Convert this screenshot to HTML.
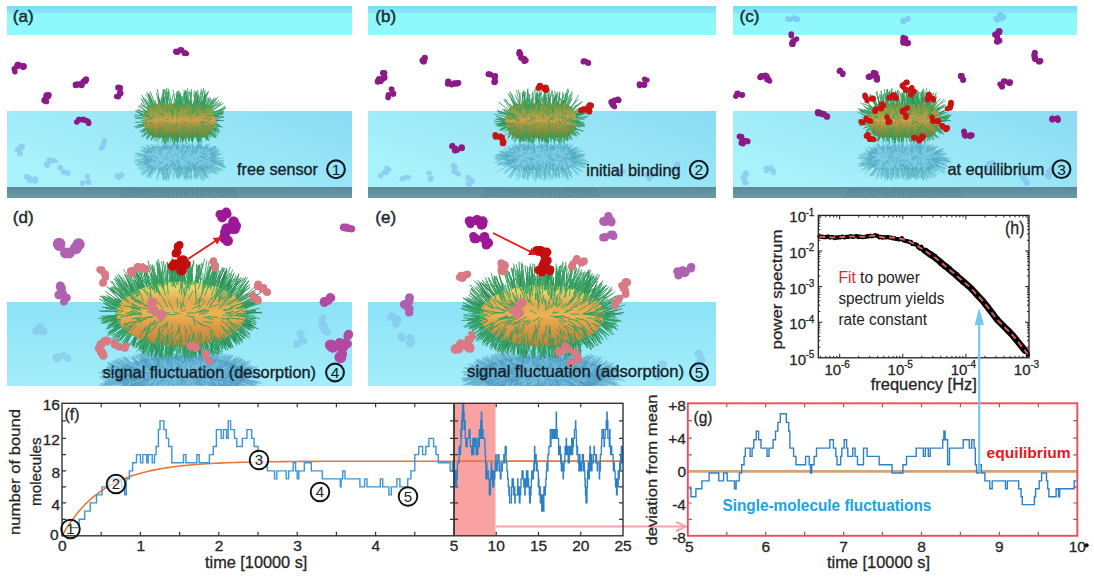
<!DOCTYPE html><html><head><meta charset="utf-8"><style>html,body{margin:0;padding:0;background:#fff;overflow:hidden}svg{display:block}text{font-family:"Liberation Sans",sans-serif}text[fill="#262626"]{stroke:#262626;stroke-width:0.3px}</style></head><body><svg width="1094" height="580" viewBox="0 0 1094 580"><defs><linearGradient id="topband" x1="0" y1="0" x2="0" y2="1"><stop offset="0" stop-color="#7cdcf5"/><stop offset="0.2" stop-color="#84e4f7"/><stop offset="0.3" stop-color="#8df9fc"/><stop offset="1" stop-color="#90f8fb"/></linearGradient><linearGradient id="low1" x1="0" y1="0.6" x2="1" y2="0"><stop offset="0" stop-color="#a8f2fb"/><stop offset="1" stop-color="#8cdbf3"/></linearGradient><linearGradient id="low2" x1="0" y1="0" x2="0" y2="1"><stop offset="0" stop-color="#8de2f7"/><stop offset="1" stop-color="#a3eefa"/></linearGradient><linearGradient id="bar" x1="0" y1="0" x2="0" y2="1"><stop offset="0" stop-color="#5a8a9a"/><stop offset="1" stop-color="#6d9aa8"/></linearGradient><clipPath id="c10"><rect x="7" y="111" width="345" height="76"/></clipPath><clipPath id="c11"><rect x="368" y="111" width="348" height="76"/></clipPath><clipPath id="c12"><rect x="733" y="111" width="344" height="76"/></clipPath><clipPath id="c20"><rect x="7" y="302" width="345" height="84"/></clipPath><clipPath id="c21"><rect x="368" y="302" width="348" height="84"/></clipPath><linearGradient id="B11" x1="0" y1="0" x2="0" y2="1"><stop offset="0" stop-color="#86983e"/><stop offset="0.3" stop-color="#a8a042"/><stop offset="0.5" stop-color="#dea04a"/><stop offset="0.6" stop-color="#b89840"/><stop offset="1" stop-color="#6c8636"/></linearGradient><linearGradient id="B12" x1="0" y1="0" x2="0" y2="1"><stop offset="0" stop-color="#86983e"/><stop offset="0.3" stop-color="#a8a042"/><stop offset="0.5" stop-color="#dea04a"/><stop offset="0.6" stop-color="#b89840"/><stop offset="1" stop-color="#6c8636"/></linearGradient><linearGradient id="B13" x1="0" y1="0" x2="0" y2="1"><stop offset="0" stop-color="#86983e"/><stop offset="0.3" stop-color="#a8a042"/><stop offset="0.5" stop-color="#dea04a"/><stop offset="0.6" stop-color="#b89840"/><stop offset="1" stop-color="#6c8636"/></linearGradient><linearGradient id="B21" x1="0" y1="0" x2="0" y2="1"><stop offset="0" stop-color="#e0c860"/><stop offset="0.1" stop-color="#ecd468"/><stop offset="0.3" stop-color="#e2a850"/><stop offset="0.5" stop-color="#eeb252"/><stop offset="0.7" stop-color="#dc9844"/><stop offset="1" stop-color="#c08038"/></linearGradient><linearGradient id="B22" x1="0" y1="0" x2="0" y2="1"><stop offset="0" stop-color="#e0c860"/><stop offset="0.1" stop-color="#ecd468"/><stop offset="0.3" stop-color="#e2a850"/><stop offset="0.5" stop-color="#eeb252"/><stop offset="0.7" stop-color="#dc9844"/><stop offset="1" stop-color="#c08038"/></linearGradient><marker id="ah" markerWidth="8" markerHeight="8" refX="6" refY="4" orient="auto" markerUnits="userSpaceOnUse"><path d="M0 0L8 4L0 8Z" fill="#e41a1a"/></marker></defs><rect width="1094" height="580" fill="#fff"/><g><rect x="7" y="6" width="345" height="29" fill="url(#topband)" />
<rect x="7" y="111" width="345" height="76" fill="url(#low1)" />
<rect x="7" y="187" width="345" height="11" fill="url(#bar)" />
<rect x="368" y="6" width="348" height="29" fill="url(#topband)" />
<rect x="368" y="111" width="348" height="76" fill="url(#low1)" />
<rect x="368" y="187" width="348" height="11" fill="url(#bar)" />
<rect x="733" y="6" width="344" height="29" fill="url(#topband)" />
<rect x="733" y="111" width="344" height="76" fill="url(#low1)" />
<rect x="733" y="187" width="344" height="11" fill="url(#bar)" />
<rect x="7" y="302" width="345" height="84" fill="url(#low2)" />
<rect x="368" y="302" width="348" height="84" fill="url(#low2)" />
<g fill="#7aaee6" opacity="0.5"><circle cx="102.6" cy="147.6" r="2.6"/><circle cx="101.9" cy="147.6" r="2.6"/><circle cx="101" cy="148.6" r="2.3"/><circle cx="103.5" cy="143.4" r="2.4"/><circle cx="103" cy="145.6" r="2.6"/><circle cx="104.4" cy="142.1" r="2.4"/><circle cx="104.6" cy="140.2" r="2.5"/></g>
<g fill="#7aaee6" opacity="0.5"><circle cx="67.9" cy="172.8" r="2.6"/><circle cx="67.8" cy="173.2" r="2.5"/><circle cx="64.2" cy="172.3" r="2.4"/><circle cx="63.6" cy="171.9" r="2.8"/><circle cx="60.2" cy="167.8" r="2.7"/><circle cx="60.3" cy="168" r="2.3"/></g>
<g fill="#7aaee6" opacity="0.5"><circle cx="35" cy="180" r="2.5"/><circle cx="35.6" cy="180.9" r="2.6"/><circle cx="35.2" cy="178.6" r="2.7"/><circle cx="31.4" cy="179.9" r="2.8"/><circle cx="30" cy="180.6" r="2.6"/><circle cx="29.7" cy="179.7" r="2.7"/><circle cx="26.5" cy="176.8" r="2.6"/><circle cx="28.6" cy="177.8" r="2.8"/><circle cx="27" cy="176.7" r="2.5"/></g>
<g fill="#7aaee6" opacity="0.5"><circle cx="87.1" cy="176.4" r="2.6"/><circle cx="88" cy="176.5" r="2.3"/><circle cx="88.6" cy="182" r="2.6"/><circle cx="87.7" cy="181.9" r="2.3"/><circle cx="88.5" cy="182.2" r="2.8"/><circle cx="82.5" cy="183.9" r="2.3"/><circle cx="82.4" cy="182.7" r="2.4"/><circle cx="83.1" cy="182.3" r="2.3"/></g>
<g fill="#7aaee6" opacity="0.5"><circle cx="55.5" cy="161.1" r="2.4"/><circle cx="53.8" cy="160.4" r="2.5"/><circle cx="51.4" cy="160.7" r="2.6"/><circle cx="49" cy="159.7" r="2.5"/><circle cx="49.5" cy="161.6" r="2.4"/><circle cx="46.1" cy="164" r="2.3"/><circle cx="47.1" cy="165.2" r="2.8"/><circle cx="47.6" cy="163.3" r="2.5"/></g>
<g fill="#7aaee6" opacity="0.5"><circle cx="20" cy="153.6" r="2.7"/><circle cx="20.3" cy="152.5" r="2.4"/><circle cx="19.3" cy="154.1" r="2.4"/><circle cx="19.2" cy="150.1" r="2.5"/><circle cx="17" cy="149.6" r="2.5"/><circle cx="20.7" cy="146.4" r="2.5"/><circle cx="21.4" cy="147.5" r="2.8"/><circle cx="22.1" cy="146.2" r="2.8"/></g>
<g fill="#7aaee6" opacity="0.5"><circle cx="118.6" cy="177.3" r="2.7"/><circle cx="117.4" cy="175.7" r="2.7"/><circle cx="121.5" cy="175.7" r="2.3"/><circle cx="120.7" cy="176.4" r="2.3"/><circle cx="121.8" cy="175" r="2.7"/></g>
<g fill="#7aaee6" opacity="0.5"><circle cx="380.5" cy="175.7" r="2.7"/><circle cx="380.7" cy="175.6" r="2.4"/><circle cx="384.4" cy="172.3" r="2.6"/><circle cx="386.4" cy="172.6" r="2.6"/><circle cx="388.7" cy="169.6" r="2.7"/><circle cx="387.7" cy="170" r="2.8"/><circle cx="386.7" cy="168.2" r="2.6"/></g>
<g fill="#7aaee6" opacity="0.5"><circle cx="402.2" cy="178.7" r="2.7"/><circle cx="403.2" cy="178.3" r="2.6"/><circle cx="408.4" cy="177.5" r="2.4"/><circle cx="406.2" cy="177.6" r="2.5"/></g>
<g fill="#7aaee6" opacity="0.5"><circle cx="431.1" cy="178.1" r="2.6"/><circle cx="430.5" cy="179.4" r="2.7"/><circle cx="429.7" cy="173.3" r="2.3"/><circle cx="428.7" cy="173.1" r="2.4"/></g>
<g fill="#7aaee6" opacity="0.5"><circle cx="458.6" cy="174.3" r="2.5"/><circle cx="456.8" cy="172.9" r="2.5"/><circle cx="453.4" cy="171.3" r="2.4"/><circle cx="454.9" cy="172.1" r="2.5"/><circle cx="454.1" cy="170.4" r="2.3"/><circle cx="453.4" cy="165.2" r="2.5"/><circle cx="453.9" cy="166.5" r="2.3"/><circle cx="454.9" cy="167.3" r="2.8"/></g>
<g fill="#7aaee6" opacity="0.5"><circle cx="467.9" cy="183.5" r="2.5"/><circle cx="469.6" cy="185.3" r="2.4"/><circle cx="471.8" cy="180" r="2.3"/><circle cx="471.8" cy="180.9" r="2.3"/><circle cx="472.4" cy="181.5" r="2.7"/><circle cx="467.9" cy="178.3" r="2.5"/><circle cx="468.6" cy="177.5" r="2.8"/></g>
<g fill="#7aaee6" opacity="0.5"><circle cx="623.2" cy="171.3" r="2.4"/><circle cx="621.2" cy="171.2" r="2.6"/><circle cx="618.1" cy="173.8" r="2.8"/><circle cx="617.5" cy="171.7" r="2.6"/></g>
<g fill="#7aaee6" opacity="0.5"><circle cx="647.6" cy="174.7" r="2.7"/><circle cx="647.3" cy="175.3" r="2.8"/><circle cx="649.5" cy="178.5" r="2.7"/><circle cx="650.3" cy="177.4" r="2.5"/><circle cx="652.5" cy="175.9" r="2.4"/><circle cx="652.8" cy="174.2" r="2.8"/></g>
<g fill="#7aaee6" opacity="0.5"><circle cx="671.1" cy="169.9" r="2.4"/><circle cx="673.2" cy="171.3" r="2.6"/><circle cx="675.4" cy="167.7" r="2.5"/><circle cx="675" cy="167.9" r="2.7"/><circle cx="675.4" cy="169.3" r="2.3"/><circle cx="677.8" cy="164.1" r="2.6"/><circle cx="677" cy="165.9" r="2.8"/></g>
<g fill="#78aef0" opacity="0.6"><circle cx="796.4" cy="19.2" r="2.6"/><circle cx="796.1" cy="19.5" r="2.8"/><circle cx="797.6" cy="19.2" r="2.7"/><circle cx="793.8" cy="18.1" r="2.8"/><circle cx="793.4" cy="18.4" r="2.4"/><circle cx="790.3" cy="19.6" r="2.5"/><circle cx="787.9" cy="18.7" r="2.6"/><circle cx="788.4" cy="19.3" r="2.5"/></g>
<g fill="#78aef0" opacity="0.6"><circle cx="907.6" cy="19.4" r="2.7"/><circle cx="907.9" cy="18.7" r="2.7"/><circle cx="902.9" cy="20.6" r="2.6"/><circle cx="903.4" cy="21.6" r="2.6"/><circle cx="903.2" cy="19.8" r="2.4"/></g>
<g fill="#78aef0" opacity="0.6"><circle cx="995.5" cy="18.3" r="2.4"/><circle cx="997.2" cy="20" r="2.7"/><circle cx="998.8" cy="15.6" r="2.3"/><circle cx="999.9" cy="14.9" r="2.8"/><circle cx="1000" cy="14.4" r="2.5"/><circle cx="1001.9" cy="19" r="2.4"/><circle cx="1002.9" cy="16.9" r="2.6"/><circle cx="1003.9" cy="16.9" r="2.7"/></g>
<g fill="#7aaee6" opacity="0.5"><circle cx="745.4" cy="173.1" r="2.8"/><circle cx="746.2" cy="173.8" r="2.7"/><circle cx="745.5" cy="173.7" r="2.3"/><circle cx="744.6" cy="176.9" r="2.8"/><circle cx="744.3" cy="179" r="2.4"/><circle cx="743.4" cy="177.6" r="2.8"/><circle cx="746.4" cy="182.7" r="2.4"/><circle cx="744.5" cy="182.2" r="2.6"/><circle cx="744.8" cy="183" r="2.5"/></g>
<g fill="#7aaee6" opacity="0.5"><circle cx="766.5" cy="170.2" r="2.6"/><circle cx="766.6" cy="170.5" r="2.6"/><circle cx="766.1" cy="168.2" r="2.7"/><circle cx="770.2" cy="168.2" r="2.3"/><circle cx="770.9" cy="167.8" r="2.5"/><circle cx="773.6" cy="173" r="2.4"/><circle cx="773.4" cy="171.2" r="2.6"/><circle cx="772.7" cy="170.9" r="2.4"/></g>
<g fill="#7aaee6" opacity="0.5"><circle cx="989.1" cy="169" r="2.5"/><circle cx="987.1" cy="166.8" r="2.3"/><circle cx="987.6" cy="166.6" r="2.4"/><circle cx="989.8" cy="164" r="2.5"/><circle cx="988.5" cy="163.4" r="2.5"/><circle cx="992.5" cy="164.3" r="2.4"/><circle cx="993.1" cy="163.4" r="2.8"/><circle cx="992.3" cy="162.5" r="2.4"/></g>
<g fill="#7aaee6" opacity="0.5"><circle cx="1047.3" cy="175.4" r="2.7"/><circle cx="1049.1" cy="176.9" r="2.6"/><circle cx="1050.8" cy="170.7" r="2.3"/><circle cx="1048.6" cy="171.5" r="2.7"/><circle cx="1050.7" cy="172" r="2.6"/><circle cx="1051.8" cy="168" r="2.6"/><circle cx="1051.9" cy="169.5" r="2.8"/></g>
<g fill="#7aaee6" opacity="0.5"><circle cx="1026.8" cy="182.9" r="2.8"/><circle cx="1027.1" cy="182.8" r="2.7"/><circle cx="1025.7" cy="180.3" r="2.5"/><circle cx="1025.3" cy="180.2" r="2.6"/><circle cx="1024.5" cy="179.6" r="2.5"/><circle cx="1023.2" cy="177.1" r="2.5"/><circle cx="1022.5" cy="177.1" r="2.8"/></g>
<g clip-path="url(#c10)"><g transform="matrix(1 0 0 -0.7 0 242.5)"><rect x="143.6" y="103.5" width="72" height="34" rx="14.4" ry="17" fill="#5aaed0" opacity="0.5"/><g opacity="0.6"><path d="M181.9 122.6L181.8 123.2M184.5 134.3L183.6 139.2M157.2 130.6L155.9 133.9M150.8 129.3L148.1 134.1M173.2 118.4L174.2 118.9M190.9 103.6L191.4 89.1M185.1 105.5L184.3 92.4M198.2 103.6L196.6 91M144.5 115L135.3 110.5M188.7 120.9L187.5 119.1M164.5 111L167.1 104.3M181.4 136.9L182.6 141.9M210 132.9L215 137.7M189.1 111.8L189.7 107.7M184 123L183 125.6M167 124.6L167.7 125.1M203 106.7L207.9 97.6M179.5 131.1L180.6 133.5M192.5 116.5L192.2 117.1M161.5 131.7L160.9 136.1M167.4 113.6L167.3 111.4M149.3 110.6L140.8 103.1M152 106.3L148.5 95.2M149.5 129.7L144 133.8M213.3 128.2L217.7 132.4M173.3 134.6L172.3 139.5M183.6 112L186.2 107M158.9 106.9L159.4 98.8M184.1 122.5L183.2 124M180.7 103.9L178.9 90.9M172.6 122.8L171.7 122M211.3 115.8L217.7 115.7M152.8 116.2L145.7 112M154.9 127.7L152.3 131.3M177.9 136.8L177.6 141.8M194.5 133.8L195.1 137.2M146.9 113.3L136.7 110M200.5 117.8L202 116.3M152.9 134.9L151.2 140.2M160 107.1L158.3 96.5M183.3 136.1L182.4 140.3M152.1 127.8L149.3 130M162.2 104L163.9 89.3M198.2 120.5L196.8 120.2M155.5 115.2L153.5 114.2M170.1 116.7L171.2 116.4M211.6 122.1L218.1 122M185.8 107.6L184.8 99.1M182 134.1L182.1 137.4M200.8 109L204.9 102.9M210.5 108.8L221.1 101.7M209.4 133.4L215.4 137.8M176.6 104.3L177.8 94.7M144.8 125.9L135.5 128.1M162.5 120.2L163.8 120M160.3 130.3L159 133.2M178.4 119.3L178.7 119M195.4 107L197.7 96.4M151 109.2L145.2 100.2M174.9 137.4L174.4 141.5M210 130.4L214.4 134.5M211.9 111.7L220.9 103.9M185.2 135.8L185.9 140.2M175.8 137.5L177.2 142.6M203.7 131.5L204.6 134.5M179.6 104.4L180.8 92.5M204 118.1L205.3 116.6M181.4 108L178.1 95.1M190.7 105.1L190.9 97.6M172.9 109L174.7 102.9M171.8 122.8L173.6 123.1M167.1 127.2L168.7 129.7M148.1 113.4L139.4 105.2M208 108.1L214.1 97.7M211.9 123.5L218.4 125.2M191.1 107.2L190.1 100.3M159.8 103.8L157.3 89M200.1 111.6L201.4 104.3M213.9 123.7L220.8 126.3M170.6 134L169.5 137.7M199.9 117.9L199.7 116.4M201.1 107.3L200.8 98.4M200.2 137.4L200 142.3M210 117.2L214.4 117.1M208.8 120.9L214.9 119M173.4 116.6L174 115.4M206.8 110.3L211.6 100.2M211.3 109.2L218.7 100.2M166.4 121.3L165.8 120.4M203.3 132.8L204.3 135.9M182.7 137.5L182.8 142.2M170.2 112.4L169.6 107.9M153.3 105.2L148.4 93.4M195.2 111L193.4 106.5M148.1 109.4L140.6 104.6M154.5 133.1L152.4 137.4M163 108.5L161.1 103.1M147.7 127.9L141.4 130.6M209.9 122L216.1 123.7M154.1 105.9L148.1 94.3M214.7 116.6L222.7 111.8M172.9 112.8L173.3 107.5M163.6 103.5L163.5 89.8M176.4 133.4L176.1 138.1M203.9 105.3L205 93.2M205.4 135.6L209.3 140.6M200.3 127.8L202 130.2M201.8 117.5L202.4 113.9M174.2 115.7L172.6 113.6M184 126.4L185.2 128.5M192.4 137.5L192.3 142.4M188.6 115.7L188.2 114.3M169.5 130.8L170 133.5M198.4 108.8L200.4 102.1M181 128.6L180.1 131.1M203.5 133.7L205.3 138.2M184.5 127.5L185.3 130.3M176.1 104.3L176.9 91.5M179.8 120.8L179.3 121.5M194.7 119.9L193 119.6M192.1 136.8L192.6 141.9M188.8 107.5L186.8 97.5M191.4 137.1L192 141.3M158.5 120.5L155.6 120.5M161 104L162.6 93M207.1 133.7L209.6 137.7M170.5 105.7L173.4 94.1M213.7 120.4L220.1 120.2M160 128.2L159.5 130.7M204.9 109.9L208.8 105.2M197.3 114L197.7 110.8M214.7 118.9L224.1 116.8M186.4 107.3L188.7 100.4M206.8 132.9L208.1 137.1M186.4 116.3L188.9 112.7M165 131.4L165.3 134.6M210.7 118.4L218.5 116.2M182.4 130.7L182 134.6M200.8 133.4L202.1 137.8M206.9 129.6L211.3 133.1M160.2 114.9L159.9 113.1M193.8 103.9L195.9 91.4M149.6 115L143 109.8M194.9 106.3L195.3 94.4M214.2 115.9L223.9 111.5M168.1 137.5L167.9 142.5M203.8 122.4L208.1 124.1M150.1 119.4L143.9 117.9M173.8 113.2L175.3 108.3M178.8 134.9L178.4 139M170.3 127.5L169.4 130.5M176.3 115.7L175.5 109.9M165.8 134.5L166.6 138.6M183.1 136.8L183.1 141.3M163.1 123.7L161.1 124.3M152.1 109.7L147.5 102.9M206.3 135.4L208 139.9M213.3 122.5L219.4 125.2M172.4 136L173.2 140.3M156.6 107.4L154.9 99.9M149.5 117.8L145.7 118.3M205.9 107.3L209.2 98.8M158.8 104.1L156.4 92.9M214.7 126.1L222.4 127.1M188.2 109.3L190.2 100.2M185.4 135.3L185.8 139.4M179.1 111.3L181.1 105.4M180.6 120L181.1 120.2M197 105.2L196.7 93.3M199 121.1L198 119.2M189.7 109.4L187.7 103.2M154.3 123.6L151.9 125.8M144.2 122L135.2 122.3M214.7 116.5L223.5 117M164.6 119.5L166 118.7M203.3 105.9L204.7 96M178.6 127.2L178.4 129.5M146.8 117.6L140 114.5M149.9 114.7L144.4 110.7M148 121.5L142.8 122.9M158.7 126.8L156.4 128.1M207.7 106.7L214.2 99.9M163.9 134.3L164.5 138.9M191.7 129.1L190.8 131.4M201.7 120.7L204.9 120.2M192.1 123.6L192.7 126M194.1 127.9L193.3 131.4M187 109L188.6 102.3M174 116.2L174.3 115.6M187.1 103.6L185.8 91.1M167.9 128.3L169.1 130.7M170 117.7L170.2 116.9M198.2 108L201.8 101M201.3 106L205.8 94.7M203.9 105.3L206.2 93.6M144 123.8L137.2 125.7M152.2 118.2L147 115.3M151.5 111.1L147 107M178.6 119L177.8 117.2M179.4 117.9L177.9 114.4M180.8 110.1L178.9 105.1M183.1 123.6L181.9 125.1M199.8 116.3L202.2 116.1M166.8 111.1L165.1 107M175.2 137.4L174.8 141.6M171.7 136.5L172.5 140.4M193 135.8L191.8 140.3M183.6 119L185.7 115.9M214.2 120.1L223.9 120.7M155.2 104.8L150.3 91.4M190.3 118.1L189.5 118.1M167.6 137.1L167.8 141M180.8 104.9L181.3 96.1M198.6 137.1L198.8 142.3M157 121.7L153.9 123M180 109.3L177.7 100M186.4 104.1L183.9 90M165.6 104.6L168.2 94.4M203.7 133.8L205.6 137M213.1 129.2L219 133.1M181.4 119.9L182.9 119.7M188.9 136.1L188.4 141.1M165.1 106.7L163.3 97.3M174.6 103.6L178.3 90.5M151.9 128.4L146.8 131.2M211.1 127.3L215.5 130.1M167.9 105.3L166 96.6M195.7 128.3L195.9 130.9M209.1 109.5L216.4 99.1M213.7 128L220.3 131.6M180.2 137.4L180.8 143M166.1 110.3L164.7 105.4M181.4 106.8L184.7 96.3M166.6 132L168.3 136.4M182.1 104.3L179.5 94.3M176.8 120.7L178.1 122.2M189.8 136.9L189.4 141.7M159.6 106.9L161.5 98.6M191.2 105.3L189.9 92.1M194.7 128.6L194.7 132M169.2 109L166.8 101.4M148.1 132L141.3 136.4M212.4 127.1L218.7 130.1M150.8 106.8L142.2 97.1M194.2 114L192.8 107.9M183.2 120.9L184.7 119.6M164 103.6L165.7 91.6M190.5 125.4L189.1 127M143.9 118.3L134.6 116.5M153.7 105.7L146.5 92.1M162.9 137.1L162.9 141.4M206.5 113.5L210.9 109.2M159.9 135.6L159.9 139M189 130.9L190.2 134.3M196.7 105L198.3 94.4M194.3 132.6L194.3 136.9M180.6 122.5L181.5 123.3M208.4 126.4L214.2 129M198.7 103.6L202.2 91M152.5 110.1L147.4 105.7M177.4 133.3L176.9 137M209.4 132.7L213.2 136.3M196.1 130.1L197.5 132.5M152.7 120.7L147.3 122.8M146.7 128.8L139.4 131.9M153 106.2L144.4 97.8M153.2 134.6L152.1 138.7M206.5 135L208.7 140.2M148.5 126.2L143.4 128.8M161.7 133.4L162.5 137.9M184 123.9L184.9 125.4M159.8 116.7L158 115.9M203.1 105L205.1 90.2M185 128.7L185.5 132.2M177 137L177.9 143M205.3 108.1L210.6 98M180.2 115L178.6 113.7M145.7 124.8L138.6 125.5M158.4 112.2L157.9 108.8" stroke="#3592aa" stroke-width="0.8" fill="none"/><path d="M213.3 112L223.6 109.6M167.8 104.3L164.1 89.7M184.9 126.3L185.8 131M197.9 115.6L195.5 110.7M209.2 110.2L215.4 100.4M164 133.5L163.1 139M152.2 132.6L148.8 137.2M208.4 129.6L211.2 134.5M167.3 112.7L167.4 108.1M212.5 130L216.5 133.9M156.1 117.7L151.7 115.8M200.7 111.2L205.9 102.1M148.1 131.7L142.4 137.4M177.7 105.6L175.9 93.7M187.5 132.6L187 137.6M184.5 137L185.4 141.7M187.1 128.3L187.7 133.3M146 129.2L141.7 133.8M156.2 135.7L153.6 140.7M200.2 136.4L201.6 141.7M204.1 107.3L209.6 96.8M146.8 123.4L137.1 125.3M186.7 108.7L185.4 99M180 104.6L177.9 92M204.7 134.3L207.1 140.6M188.2 104.9L185 90.2M175.9 137.5L174.3 143.8M181.6 127.8L181.8 131.9M160 126.8L159.9 129.5M202.1 109.8L205.9 100M199.9 127.1L201.6 130.5M179.4 135.2L177.9 140.9M149.4 108.3L141.5 94.9M153.4 135.9L150.7 140.4M186 121.7L186.6 123.5M148.9 127.9L142.1 131.6M176.8 135.8L175.9 140.6M211 127.7L215.9 131.9M201.1 106.6L204.5 94.9M191.4 112.7L192.7 104.8M182 124.8L183.2 127.2M174.2 137.2L173.8 142.5M211.2 131.8L216.1 137.5M208.6 107.5L215.8 97.9M205.6 109.5L210.8 99.1M189.7 115.3L188.5 108.4M202.7 113L206.8 105.7M176.7 106.6L179.4 99.2M164.7 103.5L162.8 89.3M167.6 106L165 93.1M153.5 105.7L148.1 93.6M198.2 137L197.6 142.5M148.3 132.1L143.8 136.2M145.8 113.3L138 108.8M192.2 107.9L191 100.5M173.4 115L173.3 111.7M196.5 132L197.3 135.9M164.2 137.4L164.8 143.6M173.2 110.3L174.1 104.7M195.9 112L195.7 106.3M154.7 129.8L151.4 133.9M149.6 113.9L143.2 108.5M153.1 109L148.3 98.6M168.2 123L165.4 124.6M170.6 132.4L170.1 138.5M197.1 134.6L196.9 140.6M198.7 109.9L201.1 102.1M159.7 128.8L159 133M209.1 133.4L211.6 137.9M179.7 115.5L177.1 111.5M175.6 104.1L173.1 89.6M152.6 118.3L144.6 115.7M204.2 104.9L207.7 91.8M167.5 104.1L168.7 89.4M152.1 132.2L147.4 136.4M202.1 103.9L208.8 90.9M195.9 126.3L194.7 129M200.5 137.1L201.8 142M212.1 110.5L223.6 103.1M173.6 137.5L174.8 142.7M192.6 113.9L194.6 110.9M167.5 105L166.9 92.5M172.8 114.3L169.3 108.3M162.7 115.2L159.2 113.4M172.5 118.3L170.7 116M152.7 119.2L148.1 119.1M171.7 110.6L169.7 106.6M152.3 122.3L148.6 124.1M175.2 109.2L175.1 102.7M166.9 137.2L166.3 142.7M163 116.3L160.4 113M200.6 133.1L201.3 138.7M199.7 109.6L202.8 100.9M214 115.8L223.4 113.3M213 125.3L219.1 129.3M153.8 105.6L145.5 94.5M187.8 104.6L189.6 90.9M161.6 130.3L161.5 136M201.9 106.4L204.7 94.3M144.6 118.9L134.9 118.4M178.9 112.5L177.3 108.6M202.1 106.1L208 92.3M161 103.6L164.5 89.3M196.7 116.1L197.6 112.6M195 108.7L192.9 100.5M208.4 128.8L211.2 133.5M161 126.6L160.4 130.4M194.1 108.6L195.3 99.9M183.4 132.8L183.5 137.7M156.3 133.8L152.4 138.9M202.5 124.9L207.5 127.2M213.6 112.8L225.4 107.6M173.5 108.2L174.4 98.4M165.5 137.5L165.4 143.7M213.6 116.4L223.4 113.1M193.8 106.3L196.7 92.3M188.8 134.7L188.7 139.8M196.9 106.7L198.4 95.3M194.6 104.6L194.1 90.1M147.6 112.3L137.8 105.7M172.6 137.3L173.1 143.5M185.5 103.7L188.7 92.4M190.6 107.2L190.6 99.2M180.1 106.7L181.6 98.5M177.8 131.6L177.6 138M197.5 128.8L197.1 132.5M172.5 124.7L170.9 127M172 135.1L172.3 140.8M206.6 108.3L216.1 100.3M203.5 113.9L206.9 110.9M196.8 131.8L198.3 137M186.8 114.6L188.1 111.1M199.4 103.5L197.7 89.7M187.1 104L185.7 91.4M191.9 113.6L193.3 108.1M210.6 131.9L216 137.3M187.1 132.4L187.3 138.9M152.6 108.2L148 101.1M204.4 129.1L208.1 132.9M212.8 115.2L222.5 111M202.8 128.2L204.7 131.8M214 115L225.4 107.2M148.2 119.8L140.8 120.8M199.4 123L203 122M186.2 121.6L185.5 123.6M198.6 137.4L198.7 142.5M201.2 132.3L202.2 137.4M188.6 103.6L185.7 90.4M150.7 107L142.2 98.5M184.3 108.3L183.3 96.9M200.1 122.2L204.5 121.8M196.6 106.1L193.5 93.8M195.7 127.7L195.2 131.2M159.4 136.2L157.6 142M209.7 125.2L217.1 127.4M192.6 126.6L191.9 131.3M145.1 115L136.5 112M149.4 115.5L138.6 113.8M149.1 111.2L141.7 100.8M211.7 131.2L216.2 136.8M185.2 137.5L186.9 143.8M196.8 135.7L198.1 140.8M168.2 133.4L167.5 138.1M176.8 132.8L177.8 138.3M194.3 104.8L196.3 92.1M177.8 108.2L178.8 98.4M185.4 103.8L186.9 90.9M198.4 103.5L201.5 88.6M152.3 129.2L146.6 133.9M191.2 117.9L190.2 115.6M159.2 132.5L158.2 137.8M154.6 130.4L152 135.5M169.1 135.7L168 141.1M171.6 131.9L171.1 136.9M161.2 107.8L162 98.9M180 107.9L182.8 96M210.4 124.7L216.7 127.3M202.7 125.9L204.9 128.5M175.7 131.2L178.3 135.9M149.3 116.4L139.6 114M167.7 104.1L166.2 87.9M204.3 135.1L206.5 140.6M156.6 135.2L156 141.4M192.8 134.7L193.8 139.9M164.9 103.5L166.1 89.6M166.3 132.4L166.3 136.9M201 103.7L203.8 87.9M199.4 137L198.8 141.9M210 109.1L217.4 101.6M187.8 104L187.7 87.9M172.7 115.6L171.3 110.9M162 122.1L162 123M164.9 136.6L163.9 141.5M150.4 109.3L140.7 98.7M175.7 124.3L174.9 128.2M171.8 112.6L174.1 109.4M177.5 134.9L176.3 139.8M148.1 122.4L143.4 123.2M209.6 131.8L216.1 135.4M212.4 129.3L218.3 132.2M189.4 103.8L191.8 92M176.7 105.8L178.3 94.4M183.4 108.5L179.6 98.5M182 105.9L183.9 93M149.4 133.1L145.8 137.7M209.3 108.1L218.2 96.6M214.2 113.8L225.4 105.7M165.4 111.2L163.6 101.8M178 123L176.3 126M165.8 134L166.7 138.9M189.7 103.9L191.3 91.8M196.4 134.3L197.4 140.4M144.2 116.7L134.4 114.6M162.6 106.9L161 99.1M194 111.9L193.6 108.2M211.9 131.1L218.1 135.7M163.7 137.4L164.4 143M178.8 110L176.7 100.6M171 137.3L170 142.8M178.1 136.6L178.4 141.9M207.5 120.8L212.1 118.1M150.3 133.8L146.4 139.5M203.9 121.6L207.3 123.6M169.9 103.9L167.9 88.3M163.3 137.2L161.6 143M204.1 118.8L208.2 118M144.5 125.2L134 126.7M207.2 115.7L214 115.4M198.3 115.3L197.9 112.8M165.3 134.5L165 141.2M180.8 103.8L178.2 91.7M180.5 105.2L180.7 95.3M155 107.5L149.7 97.9M155.2 105.7L148.9 93.5M214.8 115.9L223.4 114.1M189.9 133.2L189.7 138.4M157.1 111.2L153 107.3M214.2 115L226 108.2M169.5 103.7L167.1 91.4M196.7 108.1L199 100.6M168.3 119.3L166.7 120.1M171.3 131.3L169.9 135.6M202.2 110.7L207.5 103.5M189.6 123.6L192.5 126.3M212.1 113.1L221.2 109.4M199.4 135.2L199.8 141.5M151.2 118.2L143.9 113.1M162.4 131.7L162.1 136.8M200.3 104.9L203.5 89.3M210.9 110.1L220.6 103.4M192.8 130.7L192.9 135.9M150.4 129L142.8 132.2M182.4 128.1L182.3 130.9M171.2 103.5L169.3 91.7M150.8 134.1L146.7 138.4M199.7 133.7L200.6 138.6M198.4 135.7L198.1 141.6M151 133.9L147.2 139.4M180 111.7L177 103.8M200.6 123.4L203.7 126.2M177.2 118.1L176.7 114.9" stroke="#3592aa" stroke-width="0.8" fill="none"/></g></g></g>
<path d="M181.9 122.6L181.8 123.2M184.5 134.3L183.6 139.2M157.2 130.6L155.9 133.9M150.8 129.3L148.1 134.1M173.2 118.4L174.2 118.9M190.9 103.6L191.4 89.1M185.1 105.5L184.3 92.4M198.2 103.6L196.6 91M144.5 115L135.3 110.5M188.7 120.9L187.5 119.1M164.5 111L167.1 104.3M181.4 136.9L182.6 141.9M210 132.9L215 137.7M189.1 111.8L189.7 107.7M184 123L183 125.6M167 124.6L167.7 125.1M203 106.7L207.9 97.6M179.5 131.1L180.6 133.5M192.5 116.5L192.2 117.1M161.5 131.7L160.9 136.1M167.4 113.6L167.3 111.4M149.3 110.6L140.8 103.1M152 106.3L148.5 95.2M149.5 129.7L144 133.8M213.3 128.2L217.7 132.4M173.3 134.6L172.3 139.5M183.6 112L186.2 107M158.9 106.9L159.4 98.8M184.1 122.5L183.2 124M180.7 103.9L178.9 90.9M172.6 122.8L171.7 122M211.3 115.8L217.7 115.7M152.8 116.2L145.7 112M154.9 127.7L152.3 131.3M177.9 136.8L177.6 141.8M194.5 133.8L195.1 137.2M146.9 113.3L136.7 110M200.5 117.8L202 116.3M152.9 134.9L151.2 140.2M160 107.1L158.3 96.5M183.3 136.1L182.4 140.3M152.1 127.8L149.3 130M162.2 104L163.9 89.3M198.2 120.5L196.8 120.2M155.5 115.2L153.5 114.2M170.1 116.7L171.2 116.4M211.6 122.1L218.1 122M185.8 107.6L184.8 99.1M182 134.1L182.1 137.4M200.8 109L204.9 102.9M210.5 108.8L221.1 101.7M209.4 133.4L215.4 137.8M176.6 104.3L177.8 94.7M144.8 125.9L135.5 128.1M162.5 120.2L163.8 120M160.3 130.3L159 133.2M178.4 119.3L178.7 119M195.4 107L197.7 96.4M151 109.2L145.2 100.2M174.9 137.4L174.4 141.5M210 130.4L214.4 134.5M211.9 111.7L220.9 103.9M185.2 135.8L185.9 140.2M175.8 137.5L177.2 142.6M203.7 131.5L204.6 134.5M179.6 104.4L180.8 92.5M204 118.1L205.3 116.6M181.4 108L178.1 95.1M190.7 105.1L190.9 97.6M172.9 109L174.7 102.9M171.8 122.8L173.6 123.1M167.1 127.2L168.7 129.7M148.1 113.4L139.4 105.2M208 108.1L214.1 97.7M211.9 123.5L218.4 125.2M191.1 107.2L190.1 100.3M159.8 103.8L157.3 89M200.1 111.6L201.4 104.3M213.9 123.7L220.8 126.3M170.6 134L169.5 137.7M199.9 117.9L199.7 116.4M201.1 107.3L200.8 98.4M200.2 137.4L200 142.3M210 117.2L214.4 117.1M208.8 120.9L214.9 119M173.4 116.6L174 115.4M206.8 110.3L211.6 100.2M211.3 109.2L218.7 100.2M166.4 121.3L165.8 120.4M203.3 132.8L204.3 135.9M182.7 137.5L182.8 142.2M170.2 112.4L169.6 107.9M153.3 105.2L148.4 93.4M195.2 111L193.4 106.5M148.1 109.4L140.6 104.6M154.5 133.1L152.4 137.4M163 108.5L161.1 103.1M147.7 127.9L141.4 130.6M209.9 122L216.1 123.7M154.1 105.9L148.1 94.3M214.7 116.6L222.7 111.8M172.9 112.8L173.3 107.5M163.6 103.5L163.5 89.8M176.4 133.4L176.1 138.1M203.9 105.3L205 93.2M205.4 135.6L209.3 140.6M200.3 127.8L202 130.2M201.8 117.5L202.4 113.9M174.2 115.7L172.6 113.6M184 126.4L185.2 128.5M192.4 137.5L192.3 142.4M188.6 115.7L188.2 114.3M169.5 130.8L170 133.5M198.4 108.8L200.4 102.1M181 128.6L180.1 131.1M203.5 133.7L205.3 138.2M184.5 127.5L185.3 130.3M176.1 104.3L176.9 91.5M179.8 120.8L179.3 121.5M194.7 119.9L193 119.6M192.1 136.8L192.6 141.9M188.8 107.5L186.8 97.5M191.4 137.1L192 141.3M158.5 120.5L155.6 120.5M161 104L162.6 93M207.1 133.7L209.6 137.7M170.5 105.7L173.4 94.1M213.7 120.4L220.1 120.2M160 128.2L159.5 130.7M204.9 109.9L208.8 105.2M197.3 114L197.7 110.8M214.7 118.9L224.1 116.8M186.4 107.3L188.7 100.4M206.8 132.9L208.1 137.1M186.4 116.3L188.9 112.7M165 131.4L165.3 134.6M210.7 118.4L218.5 116.2M182.4 130.7L182 134.6M200.8 133.4L202.1 137.8M206.9 129.6L211.3 133.1M160.2 114.9L159.9 113.1M193.8 103.9L195.9 91.4M149.6 115L143 109.8M194.9 106.3L195.3 94.4M214.2 115.9L223.9 111.5M168.1 137.5L167.9 142.5M203.8 122.4L208.1 124.1M150.1 119.4L143.9 117.9M173.8 113.2L175.3 108.3M178.8 134.9L178.4 139M170.3 127.5L169.4 130.5M176.3 115.7L175.5 109.9M165.8 134.5L166.6 138.6M183.1 136.8L183.1 141.3M163.1 123.7L161.1 124.3M152.1 109.7L147.5 102.9M206.3 135.4L208 139.9M213.3 122.5L219.4 125.2M172.4 136L173.2 140.3M156.6 107.4L154.9 99.9M149.5 117.8L145.7 118.3M205.9 107.3L209.2 98.8M158.8 104.1L156.4 92.9M214.7 126.1L222.4 127.1M188.2 109.3L190.2 100.2M185.4 135.3L185.8 139.4M179.1 111.3L181.1 105.4M180.6 120L181.1 120.2M197 105.2L196.7 93.3M199 121.1L198 119.2M189.7 109.4L187.7 103.2M154.3 123.6L151.9 125.8M144.2 122L135.2 122.3M214.7 116.5L223.5 117M164.6 119.5L166 118.7M203.3 105.9L204.7 96M178.6 127.2L178.4 129.5M146.8 117.6L140 114.5M149.9 114.7L144.4 110.7M148 121.5L142.8 122.9M158.7 126.8L156.4 128.1M207.7 106.7L214.2 99.9M163.9 134.3L164.5 138.9M191.7 129.1L190.8 131.4M201.7 120.7L204.9 120.2M192.1 123.6L192.7 126M194.1 127.9L193.3 131.4M187 109L188.6 102.3M174 116.2L174.3 115.6M187.1 103.6L185.8 91.1M167.9 128.3L169.1 130.7M170 117.7L170.2 116.9M198.2 108L201.8 101M201.3 106L205.8 94.7M203.9 105.3L206.2 93.6M144 123.8L137.2 125.7M152.2 118.2L147 115.3M151.5 111.1L147 107M178.6 119L177.8 117.2M179.4 117.9L177.9 114.4M180.8 110.1L178.9 105.1M183.1 123.6L181.9 125.1M199.8 116.3L202.2 116.1M166.8 111.1L165.1 107M175.2 137.4L174.8 141.6M171.7 136.5L172.5 140.4M193 135.8L191.8 140.3M183.6 119L185.7 115.9M214.2 120.1L223.9 120.7M155.2 104.8L150.3 91.4M190.3 118.1L189.5 118.1M167.6 137.1L167.8 141M180.8 104.9L181.3 96.1M198.6 137.1L198.8 142.3M157 121.7L153.9 123M180 109.3L177.7 100M186.4 104.1L183.9 90M165.6 104.6L168.2 94.4M203.7 133.8L205.6 137M213.1 129.2L219 133.1M181.4 119.9L182.9 119.7M188.9 136.1L188.4 141.1M165.1 106.7L163.3 97.3M174.6 103.6L178.3 90.5M151.9 128.4L146.8 131.2M211.1 127.3L215.5 130.1M167.9 105.3L166 96.6M195.7 128.3L195.9 130.9M209.1 109.5L216.4 99.1M213.7 128L220.3 131.6M180.2 137.4L180.8 143M166.1 110.3L164.7 105.4M181.4 106.8L184.7 96.3M166.6 132L168.3 136.4M182.1 104.3L179.5 94.3M176.8 120.7L178.1 122.2M189.8 136.9L189.4 141.7M159.6 106.9L161.5 98.6M191.2 105.3L189.9 92.1M194.7 128.6L194.7 132M169.2 109L166.8 101.4M148.1 132L141.3 136.4M212.4 127.1L218.7 130.1M150.8 106.8L142.2 97.1M194.2 114L192.8 107.9M183.2 120.9L184.7 119.6M164 103.6L165.7 91.6M190.5 125.4L189.1 127M143.9 118.3L134.6 116.5M153.7 105.7L146.5 92.1M162.9 137.1L162.9 141.4M206.5 113.5L210.9 109.2M159.9 135.6L159.9 139M189 130.9L190.2 134.3M196.7 105L198.3 94.4M194.3 132.6L194.3 136.9M180.6 122.5L181.5 123.3M208.4 126.4L214.2 129M198.7 103.6L202.2 91M152.5 110.1L147.4 105.7M177.4 133.3L176.9 137M209.4 132.7L213.2 136.3M196.1 130.1L197.5 132.5M152.7 120.7L147.3 122.8M146.7 128.8L139.4 131.9M153 106.2L144.4 97.8M153.2 134.6L152.1 138.7M206.5 135L208.7 140.2M148.5 126.2L143.4 128.8M161.7 133.4L162.5 137.9M184 123.9L184.9 125.4M159.8 116.7L158 115.9M203.1 105L205.1 90.2M185 128.7L185.5 132.2M177 137L177.9 143M205.3 108.1L210.6 98M180.2 115L178.6 113.7M145.7 124.8L138.6 125.5M158.4 112.2L157.9 108.8" stroke="#26844d" stroke-width="0.8" fill="none"/>
<rect x="143.6" y="103.5" width="72" height="34" rx="14.4" ry="17" fill="url(#B11)"/>
<path d="M146.6 111.1V129.9M149.4 107.9V133.1M152.1 106V135M154.2 105.1V135.9M157.2 104.5V136.5M159.6 104.5V136.5M161.8 104.5V136.5M163.9 104.5V136.5M166.6 104.5V136.5M168.9 104.5V136.5M171.5 104.5V136.5M173.6 104.5V136.5M176.5 104.5V136.5M178.6 104.5V136.5M181.4 104.5V136.5M183.8 104.5V136.5M186 104.5V136.5M188.5 104.5V136.5M191 104.5V136.5M193.4 104.5V136.5M195.9 104.5V136.5M198.8 104.5V136.5M201.5 104.5V136.5M203.4 104.7V136.3M206.4 105.7V135.3M208.2 106.7V134.3M210.1 108.2V132.8" stroke="#3c9a4c" stroke-width="0.9" opacity="0.3" fill="none"/>
<path d="M213.3 112L223.6 109.6M167.8 104.3L164.1 89.7M184.9 126.3L185.8 131M197.9 115.6L195.5 110.7M209.2 110.2L215.4 100.4M164 133.5L163.1 139M152.2 132.6L148.8 137.2M208.4 129.6L211.2 134.5M167.3 112.7L167.4 108.1M212.5 130L216.5 133.9M156.1 117.7L151.7 115.8M200.7 111.2L205.9 102.1M148.1 131.7L142.4 137.4M177.7 105.6L175.9 93.7M187.5 132.6L187 137.6M184.5 137L185.4 141.7M187.1 128.3L187.7 133.3M146 129.2L141.7 133.8M156.2 135.7L153.6 140.7M200.2 136.4L201.6 141.7M204.1 107.3L209.6 96.8M146.8 123.4L137.1 125.3M186.7 108.7L185.4 99M180 104.6L177.9 92M204.7 134.3L207.1 140.6M188.2 104.9L185 90.2M175.9 137.5L174.3 143.8M181.6 127.8L181.8 131.9M160 126.8L159.9 129.5M202.1 109.8L205.9 100M199.9 127.1L201.6 130.5M179.4 135.2L177.9 140.9M149.4 108.3L141.5 94.9M153.4 135.9L150.7 140.4M186 121.7L186.6 123.5M148.9 127.9L142.1 131.6M176.8 135.8L175.9 140.6M211 127.7L215.9 131.9M201.1 106.6L204.5 94.9M191.4 112.7L192.7 104.8M182 124.8L183.2 127.2M174.2 137.2L173.8 142.5M211.2 131.8L216.1 137.5M208.6 107.5L215.8 97.9M205.6 109.5L210.8 99.1M189.7 115.3L188.5 108.4M202.7 113L206.8 105.7M176.7 106.6L179.4 99.2M164.7 103.5L162.8 89.3M167.6 106L165 93.1M153.5 105.7L148.1 93.6M198.2 137L197.6 142.5M148.3 132.1L143.8 136.2M145.8 113.3L138 108.8M192.2 107.9L191 100.5M173.4 115L173.3 111.7M196.5 132L197.3 135.9M164.2 137.4L164.8 143.6M173.2 110.3L174.1 104.7M195.9 112L195.7 106.3M154.7 129.8L151.4 133.9M149.6 113.9L143.2 108.5M153.1 109L148.3 98.6M168.2 123L165.4 124.6M170.6 132.4L170.1 138.5M197.1 134.6L196.9 140.6M198.7 109.9L201.1 102.1M159.7 128.8L159 133M209.1 133.4L211.6 137.9M179.7 115.5L177.1 111.5M175.6 104.1L173.1 89.6M152.6 118.3L144.6 115.7M204.2 104.9L207.7 91.8M167.5 104.1L168.7 89.4M152.1 132.2L147.4 136.4M202.1 103.9L208.8 90.9M195.9 126.3L194.7 129M200.5 137.1L201.8 142M212.1 110.5L223.6 103.1M173.6 137.5L174.8 142.7M192.6 113.9L194.6 110.9M167.5 105L166.9 92.5M172.8 114.3L169.3 108.3M162.7 115.2L159.2 113.4M172.5 118.3L170.7 116M152.7 119.2L148.1 119.1M171.7 110.6L169.7 106.6M152.3 122.3L148.6 124.1M175.2 109.2L175.1 102.7M166.9 137.2L166.3 142.7M163 116.3L160.4 113M200.6 133.1L201.3 138.7M199.7 109.6L202.8 100.9M214 115.8L223.4 113.3M213 125.3L219.1 129.3M153.8 105.6L145.5 94.5M187.8 104.6L189.6 90.9M161.6 130.3L161.5 136M201.9 106.4L204.7 94.3M144.6 118.9L134.9 118.4M178.9 112.5L177.3 108.6M202.1 106.1L208 92.3M161 103.6L164.5 89.3M196.7 116.1L197.6 112.6M195 108.7L192.9 100.5M208.4 128.8L211.2 133.5M161 126.6L160.4 130.4M194.1 108.6L195.3 99.9M183.4 132.8L183.5 137.7M156.3 133.8L152.4 138.9M202.5 124.9L207.5 127.2M213.6 112.8L225.4 107.6M173.5 108.2L174.4 98.4M165.5 137.5L165.4 143.7M213.6 116.4L223.4 113.1M193.8 106.3L196.7 92.3M188.8 134.7L188.7 139.8M196.9 106.7L198.4 95.3M194.6 104.6L194.1 90.1M147.6 112.3L137.8 105.7M172.6 137.3L173.1 143.5M185.5 103.7L188.7 92.4M190.6 107.2L190.6 99.2M180.1 106.7L181.6 98.5M177.8 131.6L177.6 138M197.5 128.8L197.1 132.5M172.5 124.7L170.9 127M172 135.1L172.3 140.8M206.6 108.3L216.1 100.3M203.5 113.9L206.9 110.9M196.8 131.8L198.3 137M186.8 114.6L188.1 111.1M199.4 103.5L197.7 89.7M187.1 104L185.7 91.4M191.9 113.6L193.3 108.1M210.6 131.9L216 137.3M187.1 132.4L187.3 138.9M152.6 108.2L148 101.1M204.4 129.1L208.1 132.9M212.8 115.2L222.5 111M202.8 128.2L204.7 131.8M214 115L225.4 107.2M148.2 119.8L140.8 120.8M199.4 123L203 122M186.2 121.6L185.5 123.6M198.6 137.4L198.7 142.5M201.2 132.3L202.2 137.4M188.6 103.6L185.7 90.4M150.7 107L142.2 98.5M184.3 108.3L183.3 96.9M200.1 122.2L204.5 121.8M196.6 106.1L193.5 93.8M195.7 127.7L195.2 131.2M159.4 136.2L157.6 142M209.7 125.2L217.1 127.4M192.6 126.6L191.9 131.3M145.1 115L136.5 112M149.4 115.5L138.6 113.8M149.1 111.2L141.7 100.8M211.7 131.2L216.2 136.8M185.2 137.5L186.9 143.8M196.8 135.7L198.1 140.8M168.2 133.4L167.5 138.1M176.8 132.8L177.8 138.3M194.3 104.8L196.3 92.1M177.8 108.2L178.8 98.4M185.4 103.8L186.9 90.9M198.4 103.5L201.5 88.6M152.3 129.2L146.6 133.9M191.2 117.9L190.2 115.6M159.2 132.5L158.2 137.8M154.6 130.4L152 135.5M169.1 135.7L168 141.1M171.6 131.9L171.1 136.9M161.2 107.8L162 98.9M180 107.9L182.8 96M210.4 124.7L216.7 127.3M202.7 125.9L204.9 128.5M175.7 131.2L178.3 135.9M149.3 116.4L139.6 114M167.7 104.1L166.2 87.9M204.3 135.1L206.5 140.6M156.6 135.2L156 141.4M192.8 134.7L193.8 139.9M164.9 103.5L166.1 89.6M166.3 132.4L166.3 136.9M201 103.7L203.8 87.9M199.4 137L198.8 141.9M210 109.1L217.4 101.6M187.8 104L187.7 87.9M172.7 115.6L171.3 110.9M162 122.1L162 123M164.9 136.6L163.9 141.5M150.4 109.3L140.7 98.7M175.7 124.3L174.9 128.2M171.8 112.6L174.1 109.4M177.5 134.9L176.3 139.8M148.1 122.4L143.4 123.2M209.6 131.8L216.1 135.4M212.4 129.3L218.3 132.2M189.4 103.8L191.8 92M176.7 105.8L178.3 94.4M183.4 108.5L179.6 98.5M182 105.9L183.9 93M149.4 133.1L145.8 137.7M209.3 108.1L218.2 96.6M214.2 113.8L225.4 105.7M165.4 111.2L163.6 101.8M178 123L176.3 126M165.8 134L166.7 138.9M189.7 103.9L191.3 91.8M196.4 134.3L197.4 140.4M144.2 116.7L134.4 114.6M162.6 106.9L161 99.1M194 111.9L193.6 108.2M211.9 131.1L218.1 135.7M163.7 137.4L164.4 143M178.8 110L176.7 100.6M171 137.3L170 142.8M178.1 136.6L178.4 141.9M207.5 120.8L212.1 118.1M150.3 133.8L146.4 139.5M203.9 121.6L207.3 123.6M169.9 103.9L167.9 88.3M163.3 137.2L161.6 143M204.1 118.8L208.2 118M144.5 125.2L134 126.7M207.2 115.7L214 115.4M198.3 115.3L197.9 112.8M165.3 134.5L165 141.2M180.8 103.8L178.2 91.7M180.5 105.2L180.7 95.3M155 107.5L149.7 97.9M155.2 105.7L148.9 93.5M214.8 115.9L223.4 114.1M189.9 133.2L189.7 138.4M157.1 111.2L153 107.3M214.2 115L226 108.2M169.5 103.7L167.1 91.4M196.7 108.1L199 100.6M168.3 119.3L166.7 120.1M171.3 131.3L169.9 135.6M202.2 110.7L207.5 103.5M189.6 123.6L192.5 126.3M212.1 113.1L221.2 109.4M199.4 135.2L199.8 141.5M151.2 118.2L143.9 113.1M162.4 131.7L162.1 136.8M200.3 104.9L203.5 89.3M210.9 110.1L220.6 103.4M192.8 130.7L192.9 135.9M150.4 129L142.8 132.2M182.4 128.1L182.3 130.9M171.2 103.5L169.3 91.7M150.8 134.1L146.7 138.4M199.7 133.7L200.6 138.6M198.4 135.7L198.1 141.6M151 133.9L147.2 139.4M180 111.7L177 103.8M200.6 123.4L203.7 126.2M177.2 118.1L176.7 114.9" stroke="#32a060" stroke-width="0.8" fill="none"/>
<g clip-path="url(#c11)"><g transform="matrix(1 0 0 -0.7 0 242.5)"><rect x="505" y="103.5" width="72" height="34" rx="14.4" ry="17" fill="#5aaed0" opacity="0.5"/><g opacity="0.6"><path d="M553.1 108.1L554.5 98.7M524.3 123.6L524.4 123.9M538.1 104.7L536.7 93.3M528.5 132.8L528.2 136.7M523.2 137.2L524.4 141.4M536.8 135.5L535.8 140.2M540.1 119L540 118.9M529.2 136.5L530.2 142M531.2 113.8L528.6 106.6M505.2 122.4L493.9 121.1M545 130.6L544.1 134M542.4 136L542.1 141.1M546.4 130.6L546.7 133.9M531.7 117.7L531.8 114.2M511.3 117.8L507.3 117.1M533.7 113.4L531.9 108.2M506.6 127L500.1 130.5M505.4 122.8L499 125M531.5 105.7L532.6 91.8M572.6 131.7L576.5 135.9M549.8 132L550.5 136.5M545.3 105L545.5 94.8M525.9 136.9L526.2 142.1M517.4 133.8L515.8 137.4M531.5 133.2L532.6 137M576.4 124.6L584.9 126.4M561.9 104.2L562.9 91.8M523.9 105.5L522.1 93.5M542.3 124.5L541 126.9M537.5 133.9L538.3 138.1M570.2 116.9L574.9 115.1M534.1 121.8L534.5 122.8M565.4 134.7L567.8 138.2M530.3 108.6L527.8 97.5M558.6 123.8L559 125.7M562.9 103.8L567.9 88.6M556.5 104.3L554.8 91M525 103.8L523.8 90.3M523.6 131.6L522.4 136M524.4 124.4L523.1 126.3M538.7 122.9L539.6 124.7M552.2 123.5L550.2 123.4M532.1 126.3L531.4 128.9M544.6 136.7L545.8 141.4M519.6 123.7L516.4 124.9M514.9 105.5L511.4 94M549.6 110.3L551.7 104.6M565.8 106L570 98.6M557.3 137.3L558.5 141.6M530 118L530.6 119.1M540.2 104.6L538.3 94.1M538.9 105.6L535.7 96.2M561.5 137.4L561.1 141.8M575 125.8L582.6 126.1M507.7 113.9L498.8 111.7M512.2 131.1L508.3 134.8M558.1 134.6L557.4 138.5M505.6 119.3L496.1 116.4M519.5 104.5L520 92.6M545.6 111.8L545.4 107.8M558 106.1L559.1 96.9M563.5 106.1L566.1 93M516 107.1L510.8 97.7M507.3 119.7L498.3 118.4M549.3 116.1L547.7 114.6M516.5 134.9L514.3 139.1M520.3 123.3L518.5 123.3M547.8 129.8L548.1 132.5M564 105.6L567.7 96M553.1 132.7L552.9 136.5M561.5 134.9L561.1 138.4M572 109.8L581 102.1M559.6 114.2L559.3 110.8M539.5 122.3L539.5 123.2M508.2 122.8L501 122.1M553.9 131.4L555.3 134.6M520.7 136.8L519.8 141.9M553.7 134.3L552 139M545 105.8L542.3 97.7M552.8 106.7L555.4 96.4M572.2 114L577.9 109.7M540.7 134.9L539.9 139M557.4 122.5L556.2 122M522.2 104.9L522.8 92.5M536.9 104.5L536.8 93.4M514.9 105.9L508.3 94M570.2 122.6L574.9 123.2M546.6 136.1L547 141.8M575 128.5L583.2 131.3M549.1 103.5L551.2 93.4M514.9 134.5L511.3 139M535.3 133.1L534 136.8M568.1 129.1L571.7 131.6M568.2 131.6L569.8 136.5M535.4 128.2L534.9 130.8M565.3 122.7L568.1 125.1M548.8 103.6L549.3 88.4M547.3 110.7L545.6 105.9M570.8 132.3L573.6 136.2M555.8 107.8L559 99.6M508.1 120.6L502.6 122.2M550.1 137.1L551.2 141.5M573 120.3L580.3 121.1M561.3 115.3L560.8 113.6M505.3 122.2L497.8 123.9M567 134.5L568.2 139.1M545 106.4L546.8 97.8M528.2 118.6L528 119.4M545.1 127.2L544.7 128.6M555.1 137.4L554.9 141.8M534.6 129.5L533.9 133.8M522.8 119.2L522.6 116.5M550.2 114.7L550.3 109.9M570.3 127.8L575.9 128.9M566.9 135.2L567.9 140.3M555 118.1L557.2 116.2M538.6 115.7L539 113.2M555.4 136.3L555.2 139.9M542.9 137.4L541.8 142.2M529.8 134.6L529.2 138.8M570.7 124L574.9 125.3M517.8 131.7L517.5 134.4M534.7 135.2L533.7 138.8M570.5 111L577.2 104.3M524.4 131.1L523.6 135.4M571.7 123.5L577.7 123.2M544.9 137.1L545.4 141.3M536.2 125.1L536.6 125.6M516 122.7L514 124.1M506.7 127.1L501.2 130M564.8 135.5L565.3 139.6M542.1 109.7L542 103.9M537.2 104.3L540.7 93.6M554.5 104L557.5 91.6M511.6 123.7L506.6 126.1M562 107L560.5 98M514.4 132.9L511.8 137.5M517.6 118.7L513.2 118.8M564.8 121.6L566.4 120.8M529.5 137.5L530.9 142M515.4 129.3L512.8 132.6M564.8 117.2L567.5 115.2M514.9 111.1L509.8 103.7M506.7 120L500.8 121.1M520.8 130.7L520.5 133.2M536.8 108.8L535.4 96.9M509.5 123.2L502.8 122.3M542.1 134L543.1 138.3M549.4 118.7L550.3 116.9M523.2 136.4L522.4 140.7M520 132.2L519.2 136M519.3 133.8L517.5 138.8M510.5 133L507.4 138.5M505.5 123.9L497 124.4M512.8 117.8L508.5 116.2M507.9 122.2L501.6 123.6M575.3 114.3L584.1 109.9M528.7 133.4L529.1 136.7M576.7 122.6L585.1 125.1M571.1 119L576.5 118.5M567.6 132.7L570.5 136.1M565.9 111.6L569.3 107.6M548.2 118.6L548.1 118.8M573.8 123.1L580 126.1M566.2 111.2L569.9 107.4M507.9 124.9L500.5 126.2M521.5 123.8L518.5 124.3M524.1 135.3L523.9 138.5M528 137.3L529.1 142.6M561 136.1L560.8 140.8M574.3 115.1L582.7 113M506.3 114.7L498.3 113M548.6 107.4L547.9 96.9M540.7 135.8L541.8 140.8M559.8 111.1L557.8 105.9M509.7 123.1L504.2 124.1M526.5 118.2L526.1 115.1M564.7 104.8L570.4 94.3M538.8 137.5L539.3 142.2M524.1 120L525.3 121.1M510.7 112L503.7 109.2M552.8 104.6L555.4 94.6M562.6 107.6L562.9 100.3M569.5 131.2L575.1 135M508.9 110.1L498.4 102M507.1 126.8L501.4 129.5M548 137.3L548 142.8M576.5 116.5L586.2 112.7M558.8 105.4L559.6 94.2M545.7 112.8L546.7 108.8M543.9 103.6L544.9 89.1M533.2 135.1L534.5 138M527.1 103.5L528 88.7M532.4 108L533 96.4M542.9 112.9L541.1 110.6M571.9 131.5L575.1 135.3M570.7 115.2L577.2 114.8M512.1 133.2L508.6 137.6M532.3 136.9L533.2 142.4M575.6 114.2L584.9 112.3M527.4 127.2L526.1 128.6M536.4 103.9L537.6 91.5M557.6 136.9L557.1 141.1M568.6 125.4L572.7 126M525.3 104.8L523.8 91.3M508.8 126.1L502.9 128.4M518.9 133.9L518.4 138.8M548.7 137.4L548.4 142.5M521.4 116.1L520.3 114.7M543.3 137.4L544.4 141.7M538.2 135.6L539.2 140.6M521.6 110.6L522.8 107.2M552.8 135L553.9 139.8M540.6 112L542 109.2M534.5 128.7L534.6 131.7M537.7 119.5L538.2 120.2M552.2 106.3L553.2 94M520.4 137L520 141.8M539.8 112.4L540 106.6M576.1 115.1L585.3 112.8M535 110.2L533.9 103.4M513 109.1L504.9 99.5M530.2 133.6L530.1 138.3M525.4 103.5L522.9 91.8M556.7 118.5L557.3 117.9M562.7 107.7L563.8 100M521.3 123.3L520.9 125M558.2 123.5L557 126.8M539.1 121.8L541.4 120.7M547 103.9L545.5 90.4M515.8 120.9L512.4 119.7M559.7 137.5L559 143.3M562.1 130.4L562.3 133.6M526.7 110.6L527 106.2M556.8 122.9L557.7 124.9M542.1 104L544.1 93.9M568.1 134.3L570.5 139.8M567.2 132.8L569.7 136.7M563.1 121.4L564.9 120.9M565.6 113.9L568.1 110.1M527.9 135L528.1 139.8M514.1 122.7L507.2 122.3M567.5 107L572.2 97.8M529 119.5L527.9 117.8M533.8 112.1L532.7 107.2M569.8 128.1L573.1 131.8M549.4 113.9L550.5 111.3M534 129.2L534.8 131.9M507.7 126.8L501.5 129.4M533.1 118.5L532.3 118.7M521.4 135.9L521.1 140.3M563.6 131.4L565.5 133.9M515.4 112.8L513.3 106.5M551.7 133.6L552.3 138.3M522.2 136.5L523.5 141.8M524.1 107.5L524.7 101.1M535.5 115.1L536.5 112.1M539.1 117.7L538.8 114.6M544 129.9L544.5 133.3M550.9 105.6L547.5 94.5M553.9 112L556.1 107.4M546 136L546 140.1M518.7 110.7L514.3 101.6M550.9 105.8L548.2 93.2M537.8 116.8L536.1 115.1" stroke="#3592aa" stroke-width="0.8" fill="none"/><path d="M547 137.2L546.2 142.4M517.6 135.7L515.1 141.9M548.2 137.4L547.3 142.9M506.5 122.9L499.1 124.3M532.5 110.5L533.2 105.5M522.9 108.7L524.7 98.6M540.1 136L539.2 141M555.2 105.8L558.2 92.9M532.8 104.7L534.6 89.3M531.2 119.5L533.1 117.7M560.6 137.3L561.4 142.4M505.7 124.7L495.8 125.4M568.8 133.6L572 138.3M534.3 137.5L533.4 143.3M512.9 126.5L508.2 130.9M531.1 109.1L533.4 103.5M538.4 103.7L540.7 91.8M563.3 137.1L564.9 142.2M527.2 103.8L527.6 88.9M557.6 134.5L557.1 139.8M537.5 113.8L536.9 108.6M529 107.9L532.2 97.8M566.5 120.9L572.4 120.5M546.1 114.7L545.6 109.7M569.7 108.9L576.1 100.2M576.1 116.7L587.9 109.5M576.3 121.8L584.4 122.8M529.8 108.7L529.1 99.7M547 115.5L548.4 112.1M554 104L551.9 89.9M558.4 122L561.6 123.3M518.2 127.5L517.9 132.5M540.6 134.7L542 141M574.6 128.1L583.2 131.2M567 135.2L567.9 140.6M557 128.5L557.9 131.6M569.6 122.3L577.7 122.7M519.7 136.7L518.8 141.4M566.7 105.2L572.4 91M575.1 112.8L586.2 107.6M567.4 129.1L570.2 134.4M525.6 125.3L524.4 128.3M575.7 115.8L586.1 112M547.6 123L551.1 122.5M514.9 135.9L512.3 140.4M561.1 109.2L563.2 100.7M534.3 133.8L533.1 139M551.2 124L549.5 127.4M515.3 119L512.1 116.8M533.8 110.5L531.5 105.1M559.4 137.5L560.1 143.1M506.5 127.1L499.7 130.4M507.5 122.7L500.1 124.5M515.8 125.6L513.9 131.2M517.9 135.5L514.9 141.4M526.6 114.2L528.3 109.6M532.1 124.7L530.2 127.2M541.1 135.5L542.3 141.5M546.6 107.6L544.5 97.1M544.9 123.9L546.5 126.4M510.1 128.2L504.7 132.7M506.2 114.6L497.1 109.9M551.8 113.2L553.4 105.4M539.5 107.7L542.2 96.7M528.6 136.8L528.5 141.7M543.8 103.7L546.6 90.7M530.5 131.7L532.1 135.4M553.9 113.6L552.7 108.7M544.7 137.1L544.9 142.6M565.8 136.5L567.6 141.2M560.2 107.1L563.4 94.3M563.1 118.6L566.4 118.4M576.9 118.6L588.7 115.6M534 137.1L532.6 142.6M552.8 136L554.2 142.5M572.7 109.5L581.6 102.1M570.8 130.4L576.5 135M513.1 118.2L505.6 116.7M569.2 125.5L574 126.9M547.1 131.9L546.6 138.1M535.2 104.7L535.5 93.5M550.3 109.4L545.8 98.1M554.4 123.9L556.2 126.7M516.8 104.7L510.1 91.3M518.1 110.9L513 106.6M516.7 130.8L511.9 135.2M518.7 111.2L516.3 102.3M527.5 133.2L527.3 138.9M506.7 113.2L497.1 111.2M573.1 125.1L580.3 127.4M533.6 127.6L533.5 131.8M560.9 128.8L562.4 133.7M564.1 114.9L566.2 111.9M542.3 111.4L544 106.6M575.1 122.8L583 123.8M556.5 105.2L556.2 94.4M510.2 132L503.9 136M514 105.9L509.2 92.4M566.4 107.1L571.9 99.3M523.6 107.4L526.2 98.1M526.3 106.3L530.2 94.1M517.4 118L513.7 117.1M566.6 125.6L570.2 127.3M538.6 110.3L539.9 101.6M531.6 118.1L529.5 115.9M546.6 108.5L543.5 100.2M568.1 105.6L572.4 93.4M570.5 118.9L575.1 116.5M529.6 120.9L532.5 118.2M546.7 137.4L546.7 143.2M546.4 117.8L545.8 117.6M569.9 119.7L576.8 121.5M527.5 132L526.4 137.9M572.6 126.9L577.6 130.1M576.2 119.2L584.7 119.4M558.1 109.7L556.2 101.9M569.3 108.5L578.7 99.2M573 109.6L583.1 101.1M569.3 129.3L574.6 133.2M566.6 110.2L569.7 100.7M510.2 115.1L500.8 111.9M532.9 121L530.6 119.6M540.6 104.8L541.8 89.4M549.5 103.6L551.9 90.5M549.5 124.9L548.1 127.7M574 112.7L582.5 110M575 120.6L584 123M576 117.1L587 117.7M531.1 137L531.7 143.2M526.6 103.6L525.4 92M524.5 134L525.9 140.2M521.6 137.4L521 142.1M563 137.2L564.1 143.2M532.3 137.3L531.6 142.8M571.5 125.8L575.8 130.1M531.8 105.6L528 92M519 120.3L514.7 118.8M525.5 115.3L528.8 112.3M525.8 111.5L529 103.4M526.3 106.5L527.5 98.3M523.9 137L523.9 141.6M547.2 120.8L550.5 119.9M526.9 110.5L525.8 103.7M526.2 117.2L523.5 113.9M505.4 119.7L495.8 121.9M513.4 123.6L506.5 123.9M551.6 127.9L550 132.6M551.9 132.6L552.9 137.3M511.5 108.6L505.2 98.6M530.1 120.9L526.3 121.1M525.2 136.2L524.4 141.5M511.1 111.2L503.8 99.4M519.7 137.2L520 143M524.9 109.9L525.9 104.8M561.9 118.6L563.3 115.4M573.4 122.3L580.8 123.1M525 130.7L523.5 135.1M570.6 125.1L576 128.1M547.3 129L547.3 133.1M540.5 103.5L539.4 91.1M575.5 117.7L583.2 118.5M571.2 120.9L580.1 122.1M514.7 116L509.1 113.9M519.4 120L516.2 120.7M519.4 104.9L515 94.8M515 114.7L508.9 112.3M557.9 104.5L560 93M528.3 137.5L527.8 142.8M528.9 125.7L528.7 127.3M549.1 115.9L550.5 111.8M572.8 131.6L577 135.5M568.8 127.6L573 129.5M534.4 135.8L533.7 140.6M559.4 136.3L559 141.2M510.7 113.7L502.1 109.3M539.5 136.8L539.3 142.8M552.6 112L551.7 106.9M510 127.8L503 131.1M546.7 131.9L548 138.3M571.3 108.6L578.5 95M519.4 104.8L516.5 89.9M554 132.1L554.1 138.2M516.5 126.8L510.7 129.2M533.7 129.6L532.3 132.6M550.8 118L554 115.5M538.5 109.4L540.3 102.7M545.1 103.5L543.9 88.3M564 119.8L567 117.9M518.1 109.3L513.2 101.3M571.9 126.8L577.2 129M534.6 136.2L534 141.9M535.9 119.6L536.1 120.5M565.1 136.5L567.5 141.4M550.7 118.5L554.7 117.9M556.2 105.5L556.5 94.7M506 123.8L497.5 126.1M507.3 124.1L496.6 124.9M505.6 119.7L496.1 119.3M540.6 130.5L543.1 134.7M542.9 117.1L543.7 113.3M532.4 120.1L535.4 117.1M514.3 117.2L507.7 115M523.3 126.5L525.4 129.9M570.5 119.8L577.7 120.5M563.7 132.9L564.8 137.1M574.2 129.5L579.8 134.5M552.3 130.5L552.5 135.2M576.3 116.7L586.6 113.1M565.6 125L568.1 128.7M568.4 134.1L572.7 139.9M526.5 126.9L527.8 131.5M560.7 137.3L562.3 142.3M560.7 105.6L564.2 94.3M550.7 133.2L551 138.5M524.8 117.8L521.1 115.6M520 129.5L518.4 134.1M558.6 117L562 117.3M513.3 116.4L504.4 111.2M562.1 120.1L565.3 121.9M563.2 125L564.9 128.2M526.8 135.8L526 140.6M564.4 104.2L568.9 89.4M546 112.6L549.7 106.5M514.1 127.6L511 129.6M563.3 130.7L565.4 136.2M549.3 119.6L553.5 119.1M553.9 112.9L553.3 109.4M513.5 124L509.1 126M540.9 129.5L542.4 134.7M505.2 120.2L495.1 119M537.1 103.6L535.6 87.3M528.6 107.6L529.8 95.3M505.4 116.7L494.3 114.2M521.4 113.8L518.7 109M569.5 129L575.8 133.1M557.2 105.6L559.9 91.3M523.7 125.6L524.2 127.1M535.3 107.5L537 94.4M505.8 125.8L499 129.8M563.5 133.7L564 140.1M553.5 135.5L553.6 140.4M539 111.3L538.6 106.3M537.1 122.9L539.2 125.3M517.5 116.4L512.8 114.9M562.1 112.8L562.3 106.7M509 123L503.1 126.1M537.3 122.5L534.8 125.2M573.8 129.9L579.1 134.9M565.3 104.4L568.3 91.4M534.2 132.3L534 137.8M563.2 104L566.9 93.4M529.8 113L527.8 105.9M560.3 133.2L560.2 138.1M530.2 131.5L530.7 135.6M505.2 123.3L494.7 123.9M564.3 135.5L565.9 140.2M517.6 136.6L514.2 141.7M551.5 136.5L551.2 141.9M566.5 120.7L571.1 117.8M512.1 119.6L504.9 117.8M557.6 121.1L560.7 121.8M506 124.9L498.6 126.8M558.5 133.6L556.9 139.4M542.4 118.8L541.7 116.3M573.6 110.5L585.5 106.3M534.2 110.6L531.9 101.9M521.2 112.8L519.9 105.5M572.4 132L576.6 136.9M529.8 105.5L528.4 94.5M537.5 105.7L540.2 93M575 122.7L584 125.6M555.4 137.5L554.4 142.4M551.3 133L551.3 137.7M521.8 104.3L518.3 89.6M526.3 130.4L525.2 135.2" stroke="#3592aa" stroke-width="0.8" fill="none"/></g></g></g>
<path d="M553.1 108.1L554.5 98.7M524.3 123.6L524.4 123.9M538.1 104.7L536.7 93.3M528.5 132.8L528.2 136.7M523.2 137.2L524.4 141.4M536.8 135.5L535.8 140.2M540.1 119L540 118.9M529.2 136.5L530.2 142M531.2 113.8L528.6 106.6M505.2 122.4L493.9 121.1M545 130.6L544.1 134M542.4 136L542.1 141.1M546.4 130.6L546.7 133.9M531.7 117.7L531.8 114.2M511.3 117.8L507.3 117.1M533.7 113.4L531.9 108.2M506.6 127L500.1 130.5M505.4 122.8L499 125M531.5 105.7L532.6 91.8M572.6 131.7L576.5 135.9M549.8 132L550.5 136.5M545.3 105L545.5 94.8M525.9 136.9L526.2 142.1M517.4 133.8L515.8 137.4M531.5 133.2L532.6 137M576.4 124.6L584.9 126.4M561.9 104.2L562.9 91.8M523.9 105.5L522.1 93.5M542.3 124.5L541 126.9M537.5 133.9L538.3 138.1M570.2 116.9L574.9 115.1M534.1 121.8L534.5 122.8M565.4 134.7L567.8 138.2M530.3 108.6L527.8 97.5M558.6 123.8L559 125.7M562.9 103.8L567.9 88.6M556.5 104.3L554.8 91M525 103.8L523.8 90.3M523.6 131.6L522.4 136M524.4 124.4L523.1 126.3M538.7 122.9L539.6 124.7M552.2 123.5L550.2 123.4M532.1 126.3L531.4 128.9M544.6 136.7L545.8 141.4M519.6 123.7L516.4 124.9M514.9 105.5L511.4 94M549.6 110.3L551.7 104.6M565.8 106L570 98.6M557.3 137.3L558.5 141.6M530 118L530.6 119.1M540.2 104.6L538.3 94.1M538.9 105.6L535.7 96.2M561.5 137.4L561.1 141.8M575 125.8L582.6 126.1M507.7 113.9L498.8 111.7M512.2 131.1L508.3 134.8M558.1 134.6L557.4 138.5M505.6 119.3L496.1 116.4M519.5 104.5L520 92.6M545.6 111.8L545.4 107.8M558 106.1L559.1 96.9M563.5 106.1L566.1 93M516 107.1L510.8 97.7M507.3 119.7L498.3 118.4M549.3 116.1L547.7 114.6M516.5 134.9L514.3 139.1M520.3 123.3L518.5 123.3M547.8 129.8L548.1 132.5M564 105.6L567.7 96M553.1 132.7L552.9 136.5M561.5 134.9L561.1 138.4M572 109.8L581 102.1M559.6 114.2L559.3 110.8M539.5 122.3L539.5 123.2M508.2 122.8L501 122.1M553.9 131.4L555.3 134.6M520.7 136.8L519.8 141.9M553.7 134.3L552 139M545 105.8L542.3 97.7M552.8 106.7L555.4 96.4M572.2 114L577.9 109.7M540.7 134.9L539.9 139M557.4 122.5L556.2 122M522.2 104.9L522.8 92.5M536.9 104.5L536.8 93.4M514.9 105.9L508.3 94M570.2 122.6L574.9 123.2M546.6 136.1L547 141.8M575 128.5L583.2 131.3M549.1 103.5L551.2 93.4M514.9 134.5L511.3 139M535.3 133.1L534 136.8M568.1 129.1L571.7 131.6M568.2 131.6L569.8 136.5M535.4 128.2L534.9 130.8M565.3 122.7L568.1 125.1M548.8 103.6L549.3 88.4M547.3 110.7L545.6 105.9M570.8 132.3L573.6 136.2M555.8 107.8L559 99.6M508.1 120.6L502.6 122.2M550.1 137.1L551.2 141.5M573 120.3L580.3 121.1M561.3 115.3L560.8 113.6M505.3 122.2L497.8 123.9M567 134.5L568.2 139.1M545 106.4L546.8 97.8M528.2 118.6L528 119.4M545.1 127.2L544.7 128.6M555.1 137.4L554.9 141.8M534.6 129.5L533.9 133.8M522.8 119.2L522.6 116.5M550.2 114.7L550.3 109.9M570.3 127.8L575.9 128.9M566.9 135.2L567.9 140.3M555 118.1L557.2 116.2M538.6 115.7L539 113.2M555.4 136.3L555.2 139.9M542.9 137.4L541.8 142.2M529.8 134.6L529.2 138.8M570.7 124L574.9 125.3M517.8 131.7L517.5 134.4M534.7 135.2L533.7 138.8M570.5 111L577.2 104.3M524.4 131.1L523.6 135.4M571.7 123.5L577.7 123.2M544.9 137.1L545.4 141.3M536.2 125.1L536.6 125.6M516 122.7L514 124.1M506.7 127.1L501.2 130M564.8 135.5L565.3 139.6M542.1 109.7L542 103.9M537.2 104.3L540.7 93.6M554.5 104L557.5 91.6M511.6 123.7L506.6 126.1M562 107L560.5 98M514.4 132.9L511.8 137.5M517.6 118.7L513.2 118.8M564.8 121.6L566.4 120.8M529.5 137.5L530.9 142M515.4 129.3L512.8 132.6M564.8 117.2L567.5 115.2M514.9 111.1L509.8 103.7M506.7 120L500.8 121.1M520.8 130.7L520.5 133.2M536.8 108.8L535.4 96.9M509.5 123.2L502.8 122.3M542.1 134L543.1 138.3M549.4 118.7L550.3 116.9M523.2 136.4L522.4 140.7M520 132.2L519.2 136M519.3 133.8L517.5 138.8M510.5 133L507.4 138.5M505.5 123.9L497 124.4M512.8 117.8L508.5 116.2M507.9 122.2L501.6 123.6M575.3 114.3L584.1 109.9M528.7 133.4L529.1 136.7M576.7 122.6L585.1 125.1M571.1 119L576.5 118.5M567.6 132.7L570.5 136.1M565.9 111.6L569.3 107.6M548.2 118.6L548.1 118.8M573.8 123.1L580 126.1M566.2 111.2L569.9 107.4M507.9 124.9L500.5 126.2M521.5 123.8L518.5 124.3M524.1 135.3L523.9 138.5M528 137.3L529.1 142.6M561 136.1L560.8 140.8M574.3 115.1L582.7 113M506.3 114.7L498.3 113M548.6 107.4L547.9 96.9M540.7 135.8L541.8 140.8M559.8 111.1L557.8 105.9M509.7 123.1L504.2 124.1M526.5 118.2L526.1 115.1M564.7 104.8L570.4 94.3M538.8 137.5L539.3 142.2M524.1 120L525.3 121.1M510.7 112L503.7 109.2M552.8 104.6L555.4 94.6M562.6 107.6L562.9 100.3M569.5 131.2L575.1 135M508.9 110.1L498.4 102M507.1 126.8L501.4 129.5M548 137.3L548 142.8M576.5 116.5L586.2 112.7M558.8 105.4L559.6 94.2M545.7 112.8L546.7 108.8M543.9 103.6L544.9 89.1M533.2 135.1L534.5 138M527.1 103.5L528 88.7M532.4 108L533 96.4M542.9 112.9L541.1 110.6M571.9 131.5L575.1 135.3M570.7 115.2L577.2 114.8M512.1 133.2L508.6 137.6M532.3 136.9L533.2 142.4M575.6 114.2L584.9 112.3M527.4 127.2L526.1 128.6M536.4 103.9L537.6 91.5M557.6 136.9L557.1 141.1M568.6 125.4L572.7 126M525.3 104.8L523.8 91.3M508.8 126.1L502.9 128.4M518.9 133.9L518.4 138.8M548.7 137.4L548.4 142.5M521.4 116.1L520.3 114.7M543.3 137.4L544.4 141.7M538.2 135.6L539.2 140.6M521.6 110.6L522.8 107.2M552.8 135L553.9 139.8M540.6 112L542 109.2M534.5 128.7L534.6 131.7M537.7 119.5L538.2 120.2M552.2 106.3L553.2 94M520.4 137L520 141.8M539.8 112.4L540 106.6M576.1 115.1L585.3 112.8M535 110.2L533.9 103.4M513 109.1L504.9 99.5M530.2 133.6L530.1 138.3M525.4 103.5L522.9 91.8M556.7 118.5L557.3 117.9M562.7 107.7L563.8 100M521.3 123.3L520.9 125M558.2 123.5L557 126.8M539.1 121.8L541.4 120.7M547 103.9L545.5 90.4M515.8 120.9L512.4 119.7M559.7 137.5L559 143.3M562.1 130.4L562.3 133.6M526.7 110.6L527 106.2M556.8 122.9L557.7 124.9M542.1 104L544.1 93.9M568.1 134.3L570.5 139.8M567.2 132.8L569.7 136.7M563.1 121.4L564.9 120.9M565.6 113.9L568.1 110.1M527.9 135L528.1 139.8M514.1 122.7L507.2 122.3M567.5 107L572.2 97.8M529 119.5L527.9 117.8M533.8 112.1L532.7 107.2M569.8 128.1L573.1 131.8M549.4 113.9L550.5 111.3M534 129.2L534.8 131.9M507.7 126.8L501.5 129.4M533.1 118.5L532.3 118.7M521.4 135.9L521.1 140.3M563.6 131.4L565.5 133.9M515.4 112.8L513.3 106.5M551.7 133.6L552.3 138.3M522.2 136.5L523.5 141.8M524.1 107.5L524.7 101.1M535.5 115.1L536.5 112.1M539.1 117.7L538.8 114.6M544 129.9L544.5 133.3M550.9 105.6L547.5 94.5M553.9 112L556.1 107.4M546 136L546 140.1M518.7 110.7L514.3 101.6M550.9 105.8L548.2 93.2M537.8 116.8L536.1 115.1" stroke="#26844d" stroke-width="0.8" fill="none"/>
<rect x="505" y="103.5" width="72" height="34" rx="14.4" ry="17" fill="url(#B12)"/>
<path d="M508 111.1V129.9M510.4 108.2V132.8M513.4 106.1V134.9M515.6 105.1V135.9M517.5 104.6V136.4M519.4 104.5V136.5M521.6 104.5V136.5M524.2 104.5V136.5M527.1 104.5V136.5M530 104.5V136.5M532.9 104.5V136.5M535.3 104.5V136.5M538.3 104.5V136.5M540.9 104.5V136.5M543 104.5V136.5M545.2 104.5V136.5M548 104.5V136.5M550.3 104.5V136.5M552.5 104.5V136.5M555.2 104.5V136.5M557.3 104.5V136.5M559.5 104.5V136.5M561.6 104.5V136.5M563.9 104.6V136.4M566.1 105V136M569 106.3V134.7M571.2 107.9V133.1" stroke="#3c9a4c" stroke-width="0.9" opacity="0.3" fill="none"/>
<path d="M547 137.2L546.2 142.4M517.6 135.7L515.1 141.9M548.2 137.4L547.3 142.9M506.5 122.9L499.1 124.3M532.5 110.5L533.2 105.5M522.9 108.7L524.7 98.6M540.1 136L539.2 141M555.2 105.8L558.2 92.9M532.8 104.7L534.6 89.3M531.2 119.5L533.1 117.7M560.6 137.3L561.4 142.4M505.7 124.7L495.8 125.4M568.8 133.6L572 138.3M534.3 137.5L533.4 143.3M512.9 126.5L508.2 130.9M531.1 109.1L533.4 103.5M538.4 103.7L540.7 91.8M563.3 137.1L564.9 142.2M527.2 103.8L527.6 88.9M557.6 134.5L557.1 139.8M537.5 113.8L536.9 108.6M529 107.9L532.2 97.8M566.5 120.9L572.4 120.5M546.1 114.7L545.6 109.7M569.7 108.9L576.1 100.2M576.1 116.7L587.9 109.5M576.3 121.8L584.4 122.8M529.8 108.7L529.1 99.7M547 115.5L548.4 112.1M554 104L551.9 89.9M558.4 122L561.6 123.3M518.2 127.5L517.9 132.5M540.6 134.7L542 141M574.6 128.1L583.2 131.2M567 135.2L567.9 140.6M557 128.5L557.9 131.6M569.6 122.3L577.7 122.7M519.7 136.7L518.8 141.4M566.7 105.2L572.4 91M575.1 112.8L586.2 107.6M567.4 129.1L570.2 134.4M525.6 125.3L524.4 128.3M575.7 115.8L586.1 112M547.6 123L551.1 122.5M514.9 135.9L512.3 140.4M561.1 109.2L563.2 100.7M534.3 133.8L533.1 139M551.2 124L549.5 127.4M515.3 119L512.1 116.8M533.8 110.5L531.5 105.1M559.4 137.5L560.1 143.1M506.5 127.1L499.7 130.4M507.5 122.7L500.1 124.5M515.8 125.6L513.9 131.2M517.9 135.5L514.9 141.4M526.6 114.2L528.3 109.6M532.1 124.7L530.2 127.2M541.1 135.5L542.3 141.5M546.6 107.6L544.5 97.1M544.9 123.9L546.5 126.4M510.1 128.2L504.7 132.7M506.2 114.6L497.1 109.9M551.8 113.2L553.4 105.4M539.5 107.7L542.2 96.7M528.6 136.8L528.5 141.7M543.8 103.7L546.6 90.7M530.5 131.7L532.1 135.4M553.9 113.6L552.7 108.7M544.7 137.1L544.9 142.6M565.8 136.5L567.6 141.2M560.2 107.1L563.4 94.3M563.1 118.6L566.4 118.4M576.9 118.6L588.7 115.6M534 137.1L532.6 142.6M552.8 136L554.2 142.5M572.7 109.5L581.6 102.1M570.8 130.4L576.5 135M513.1 118.2L505.6 116.7M569.2 125.5L574 126.9M547.1 131.9L546.6 138.1M535.2 104.7L535.5 93.5M550.3 109.4L545.8 98.1M554.4 123.9L556.2 126.7M516.8 104.7L510.1 91.3M518.1 110.9L513 106.6M516.7 130.8L511.9 135.2M518.7 111.2L516.3 102.3M527.5 133.2L527.3 138.9M506.7 113.2L497.1 111.2M573.1 125.1L580.3 127.4M533.6 127.6L533.5 131.8M560.9 128.8L562.4 133.7M564.1 114.9L566.2 111.9M542.3 111.4L544 106.6M575.1 122.8L583 123.8M556.5 105.2L556.2 94.4M510.2 132L503.9 136M514 105.9L509.2 92.4M566.4 107.1L571.9 99.3M523.6 107.4L526.2 98.1M526.3 106.3L530.2 94.1M517.4 118L513.7 117.1M566.6 125.6L570.2 127.3M538.6 110.3L539.9 101.6M531.6 118.1L529.5 115.9M546.6 108.5L543.5 100.2M568.1 105.6L572.4 93.4M570.5 118.9L575.1 116.5M529.6 120.9L532.5 118.2M546.7 137.4L546.7 143.2M546.4 117.8L545.8 117.6M569.9 119.7L576.8 121.5M527.5 132L526.4 137.9M572.6 126.9L577.6 130.1M576.2 119.2L584.7 119.4M558.1 109.7L556.2 101.9M569.3 108.5L578.7 99.2M573 109.6L583.1 101.1M569.3 129.3L574.6 133.2M566.6 110.2L569.7 100.7M510.2 115.1L500.8 111.9M532.9 121L530.6 119.6M540.6 104.8L541.8 89.4M549.5 103.6L551.9 90.5M549.5 124.9L548.1 127.7M574 112.7L582.5 110M575 120.6L584 123M576 117.1L587 117.7M531.1 137L531.7 143.2M526.6 103.6L525.4 92M524.5 134L525.9 140.2M521.6 137.4L521 142.1M563 137.2L564.1 143.2M532.3 137.3L531.6 142.8M571.5 125.8L575.8 130.1M531.8 105.6L528 92M519 120.3L514.7 118.8M525.5 115.3L528.8 112.3M525.8 111.5L529 103.4M526.3 106.5L527.5 98.3M523.9 137L523.9 141.6M547.2 120.8L550.5 119.9M526.9 110.5L525.8 103.7M526.2 117.2L523.5 113.9M505.4 119.7L495.8 121.9M513.4 123.6L506.5 123.9M551.6 127.9L550 132.6M551.9 132.6L552.9 137.3M511.5 108.6L505.2 98.6M530.1 120.9L526.3 121.1M525.2 136.2L524.4 141.5M511.1 111.2L503.8 99.4M519.7 137.2L520 143M524.9 109.9L525.9 104.8M561.9 118.6L563.3 115.4M573.4 122.3L580.8 123.1M525 130.7L523.5 135.1M570.6 125.1L576 128.1M547.3 129L547.3 133.1M540.5 103.5L539.4 91.1M575.5 117.7L583.2 118.5M571.2 120.9L580.1 122.1M514.7 116L509.1 113.9M519.4 120L516.2 120.7M519.4 104.9L515 94.8M515 114.7L508.9 112.3M557.9 104.5L560 93M528.3 137.5L527.8 142.8M528.9 125.7L528.7 127.3M549.1 115.9L550.5 111.8M572.8 131.6L577 135.5M568.8 127.6L573 129.5M534.4 135.8L533.7 140.6M559.4 136.3L559 141.2M510.7 113.7L502.1 109.3M539.5 136.8L539.3 142.8M552.6 112L551.7 106.9M510 127.8L503 131.1M546.7 131.9L548 138.3M571.3 108.6L578.5 95M519.4 104.8L516.5 89.9M554 132.1L554.1 138.2M516.5 126.8L510.7 129.2M533.7 129.6L532.3 132.6M550.8 118L554 115.5M538.5 109.4L540.3 102.7M545.1 103.5L543.9 88.3M564 119.8L567 117.9M518.1 109.3L513.2 101.3M571.9 126.8L577.2 129M534.6 136.2L534 141.9M535.9 119.6L536.1 120.5M565.1 136.5L567.5 141.4M550.7 118.5L554.7 117.9M556.2 105.5L556.5 94.7M506 123.8L497.5 126.1M507.3 124.1L496.6 124.9M505.6 119.7L496.1 119.3M540.6 130.5L543.1 134.7M542.9 117.1L543.7 113.3M532.4 120.1L535.4 117.1M514.3 117.2L507.7 115M523.3 126.5L525.4 129.9M570.5 119.8L577.7 120.5M563.7 132.9L564.8 137.1M574.2 129.5L579.8 134.5M552.3 130.5L552.5 135.2M576.3 116.7L586.6 113.1M565.6 125L568.1 128.7M568.4 134.1L572.7 139.9M526.5 126.9L527.8 131.5M560.7 137.3L562.3 142.3M560.7 105.6L564.2 94.3M550.7 133.2L551 138.5M524.8 117.8L521.1 115.6M520 129.5L518.4 134.1M558.6 117L562 117.3M513.3 116.4L504.4 111.2M562.1 120.1L565.3 121.9M563.2 125L564.9 128.2M526.8 135.8L526 140.6M564.4 104.2L568.9 89.4M546 112.6L549.7 106.5M514.1 127.6L511 129.6M563.3 130.7L565.4 136.2M549.3 119.6L553.5 119.1M553.9 112.9L553.3 109.4M513.5 124L509.1 126M540.9 129.5L542.4 134.7M505.2 120.2L495.1 119M537.1 103.6L535.6 87.3M528.6 107.6L529.8 95.3M505.4 116.7L494.3 114.2M521.4 113.8L518.7 109M569.5 129L575.8 133.1M557.2 105.6L559.9 91.3M523.7 125.6L524.2 127.1M535.3 107.5L537 94.4M505.8 125.8L499 129.8M563.5 133.7L564 140.1M553.5 135.5L553.6 140.4M539 111.3L538.6 106.3M537.1 122.9L539.2 125.3M517.5 116.4L512.8 114.9M562.1 112.8L562.3 106.7M509 123L503.1 126.1M537.3 122.5L534.8 125.2M573.8 129.9L579.1 134.9M565.3 104.4L568.3 91.4M534.2 132.3L534 137.8M563.2 104L566.9 93.4M529.8 113L527.8 105.9M560.3 133.2L560.2 138.1M530.2 131.5L530.7 135.6M505.2 123.3L494.7 123.9M564.3 135.5L565.9 140.2M517.6 136.6L514.2 141.7M551.5 136.5L551.2 141.9M566.5 120.7L571.1 117.8M512.1 119.6L504.9 117.8M557.6 121.1L560.7 121.8M506 124.9L498.6 126.8M558.5 133.6L556.9 139.4M542.4 118.8L541.7 116.3M573.6 110.5L585.5 106.3M534.2 110.6L531.9 101.9M521.2 112.8L519.9 105.5M572.4 132L576.6 136.9M529.8 105.5L528.4 94.5M537.5 105.7L540.2 93M575 122.7L584 125.6M555.4 137.5L554.4 142.4M551.3 133L551.3 137.7M521.8 104.3L518.3 89.6M526.3 130.4L525.2 135.2" stroke="#32a060" stroke-width="0.8" fill="none"/>
<g clip-path="url(#c12)"><g transform="matrix(1 0 0 -0.7 0 242.5)"><rect x="868" y="103.5" width="72" height="34" rx="14.4" ry="17" fill="#5aaed0" opacity="0.5"/><g opacity="0.6"><path d="M912.9 104.9L913.1 93M928.1 120L929.5 119.3M873.1 128.7L866.1 131M872.1 114.1L863.7 108.9M900.7 128.3L901.8 131.4M912.2 104.6L914.6 93.8M911 105.7L909 93M939.1 122.6L944.3 124.3M907.7 107.9L907.5 99.3M903.9 117.8L903.9 115.8M904.1 124.1L905.2 125.7M900.1 107.2L901.7 100.2M926.3 106L926.9 96.8M918 104.2L917.8 90M912.2 128.5L913.7 131.1M895.2 134.8L895.1 139.1M879.1 135.3L877.5 140M906.8 111.4L908.7 107.9M905.2 113.7L905 110.9M874.8 126.5L870.3 128.7M910.5 123.9L911.1 126.3M915.9 134.9L917.1 139.3M923.1 107.7L920.6 98.2M882.4 106.3L879.7 96.7M870.1 116.7L861.6 113.9M915.3 132.6L915.2 135.9M894.3 104.1L897.8 89.8M931.1 107.8L937 96.3M876.9 133.2L873.7 137.2M932.5 111.3L938.8 106M921.4 107.3L924.5 97.4M904.3 109.2L905.6 104.2M920.5 128.1L920.4 130.8M934.8 119.2L940.1 119.4M912.4 108.8L912.5 101.1M908.7 137.3L909.9 141.5M913.5 106L913.1 92.7M928.3 114.9L931.4 113.2M883.7 104.1L880.4 94.4M882 127.7L882.3 130.3M896.6 117.3L896.5 116M870 112.6L858.3 108.8M934.1 112.9L940.4 108.2M918.9 131.6L919.8 135.7M921 117.7L919.7 117.2M870.3 124.6L863.6 124.9M881.7 106.4L877.2 97M887.6 104.3L889.7 90.6M876.8 126.8L874.9 130.9M928 132.4L928.5 136.8M898.9 103.5L897.8 90.5M897.8 128.7L897.2 131.8M892.7 136.1L893.8 140.3M917.6 137L917.5 142.6M927.4 118.8L928.6 116.3M902.5 118.4L899.3 115.1M899.8 127.3L901.5 129.6M890.4 106.2L891.4 97M882.3 122.2L880.6 123.1M886.5 125.4L885.4 126.6M894.7 107.4L895.4 96.6M893.3 103.7L893.1 92.5M930.2 105.8L933.2 93.6M894.5 130.4L896 133.2M929.7 134.4L931.2 138.5M928 109.7L931.6 102.8M911.8 126.9L912.1 128.5M922 106.7L922.3 96.3M929.4 104.9L936.2 95M908.1 103.6L905.6 89.1M910.6 105.6L913.3 92.6M872.5 126.2L868 128.9M935.9 113.8L943.5 110.9M921.3 104.2L922.5 90.4M877.1 125.8L875.8 127.7M874.4 112.9L866.6 107.4M913.2 107.5L913.2 97.5M916.7 133.1L915 138.1M905.2 110.3L905.3 103M879.3 105.5L878.1 96M875.5 132.8L872.7 137.9M930.5 119.5L936.4 117.6M899.3 134L899.7 137.3M917.3 114.1L919.2 109.9M913.2 104.6L914.7 92.4M907.3 111.6L905.6 105.1M933 107L940.4 98.7M915.4 121.1L914.5 120.6M885.9 104.1L887.4 89.5M938.4 121.8L946.3 121M869.8 114.8L859.6 110.4M899.2 137L899.3 142M874.2 110.6L868.3 105.1M911.6 105.6L912 95.3M912.4 114.3L911.2 109.8M928.2 108.3L929 100.4M868.1 119.1L857.7 120M879 117.9L874.9 115.2M883.4 106.5L883.3 94M880.1 113.9L876.2 110M915.8 136.7L915 142M877.7 111.8L872.7 108M937.1 111.1L945.2 105.1M912.2 106.3L912.1 93.3M939.7 118.9L949 118.3M911.9 103.9L909.5 91.2M873.9 115.8L868.8 110.9M901.2 122.3L900.5 122.6M890.7 103.9L892.1 88.6M894.9 130.5L895.3 133.7M880.1 118L879.4 115.6M897.8 124.7L897.7 126.6M882.9 117.2L881.7 115.1M911.3 132.5L912 136M922.6 105L923.9 93.8M916.6 130.4L917 133.9M925.4 113.3L928.5 110.2M901.5 136.6L901.3 141.3M899.6 104.9L897.8 93.4M912.4 109.6L914.1 102.8M881.5 132.5L880.2 136.4M919.5 104.7L918.5 92.6M877.6 114.1L873.2 110.7M902.3 135.2L903.7 140.4M930.1 107.7L935.7 99.6M934.2 112.8L940 107.3M876.2 106.6L870.4 95.6M917.5 137.5L916.8 141.8M887.9 123.6L888.8 124.6M886.4 103.5L884.4 89.2M913.8 104.9L912.1 97.1M868 121.1L858.3 122.1M895.4 137.1L894.2 142.7M930.2 128.7L932.3 132.6M917.9 105.1L915.4 92M904.3 125.2L903.2 127.5M872.2 122.5L866.7 124M905 127.8L906.2 130.7M926.3 131.4L927.2 135.7M908.1 103.9L908.4 90.3M920.1 137.5L920.9 142.3M897 135.5L897.7 140.2M920.1 136.3L919.1 141M931.9 133.5L935.6 137.1M939.5 117L950.8 115.9M887.2 137.1L885.9 142.2M927.5 129.5L928.6 131.9M887 121.2L886.8 122M934.7 119L938.6 118.1M887.6 135.5L887.4 140.2M939.8 120.8L950.8 120.5M884.5 111.3L884.3 105.9M871.3 125.6L864.2 127.5M908.6 125.1L907.4 125.3M918.9 119L919.3 119.5M873.6 108.7L863.2 103.4M902.6 116.3L903.1 116.1M898.4 134.4L898.1 138.3M884.3 136.8L883 142.4M917.7 108.7L919.1 99.1M884.3 136.1L884 140.5M889.1 103.5L886.5 89.4M902.2 137.5L901.3 142.6M899.6 137.3L899.2 142.1M922.5 103.9L919.6 92M932.5 119.4L939.6 116.7M933.2 120.3L937.8 120.3M939.5 124.2L947 126.2M913.2 130.4L913.6 134.1M871.1 127.4L866.4 130M915.5 109.9L914.4 101.7M902.6 103.8L901.8 92.4M902.2 106.2L903.9 95.2M883.9 122.8L884.8 125M884.4 114L882 109M909.4 129.1L910.5 132.7M923.3 103.5L921 91.6M912.7 137.4L913.1 142.2M892.1 104.9L893.6 93.3M935.7 109.7L944.3 104.5M938.2 120.7L947.3 119.4M883.4 131.8L884 135.6M927.2 122.5L930.1 123.3M876.6 106.9L870.3 94.1M938.6 123.7L943.7 126.6M872.7 125.3L867.1 126.8M887.2 123.3L887.9 122.6M920.9 115.6L920.3 113.5M875.7 131.5L872.8 135.1M894.2 137.3L895.2 143M899.6 104.6L900.4 93.6M925.2 114.7L927.2 111.7M914.4 104.3L915.7 93.9M893.3 129.5L894.5 133.5M871.7 118.9L865 117.9M877.9 105.1L869.9 95.4M871.7 117.6L866.3 116.9M907.8 106.6L905.9 97.8M917 137.5L917.1 141.7M905.7 108.6L907.1 103.1M920.7 136L920.9 140.2M872.5 119L865.3 117.4M891.7 121.3L892 121.8M902.4 104L904.1 91.5M933.3 114.2L940.2 106.6M932.8 115.2L937.3 114M873.7 120.1L869.6 117.8M934.4 133.1L936.7 137.3M920.8 120.1L921.1 120.2M914.6 121.1L916.5 123.5M893.9 118L892.9 118M868.1 121L860.9 121.7M913.4 119.1L913.1 117.2M896.5 121.6L897.3 122.5M893.5 111.8L896.7 107.4M886.9 105L889.5 92M892.7 124.9L893.2 126.6M870 113.7L860.8 111.4M880.3 135.3L879.2 140.1M884.4 116.1L884.4 111.5M924 114L923.2 112.8M937 130.1L940.7 134.3M876.7 117.4L871.3 114.7M896 137.3L894.8 142.5M899.3 137L898.2 142.4M938.6 114.4L946.9 109.3M903.7 105.6L905.3 95.5M934.8 118.3L939.6 117.2M932.1 108.1L936.1 101.8M910.4 104.1L907 88.7M888 121L889.5 120.8M879.8 104.3L876 91.8M936.3 130L943.9 134.1M922.3 132.4L921.6 135.7M909.4 106.7L911.8 97.9M917 103.5L916.9 91.8M934.2 133.2L939 138.2M906.5 109.2L906.4 104.3M911 129.7L911.5 131.4M883 130.7L883.4 135.3M907.9 124.3L908.2 125.9M891.8 135.5L892.4 140.5M890.7 125.8L890.1 127.6M884.7 130.5L883.3 134.4M927.7 135.4L929.3 140.6M931.8 134.6L933.8 139.6M938.7 114.5L949.1 106.6M926.6 104.2L931.8 93.6M896.1 104.9L898.7 93.4M891.5 121.6L891.1 120.5M875.8 106.3L869.3 96.1M902 131.6L901.7 134.8M927.7 107.8L930.9 96.5M878.2 128.1L875.4 131.1M899.7 130.7L898.7 133.7M876.4 126.1L872.7 128.2M874.6 121.4L870 120M924.1 135.6L925.4 140.7M889.8 132.9L889.3 136.6M938.3 116L946.9 112.1M901.8 135.5L901.9 140.5M909.2 132.3L910.6 135.3" stroke="#3592aa" stroke-width="0.8" fill="none"/><path d="M911 137.5L911.7 142.2M873.3 131.3L867.5 136.4M926.7 131.1L927 135.7M904.9 104.7L904.6 93M893.9 104.1L891.1 90.3M883.5 133.3L882.4 138.5M907.3 111.5L905.8 107.2M903.3 131.4L902.7 135.8M898.7 120.2L901 121.9M915.5 108.7L918.1 101.9M912.3 137.2L913.8 142.7M872.9 121.2L864.4 120.1M921.6 107L918.3 99.2M879.3 136.4L878.1 142.5M920.6 104.4L923.5 88.4M918.6 126L918.8 130.6M926.4 118.8L929.5 118.5M887 126.4L888.9 129.8M911.6 118.7L915.8 118.8M929.5 130.8L932.5 135.3M868.5 123.7L858.8 125.4M920.5 106.8L918.1 95.8M887.5 114.5L884 112.6M893.8 132.2L895.6 137.6M927.1 107.8L929.9 98.2M929.9 118.8L933.8 117.6M934.9 108.5L944.4 98.7M924.2 137L924.8 143M901.3 106.3L901.6 94.3M869.5 119.1L861.3 116.8M913.1 122.1L916.7 122.8M911.6 120.7L915.8 121.4M869.3 114.4L860.1 110.9M876.1 114.3L869.3 107.5M912.4 127.6L911.1 131.8M912.4 122.6L912.6 124.8M879.4 136.3L876 141.4M870.5 111.7L860.3 102.4M879.1 118.4L874.6 117.4M891.3 109.2L893.2 98.9M927.3 127.6L927.8 132.3M892.2 127.8L889.7 130.2M900.1 112.5L899.5 108.1M903.6 128.3L902.1 131.2M893.8 136.9L894.9 142.6M888.4 132.8L888.3 137.3M891.7 104.2L888.2 91.3M888 118.2L887.3 115.3M919 132.6L917.9 138.4M933.1 132.4L937.2 137.2M892.9 118.3L894.8 114.5M921 114.6L922.9 111.2M905.9 107.5L903.7 95.8M896.2 107L898 95M909.5 137.5L910.7 142M876.9 110.5L869.4 104.7M884.6 127.6L882.8 130.5M887.2 135.5L888.9 141.9M901.3 104.9L903.8 90.4M875 128.1L870 132.3M891.7 129.4L891.6 132.7M921.4 121.8L922.6 123.7M891.7 133.1L892.4 138.6M896.9 120.8L894.5 123.6M925.8 105.7L924.6 91.4M924.2 137.4L925.1 142.3M907 105.5L907.5 95.7M911.8 104L910.4 91.9M928.5 111.5L936.3 101.1M912.1 107.3L914.1 101.2M929.2 124L932.8 126.7M889.9 133.6L889.2 139.5M934.6 121.7L944.3 120.6M875.9 122.7L869.3 123.6M882.9 111.1L882.6 105.9M869.9 114.7L858.7 108.8M934.2 107.7L945.8 100.5M907.1 133.3L906.7 138.1M939.2 118.3L951.4 115M878.1 129.9L874.5 132.7M924.1 103.6L926.5 87.9M880 125.5L877.7 128.8M901.2 119.1L900.6 116.9M872.5 108.9L864.8 97.5M893.6 105.7L891.7 93.9M922.5 124.8L921.3 128.4M879.5 136.4L877.2 141.1M908.9 104.3L906.4 92.6M919.6 127.3L919.8 131.7M903.3 113.3L904.5 106.8M928.4 116.2L930 112.6M877.9 116.3L873.9 116.4M927 104.7L930.8 93.7M923.2 135.5L921.7 142.1M905.8 136.5L907 142.9M930.6 120.3L934.3 120.1M935 127.8L941 130.6M935.8 128.5L942.2 132M875.9 106.7L872.4 94.9M920.8 107.6L920.1 98.9M906.1 130.9L907.5 135.6M898.6 118.8L898 116.9M898.3 117.3L895.8 114.2M891.1 123.6L890 126.2M930.9 110.7L937.2 103M873.2 132.5L869.3 136.7M898.1 120.1L894.6 118.8M908.2 108.1L908.4 98M907.3 105.7L909.4 94.2M919.1 135.9L918.2 141.8M911.2 103.8L910.8 90.6M932.6 126.3L938.2 131.2M873 120L864.6 119.4M928.3 107.5L933.1 98M916 133.4L917.2 139.9M904.6 103.8L902 92.4M878.2 131L873.6 135.3M907.5 106.8L906.7 98.2M929 115.3L932 106.9M874.3 131.2L870.5 135.9M882.9 105.9L879.3 94.1M936.2 109.8L946 104.7M877.9 107.2L870.2 94.3M912.5 133.8L913.2 139.1M901.5 137.2L903.1 142.4M870.2 112.4L861.5 109.4M883.1 133L882.3 139.3M923.5 103.5L923.6 89.3M887.1 136.8L888.2 141.5M890.1 122.8L888.5 125.6M869.4 117.3L857.5 112.2M907.5 133.7L907.2 139.1M914.9 136.1L916 141.1M926.9 136.1L928 141.8M893.4 122.8L891.2 124.7M902 111.9L901.3 107.5M930.8 116.4L934.8 115.7M928 135L930.8 140.2M892.2 137.4L892.9 143.1M920.3 137.1L919 143M939.9 118.5L949.7 115.8M929.8 104.9L936.7 92.4M928.3 114.2L934 108.9M933.9 125.9L938.8 129.9M906.5 126.6L909.2 129.5M935.1 125.4L943.5 126.2M903.6 112L903.1 107.7M915.6 108L915.1 99.7M920.9 120.3L922 118.5M876.7 129.9L872.8 133.7M939.8 118.4L948.9 117.1M915.3 104.2L915.7 89.1M878.2 108.4L874.1 95.3M877.8 135.6L873.4 139.9M939.5 117.9L949.1 114M882.9 131.9L881.3 136.5M871.8 126L865.6 131.2M928.1 130.6L932.5 134.5M938.8 126.6L946.3 127.9M924.3 109.9L927.6 105.2M904 118.9L906.6 115.1M903.9 119.6L903 117.1M893.2 116.6L894.4 113.6M886.3 109.4L887.3 104.3M918.1 122.3L918 125.4M937.5 129.3L943.1 133.3M933.3 133.4L937 137.4M921.4 103.5L921.5 91.6M922.7 135.5L921.6 141.3M893.4 117.6L890 117.6M915.4 105L913 91.8M904.2 131L904.4 135.4M910.9 126.9L912.3 132M931.6 120.9L934.2 122.7M886.5 115.9L888 112M888 107.1L889.1 97.3M911.8 137L911.5 141.9M896.7 103.5L899.6 90.9M916.5 109.1L916.7 96.4M909.1 115.2L910.3 110.5M899.8 114.7L902.3 111.1M904.8 103.6L907.9 90.7M920.4 130.7L921 136.4M878.9 105.4L876.9 90.8M919.4 134.8L920.1 141.1M902.6 137.3L903.4 142.5M870.1 113.7L861.4 112.4M911.8 104.4L916.4 90.3M915.4 136.6L914.3 142.3M905 131L905.1 135.7M935.6 115.9L944.8 112.3M927.8 116.2L933.7 108.8M910.1 132.5L911.9 137.8M898.5 106.1L896.2 95.6M890.3 103.5L891.5 88.4M868.6 123.9L860.6 125.6M886 104.6L886.1 93.2M898.6 133.7L899.8 139M919.7 104.6L917.4 92.3M922.8 134.6L922 140.9M892.1 121.1L890.1 121.4M886.9 129.3L887.1 133.8M894.6 134.8L896.1 140.1M934.6 126.6L942 130.2M876.2 127.1L871 130.7M929.3 105.1L934 92.5M921.3 129.5L920.6 134.5M924.1 103.5L928 92.1M888.8 136.9L889.7 143.5M916.4 117.8L918.8 115.1M927 109.6L932.7 104.6M917.5 120L920.4 119.5M918 114.6L917.6 110.4M892.9 103.9L895.9 91.4M900.6 112.5L900.9 108.2M918.4 129.2L916.2 133.1M903.3 128.2L905.9 131M914.7 122.3L917.6 121.7M916.7 105.1L918.2 94.7M894.3 109.9L896.9 105.1M900.2 128.9L901.5 133.8M920.4 137.4L921.7 141.8M885.8 105.6L888.2 93M910.6 114.5L910.4 107.4M874.7 111.4L867.7 103M894.1 137.4L894.9 142.9M928 104.4L929.5 90.4M916.5 107.8L916.3 97.6M921.1 124.4L920.5 128.1M891.8 132.4L890.9 137.7M884.1 112.3L880.9 105.4M897.8 103.7L895.3 90.4M874.2 113.5L866.1 110.3M873.7 110.8L864.7 106.8M939.7 117.9L948.1 117.3M905.7 117.2L908.5 114.9M937.4 129.5L943.2 133.8M896 129.5L896.4 134M901.1 123.5L900.1 126M931.3 118.3L936.7 115.8M875.9 121.9L871.3 122M888.9 115.7L889.8 111.1M924.4 119.6L926 120.7M911.9 130.5L912.4 137.1M900.8 114.2L904.6 104.8M887.1 103.5L887.6 88.9M883.4 103.6L881 90.8M883.8 104.4L884.4 92.2M897.2 107L897.6 96M924.1 125.6L925.3 130M871.7 113.6L863.5 105.6M926.8 104.4L927.7 91.6M884.6 105.8L886.2 93.7M920.8 113.3L921.4 106.9M893.7 126.6L892.3 131.2M879.1 136.3L876.9 140.7M902.6 134.8L901.7 139.6M886.1 117.6L889.5 114.7M903.6 137L901.8 142.7M869.3 126L863 128.7M884 103.9L880.7 91.1M876.9 113.5L868.1 106.6M889.6 130.5L890.7 136.1M908.9 108.1L909.2 98.3M870.5 129.3L865.3 134.5M897.1 113.8L894 105.7M931.4 124.6L937 126.2M931.5 135.1L933.3 140M909.9 103.9L909.9 90M892.1 127.8L893 130.4M938 127.9L944.1 130.7M868.7 121.1L860.3 122.2M912.2 104L910.2 91M870 120.6L861 121.7M872.1 116.9L864.2 111.5M893 120.9L888.5 120.8M936.5 111.5L945.5 106.5M888.1 131.8L886.7 137.1" stroke="#3592aa" stroke-width="0.8" fill="none"/></g></g></g>
<path d="M912.9 104.9L913.1 93M928.1 120L929.5 119.3M873.1 128.7L866.1 131M872.1 114.1L863.7 108.9M900.7 128.3L901.8 131.4M912.2 104.6L914.6 93.8M911 105.7L909 93M939.1 122.6L944.3 124.3M907.7 107.9L907.5 99.3M903.9 117.8L903.9 115.8M904.1 124.1L905.2 125.7M900.1 107.2L901.7 100.2M926.3 106L926.9 96.8M918 104.2L917.8 90M912.2 128.5L913.7 131.1M895.2 134.8L895.1 139.1M879.1 135.3L877.5 140M906.8 111.4L908.7 107.9M905.2 113.7L905 110.9M874.8 126.5L870.3 128.7M910.5 123.9L911.1 126.3M915.9 134.9L917.1 139.3M923.1 107.7L920.6 98.2M882.4 106.3L879.7 96.7M870.1 116.7L861.6 113.9M915.3 132.6L915.2 135.9M894.3 104.1L897.8 89.8M931.1 107.8L937 96.3M876.9 133.2L873.7 137.2M932.5 111.3L938.8 106M921.4 107.3L924.5 97.4M904.3 109.2L905.6 104.2M920.5 128.1L920.4 130.8M934.8 119.2L940.1 119.4M912.4 108.8L912.5 101.1M908.7 137.3L909.9 141.5M913.5 106L913.1 92.7M928.3 114.9L931.4 113.2M883.7 104.1L880.4 94.4M882 127.7L882.3 130.3M896.6 117.3L896.5 116M870 112.6L858.3 108.8M934.1 112.9L940.4 108.2M918.9 131.6L919.8 135.7M921 117.7L919.7 117.2M870.3 124.6L863.6 124.9M881.7 106.4L877.2 97M887.6 104.3L889.7 90.6M876.8 126.8L874.9 130.9M928 132.4L928.5 136.8M898.9 103.5L897.8 90.5M897.8 128.7L897.2 131.8M892.7 136.1L893.8 140.3M917.6 137L917.5 142.6M927.4 118.8L928.6 116.3M902.5 118.4L899.3 115.1M899.8 127.3L901.5 129.6M890.4 106.2L891.4 97M882.3 122.2L880.6 123.1M886.5 125.4L885.4 126.6M894.7 107.4L895.4 96.6M893.3 103.7L893.1 92.5M930.2 105.8L933.2 93.6M894.5 130.4L896 133.2M929.7 134.4L931.2 138.5M928 109.7L931.6 102.8M911.8 126.9L912.1 128.5M922 106.7L922.3 96.3M929.4 104.9L936.2 95M908.1 103.6L905.6 89.1M910.6 105.6L913.3 92.6M872.5 126.2L868 128.9M935.9 113.8L943.5 110.9M921.3 104.2L922.5 90.4M877.1 125.8L875.8 127.7M874.4 112.9L866.6 107.4M913.2 107.5L913.2 97.5M916.7 133.1L915 138.1M905.2 110.3L905.3 103M879.3 105.5L878.1 96M875.5 132.8L872.7 137.9M930.5 119.5L936.4 117.6M899.3 134L899.7 137.3M917.3 114.1L919.2 109.9M913.2 104.6L914.7 92.4M907.3 111.6L905.6 105.1M933 107L940.4 98.7M915.4 121.1L914.5 120.6M885.9 104.1L887.4 89.5M938.4 121.8L946.3 121M869.8 114.8L859.6 110.4M899.2 137L899.3 142M874.2 110.6L868.3 105.1M911.6 105.6L912 95.3M912.4 114.3L911.2 109.8M928.2 108.3L929 100.4M868.1 119.1L857.7 120M879 117.9L874.9 115.2M883.4 106.5L883.3 94M880.1 113.9L876.2 110M915.8 136.7L915 142M877.7 111.8L872.7 108M937.1 111.1L945.2 105.1M912.2 106.3L912.1 93.3M939.7 118.9L949 118.3M911.9 103.9L909.5 91.2M873.9 115.8L868.8 110.9M901.2 122.3L900.5 122.6M890.7 103.9L892.1 88.6M894.9 130.5L895.3 133.7M880.1 118L879.4 115.6M897.8 124.7L897.7 126.6M882.9 117.2L881.7 115.1M911.3 132.5L912 136M922.6 105L923.9 93.8M916.6 130.4L917 133.9M925.4 113.3L928.5 110.2M901.5 136.6L901.3 141.3M899.6 104.9L897.8 93.4M912.4 109.6L914.1 102.8M881.5 132.5L880.2 136.4M919.5 104.7L918.5 92.6M877.6 114.1L873.2 110.7M902.3 135.2L903.7 140.4M930.1 107.7L935.7 99.6M934.2 112.8L940 107.3M876.2 106.6L870.4 95.6M917.5 137.5L916.8 141.8M887.9 123.6L888.8 124.6M886.4 103.5L884.4 89.2M913.8 104.9L912.1 97.1M868 121.1L858.3 122.1M895.4 137.1L894.2 142.7M930.2 128.7L932.3 132.6M917.9 105.1L915.4 92M904.3 125.2L903.2 127.5M872.2 122.5L866.7 124M905 127.8L906.2 130.7M926.3 131.4L927.2 135.7M908.1 103.9L908.4 90.3M920.1 137.5L920.9 142.3M897 135.5L897.7 140.2M920.1 136.3L919.1 141M931.9 133.5L935.6 137.1M939.5 117L950.8 115.9M887.2 137.1L885.9 142.2M927.5 129.5L928.6 131.9M887 121.2L886.8 122M934.7 119L938.6 118.1M887.6 135.5L887.4 140.2M939.8 120.8L950.8 120.5M884.5 111.3L884.3 105.9M871.3 125.6L864.2 127.5M908.6 125.1L907.4 125.3M918.9 119L919.3 119.5M873.6 108.7L863.2 103.4M902.6 116.3L903.1 116.1M898.4 134.4L898.1 138.3M884.3 136.8L883 142.4M917.7 108.7L919.1 99.1M884.3 136.1L884 140.5M889.1 103.5L886.5 89.4M902.2 137.5L901.3 142.6M899.6 137.3L899.2 142.1M922.5 103.9L919.6 92M932.5 119.4L939.6 116.7M933.2 120.3L937.8 120.3M939.5 124.2L947 126.2M913.2 130.4L913.6 134.1M871.1 127.4L866.4 130M915.5 109.9L914.4 101.7M902.6 103.8L901.8 92.4M902.2 106.2L903.9 95.2M883.9 122.8L884.8 125M884.4 114L882 109M909.4 129.1L910.5 132.7M923.3 103.5L921 91.6M912.7 137.4L913.1 142.2M892.1 104.9L893.6 93.3M935.7 109.7L944.3 104.5M938.2 120.7L947.3 119.4M883.4 131.8L884 135.6M927.2 122.5L930.1 123.3M876.6 106.9L870.3 94.1M938.6 123.7L943.7 126.6M872.7 125.3L867.1 126.8M887.2 123.3L887.9 122.6M920.9 115.6L920.3 113.5M875.7 131.5L872.8 135.1M894.2 137.3L895.2 143M899.6 104.6L900.4 93.6M925.2 114.7L927.2 111.7M914.4 104.3L915.7 93.9M893.3 129.5L894.5 133.5M871.7 118.9L865 117.9M877.9 105.1L869.9 95.4M871.7 117.6L866.3 116.9M907.8 106.6L905.9 97.8M917 137.5L917.1 141.7M905.7 108.6L907.1 103.1M920.7 136L920.9 140.2M872.5 119L865.3 117.4M891.7 121.3L892 121.8M902.4 104L904.1 91.5M933.3 114.2L940.2 106.6M932.8 115.2L937.3 114M873.7 120.1L869.6 117.8M934.4 133.1L936.7 137.3M920.8 120.1L921.1 120.2M914.6 121.1L916.5 123.5M893.9 118L892.9 118M868.1 121L860.9 121.7M913.4 119.1L913.1 117.2M896.5 121.6L897.3 122.5M893.5 111.8L896.7 107.4M886.9 105L889.5 92M892.7 124.9L893.2 126.6M870 113.7L860.8 111.4M880.3 135.3L879.2 140.1M884.4 116.1L884.4 111.5M924 114L923.2 112.8M937 130.1L940.7 134.3M876.7 117.4L871.3 114.7M896 137.3L894.8 142.5M899.3 137L898.2 142.4M938.6 114.4L946.9 109.3M903.7 105.6L905.3 95.5M934.8 118.3L939.6 117.2M932.1 108.1L936.1 101.8M910.4 104.1L907 88.7M888 121L889.5 120.8M879.8 104.3L876 91.8M936.3 130L943.9 134.1M922.3 132.4L921.6 135.7M909.4 106.7L911.8 97.9M917 103.5L916.9 91.8M934.2 133.2L939 138.2M906.5 109.2L906.4 104.3M911 129.7L911.5 131.4M883 130.7L883.4 135.3M907.9 124.3L908.2 125.9M891.8 135.5L892.4 140.5M890.7 125.8L890.1 127.6M884.7 130.5L883.3 134.4M927.7 135.4L929.3 140.6M931.8 134.6L933.8 139.6M938.7 114.5L949.1 106.6M926.6 104.2L931.8 93.6M896.1 104.9L898.7 93.4M891.5 121.6L891.1 120.5M875.8 106.3L869.3 96.1M902 131.6L901.7 134.8M927.7 107.8L930.9 96.5M878.2 128.1L875.4 131.1M899.7 130.7L898.7 133.7M876.4 126.1L872.7 128.2M874.6 121.4L870 120M924.1 135.6L925.4 140.7M889.8 132.9L889.3 136.6M938.3 116L946.9 112.1M901.8 135.5L901.9 140.5M909.2 132.3L910.6 135.3" stroke="#26844d" stroke-width="0.8" fill="none"/>
<rect x="868" y="103.5" width="72" height="34" rx="14.4" ry="17" fill="url(#B13)"/>
<path d="M871 111.1V129.9M873.1 108.6V132.4M874.9 107V134M877.4 105.6V135.4M880.3 104.7V136.3M882.8 104.5V136.5M885.7 104.5V136.5M888.3 104.5V136.5M890.1 104.5V136.5M892.7 104.5V136.5M895.2 104.5V136.5M898 104.5V136.5M900 104.5V136.5M902.8 104.5V136.5M905.6 104.5V136.5M907.7 104.5V136.5M910 104.5V136.5M912.1 104.5V136.5M914.9 104.5V136.5M917.6 104.5V136.5M920 104.5V136.5M922.5 104.5V136.5M924.6 104.5V136.5M926.7 104.6V136.4M928.7 104.9V136.1M930.9 105.7V135.3M933.2 107.1V133.9M935.9 109.6V131.4" stroke="#3c9a4c" stroke-width="0.9" opacity="0.3" fill="none"/>
<path d="M911 137.5L911.7 142.2M873.3 131.3L867.5 136.4M926.7 131.1L927 135.7M904.9 104.7L904.6 93M893.9 104.1L891.1 90.3M883.5 133.3L882.4 138.5M907.3 111.5L905.8 107.2M903.3 131.4L902.7 135.8M898.7 120.2L901 121.9M915.5 108.7L918.1 101.9M912.3 137.2L913.8 142.7M872.9 121.2L864.4 120.1M921.6 107L918.3 99.2M879.3 136.4L878.1 142.5M920.6 104.4L923.5 88.4M918.6 126L918.8 130.6M926.4 118.8L929.5 118.5M887 126.4L888.9 129.8M911.6 118.7L915.8 118.8M929.5 130.8L932.5 135.3M868.5 123.7L858.8 125.4M920.5 106.8L918.1 95.8M887.5 114.5L884 112.6M893.8 132.2L895.6 137.6M927.1 107.8L929.9 98.2M929.9 118.8L933.8 117.6M934.9 108.5L944.4 98.7M924.2 137L924.8 143M901.3 106.3L901.6 94.3M869.5 119.1L861.3 116.8M913.1 122.1L916.7 122.8M911.6 120.7L915.8 121.4M869.3 114.4L860.1 110.9M876.1 114.3L869.3 107.5M912.4 127.6L911.1 131.8M912.4 122.6L912.6 124.8M879.4 136.3L876 141.4M870.5 111.7L860.3 102.4M879.1 118.4L874.6 117.4M891.3 109.2L893.2 98.9M927.3 127.6L927.8 132.3M892.2 127.8L889.7 130.2M900.1 112.5L899.5 108.1M903.6 128.3L902.1 131.2M893.8 136.9L894.9 142.6M888.4 132.8L888.3 137.3M891.7 104.2L888.2 91.3M888 118.2L887.3 115.3M919 132.6L917.9 138.4M933.1 132.4L937.2 137.2M892.9 118.3L894.8 114.5M921 114.6L922.9 111.2M905.9 107.5L903.7 95.8M896.2 107L898 95M909.5 137.5L910.7 142M876.9 110.5L869.4 104.7M884.6 127.6L882.8 130.5M887.2 135.5L888.9 141.9M901.3 104.9L903.8 90.4M875 128.1L870 132.3M891.7 129.4L891.6 132.7M921.4 121.8L922.6 123.7M891.7 133.1L892.4 138.6M896.9 120.8L894.5 123.6M925.8 105.7L924.6 91.4M924.2 137.4L925.1 142.3M907 105.5L907.5 95.7M911.8 104L910.4 91.9M928.5 111.5L936.3 101.1M912.1 107.3L914.1 101.2M929.2 124L932.8 126.7M889.9 133.6L889.2 139.5M934.6 121.7L944.3 120.6M875.9 122.7L869.3 123.6M882.9 111.1L882.6 105.9M869.9 114.7L858.7 108.8M934.2 107.7L945.8 100.5M907.1 133.3L906.7 138.1M939.2 118.3L951.4 115M878.1 129.9L874.5 132.7M924.1 103.6L926.5 87.9M880 125.5L877.7 128.8M901.2 119.1L900.6 116.9M872.5 108.9L864.8 97.5M893.6 105.7L891.7 93.9M922.5 124.8L921.3 128.4M879.5 136.4L877.2 141.1M908.9 104.3L906.4 92.6M919.6 127.3L919.8 131.7M903.3 113.3L904.5 106.8M928.4 116.2L930 112.6M877.9 116.3L873.9 116.4M927 104.7L930.8 93.7M923.2 135.5L921.7 142.1M905.8 136.5L907 142.9M930.6 120.3L934.3 120.1M935 127.8L941 130.6M935.8 128.5L942.2 132M875.9 106.7L872.4 94.9M920.8 107.6L920.1 98.9M906.1 130.9L907.5 135.6M898.6 118.8L898 116.9M898.3 117.3L895.8 114.2M891.1 123.6L890 126.2M930.9 110.7L937.2 103M873.2 132.5L869.3 136.7M898.1 120.1L894.6 118.8M908.2 108.1L908.4 98M907.3 105.7L909.4 94.2M919.1 135.9L918.2 141.8M911.2 103.8L910.8 90.6M932.6 126.3L938.2 131.2M873 120L864.6 119.4M928.3 107.5L933.1 98M916 133.4L917.2 139.9M904.6 103.8L902 92.4M878.2 131L873.6 135.3M907.5 106.8L906.7 98.2M929 115.3L932 106.9M874.3 131.2L870.5 135.9M882.9 105.9L879.3 94.1M936.2 109.8L946 104.7M877.9 107.2L870.2 94.3M912.5 133.8L913.2 139.1M901.5 137.2L903.1 142.4M870.2 112.4L861.5 109.4M883.1 133L882.3 139.3M923.5 103.5L923.6 89.3M887.1 136.8L888.2 141.5M890.1 122.8L888.5 125.6M869.4 117.3L857.5 112.2M907.5 133.7L907.2 139.1M914.9 136.1L916 141.1M926.9 136.1L928 141.8M893.4 122.8L891.2 124.7M902 111.9L901.3 107.5M930.8 116.4L934.8 115.7M928 135L930.8 140.2M892.2 137.4L892.9 143.1M920.3 137.1L919 143M939.9 118.5L949.7 115.8M929.8 104.9L936.7 92.4M928.3 114.2L934 108.9M933.9 125.9L938.8 129.9M906.5 126.6L909.2 129.5M935.1 125.4L943.5 126.2M903.6 112L903.1 107.7M915.6 108L915.1 99.7M920.9 120.3L922 118.5M876.7 129.9L872.8 133.7M939.8 118.4L948.9 117.1M915.3 104.2L915.7 89.1M878.2 108.4L874.1 95.3M877.8 135.6L873.4 139.9M939.5 117.9L949.1 114M882.9 131.9L881.3 136.5M871.8 126L865.6 131.2M928.1 130.6L932.5 134.5M938.8 126.6L946.3 127.9M924.3 109.9L927.6 105.2M904 118.9L906.6 115.1M903.9 119.6L903 117.1M893.2 116.6L894.4 113.6M886.3 109.4L887.3 104.3M918.1 122.3L918 125.4M937.5 129.3L943.1 133.3M933.3 133.4L937 137.4M921.4 103.5L921.5 91.6M922.7 135.5L921.6 141.3M893.4 117.6L890 117.6M915.4 105L913 91.8M904.2 131L904.4 135.4M910.9 126.9L912.3 132M931.6 120.9L934.2 122.7M886.5 115.9L888 112M888 107.1L889.1 97.3M911.8 137L911.5 141.9M896.7 103.5L899.6 90.9M916.5 109.1L916.7 96.4M909.1 115.2L910.3 110.5M899.8 114.7L902.3 111.1M904.8 103.6L907.9 90.7M920.4 130.7L921 136.4M878.9 105.4L876.9 90.8M919.4 134.8L920.1 141.1M902.6 137.3L903.4 142.5M870.1 113.7L861.4 112.4M911.8 104.4L916.4 90.3M915.4 136.6L914.3 142.3M905 131L905.1 135.7M935.6 115.9L944.8 112.3M927.8 116.2L933.7 108.8M910.1 132.5L911.9 137.8M898.5 106.1L896.2 95.6M890.3 103.5L891.5 88.4M868.6 123.9L860.6 125.6M886 104.6L886.1 93.2M898.6 133.7L899.8 139M919.7 104.6L917.4 92.3M922.8 134.6L922 140.9M892.1 121.1L890.1 121.4M886.9 129.3L887.1 133.8M894.6 134.8L896.1 140.1M934.6 126.6L942 130.2M876.2 127.1L871 130.7M929.3 105.1L934 92.5M921.3 129.5L920.6 134.5M924.1 103.5L928 92.1M888.8 136.9L889.7 143.5M916.4 117.8L918.8 115.1M927 109.6L932.7 104.6M917.5 120L920.4 119.5M918 114.6L917.6 110.4M892.9 103.9L895.9 91.4M900.6 112.5L900.9 108.2M918.4 129.2L916.2 133.1M903.3 128.2L905.9 131M914.7 122.3L917.6 121.7M916.7 105.1L918.2 94.7M894.3 109.9L896.9 105.1M900.2 128.9L901.5 133.8M920.4 137.4L921.7 141.8M885.8 105.6L888.2 93M910.6 114.5L910.4 107.4M874.7 111.4L867.7 103M894.1 137.4L894.9 142.9M928 104.4L929.5 90.4M916.5 107.8L916.3 97.6M921.1 124.4L920.5 128.1M891.8 132.4L890.9 137.7M884.1 112.3L880.9 105.4M897.8 103.7L895.3 90.4M874.2 113.5L866.1 110.3M873.7 110.8L864.7 106.8M939.7 117.9L948.1 117.3M905.7 117.2L908.5 114.9M937.4 129.5L943.2 133.8M896 129.5L896.4 134M901.1 123.5L900.1 126M931.3 118.3L936.7 115.8M875.9 121.9L871.3 122M888.9 115.7L889.8 111.1M924.4 119.6L926 120.7M911.9 130.5L912.4 137.1M900.8 114.2L904.6 104.8M887.1 103.5L887.6 88.9M883.4 103.6L881 90.8M883.8 104.4L884.4 92.2M897.2 107L897.6 96M924.1 125.6L925.3 130M871.7 113.6L863.5 105.6M926.8 104.4L927.7 91.6M884.6 105.8L886.2 93.7M920.8 113.3L921.4 106.9M893.7 126.6L892.3 131.2M879.1 136.3L876.9 140.7M902.6 134.8L901.7 139.6M886.1 117.6L889.5 114.7M903.6 137L901.8 142.7M869.3 126L863 128.7M884 103.9L880.7 91.1M876.9 113.5L868.1 106.6M889.6 130.5L890.7 136.1M908.9 108.1L909.2 98.3M870.5 129.3L865.3 134.5M897.1 113.8L894 105.7M931.4 124.6L937 126.2M931.5 135.1L933.3 140M909.9 103.9L909.9 90M892.1 127.8L893 130.4M938 127.9L944.1 130.7M868.7 121.1L860.3 122.2M912.2 104L910.2 91M870 120.6L861 121.7M872.1 116.9L864.2 111.5M893 120.9L888.5 120.8M936.5 111.5L945.5 106.5M888.1 131.8L886.7 137.1" stroke="#32a060" stroke-width="0.8" fill="none"/>
<g fill="#8c1a86"><circle cx="22.9" cy="66.2" r="3.1"/><circle cx="23" cy="67.1" r="2.8"/><circle cx="23.7" cy="66.5" r="3.2"/><circle cx="18.3" cy="64.9" r="3.2"/><circle cx="17.5" cy="64.6" r="2.8"/><circle cx="17.3" cy="66.1" r="3.2"/><circle cx="14.9" cy="71.7" r="2.7"/><circle cx="14.4" cy="68.9" r="2.9"/></g>
<g fill="#8c1a86"><circle cx="44.3" cy="100.4" r="3"/><circle cx="45.2" cy="99.4" r="3.1"/><circle cx="46.3" cy="101.4" r="2.9"/><circle cx="46.6" cy="95.4" r="3.2"/><circle cx="48" cy="96.4" r="2.9"/><circle cx="48.7" cy="95" r="3.1"/></g>
<g fill="#8c1a86"><circle cx="76.3" cy="84.8" r="3.2"/><circle cx="75.8" cy="85" r="3.2"/><circle cx="78.1" cy="83.8" r="2.6"/><circle cx="81.5" cy="85.1" r="3.2"/><circle cx="81.7" cy="83.7" r="3.2"/><circle cx="86.1" cy="79.4" r="3.1"/><circle cx="85.1" cy="81" r="3.2"/><circle cx="83.4" cy="81.1" r="2.7"/></g>
<g fill="#8c1a86"><circle cx="79.2" cy="119.6" r="2.9"/><circle cx="76.8" cy="122" r="2.8"/><circle cx="78.9" cy="119.6" r="2.8"/><circle cx="83.2" cy="119.1" r="2.7"/><circle cx="82.8" cy="119.8" r="2.9"/><circle cx="88.7" cy="123.3" r="2.8"/><circle cx="86.3" cy="120.6" r="2.9"/><circle cx="88.2" cy="121.6" r="2.8"/></g>
<g fill="#8c1a86"><circle cx="118.3" cy="96.7" r="2.8"/><circle cx="116.7" cy="96.5" r="2.8"/><circle cx="120.3" cy="93.2" r="3.2"/><circle cx="120.2" cy="92.6" r="2.8"/><circle cx="120.2" cy="87.8" r="2.9"/><circle cx="118.4" cy="87.6" r="3.2"/></g>
<g fill="#8c1a86"><circle cx="176" cy="51.6" r="3"/><circle cx="177.8" cy="52" r="2.7"/><circle cx="176.9" cy="52" r="3"/><circle cx="180.5" cy="50.4" r="2.7"/><circle cx="180.4" cy="50" r="3"/><circle cx="181.8" cy="49.9" r="2.6"/><circle cx="184.7" cy="52.8" r="2.8"/><circle cx="186.5" cy="53.6" r="2.7"/><circle cx="184.4" cy="53.1" r="3"/></g>
<g fill="#8c1a86"><circle cx="380.8" cy="81.2" r="2.9"/><circle cx="377.9" cy="81.5" r="3.2"/><circle cx="379" cy="79.2" r="3.1"/><circle cx="383.9" cy="76.7" r="2.6"/><circle cx="384.4" cy="77.4" r="3.2"/><circle cx="382.9" cy="78.8" r="2.9"/><circle cx="384.2" cy="73.1" r="3.2"/><circle cx="382.8" cy="73" r="2.9"/></g>
<g fill="#8c1a86"><circle cx="388.5" cy="94.8" r="2.9"/><circle cx="388.1" cy="97.4" r="2.8"/><circle cx="393.3" cy="93.9" r="2.7"/><circle cx="393.1" cy="93.6" r="3.2"/><circle cx="391.7" cy="89.3" r="2.8"/><circle cx="391.3" cy="89.1" r="2.6"/></g>
<g fill="#8c1a86"><circle cx="424.8" cy="57.8" r="3.1"/><circle cx="424.8" cy="58.7" r="2.7"/><circle cx="424.2" cy="61.4" r="2.8"/><circle cx="423.4" cy="61.6" r="3"/><circle cx="422.8" cy="60.5" r="3.3"/></g>
<g fill="#8c1a86"><circle cx="448" cy="81.5" r="2.9"/><circle cx="447.8" cy="83.8" r="3"/><circle cx="448.7" cy="81.4" r="2.7"/><circle cx="451.6" cy="84.6" r="2.9"/><circle cx="454.4" cy="83.5" r="3.2"/><circle cx="456.9" cy="83.4" r="3.1"/><circle cx="458.1" cy="83.1" r="2.8"/><circle cx="458.5" cy="82.8" r="2.8"/></g>
<g fill="#8c1a86"><circle cx="494.5" cy="82.1" r="3.2"/><circle cx="494.7" cy="81.4" r="3"/><circle cx="495" cy="80.7" r="2.7"/><circle cx="494.8" cy="78.5" r="2.7"/><circle cx="495.1" cy="76.1" r="3"/><circle cx="494.7" cy="76.8" r="3.2"/><circle cx="490.5" cy="74.6" r="2.9"/><circle cx="489.3" cy="74" r="2.8"/><circle cx="488.5" cy="74.2" r="3"/></g>
<g fill="#8c1a86"><circle cx="520.5" cy="54" r="2.8"/><circle cx="519.2" cy="53.7" r="2.9"/><circle cx="519.4" cy="51.9" r="2.9"/><circle cx="521.2" cy="57.6" r="3"/><circle cx="521.1" cy="57.9" r="2.8"/><circle cx="524.3" cy="59.2" r="3.1"/><circle cx="526" cy="60.5" r="2.7"/><circle cx="524.3" cy="61.2" r="2.8"/></g>
<g fill="#8c1a86"><circle cx="588.2" cy="63" r="3"/><circle cx="587.9" cy="62.8" r="2.7"/><circle cx="586.4" cy="61.5" r="2.6"/><circle cx="584.1" cy="61.2" r="3"/><circle cx="583.4" cy="61.5" r="2.9"/></g>
<g fill="#8c1a86"><circle cx="613" cy="104.7" r="3.2"/><circle cx="614.5" cy="106.7" r="2.6"/><circle cx="611.5" cy="101.6" r="2.7"/><circle cx="614.3" cy="100.4" r="3"/><circle cx="611.6" cy="102.3" r="3.2"/><circle cx="617.8" cy="99.6" r="3.1"/><circle cx="618.6" cy="100.5" r="2.8"/><circle cx="618.7" cy="100.2" r="2.7"/></g>
<g fill="#8c1a86"><circle cx="639.6" cy="85.4" r="2.8"/><circle cx="639.4" cy="84.1" r="2.8"/><circle cx="644.3" cy="84.8" r="3.1"/><circle cx="643.4" cy="84.4" r="2.8"/><circle cx="644.5" cy="79.1" r="2.7"/><circle cx="646.9" cy="80.1" r="2.7"/></g>
<g fill="#8c1a86"><circle cx="462" cy="148.5" r="2.7"/><circle cx="461.7" cy="147.4" r="3.2"/><circle cx="455.4" cy="148.2" r="2.7"/><circle cx="455.1" cy="150.2" r="3.2"/><circle cx="457" cy="150.1" r="3"/><circle cx="451.9" cy="146.3" r="2.8"/><circle cx="452.5" cy="145.3" r="2.6"/></g>
<g fill="#c81414"><circle cx="546" cy="89.9" r="3.1"/><circle cx="544.7" cy="88.4" r="3.2"/><circle cx="545.7" cy="87.6" r="3.1"/><circle cx="540" cy="86.1" r="3.3"/><circle cx="538.6" cy="88" r="2.9"/></g>
<g fill="#c81414"><circle cx="581.1" cy="110.3" r="3.1"/><circle cx="583.7" cy="109.4" r="3.1"/><circle cx="588.2" cy="109.6" r="3.3"/><circle cx="589.3" cy="109.8" r="2.8"/><circle cx="589.3" cy="111.5" r="3.1"/><circle cx="588.7" cy="107.2" r="3.3"/><circle cx="590.8" cy="105.6" r="3.2"/><circle cx="589.6" cy="105.2" r="3"/></g>
<g fill="#c81414"><circle cx="503" cy="142.9" r="3.3"/><circle cx="503.4" cy="141.6" r="3"/><circle cx="502.1" cy="137.7" r="2.9"/><circle cx="501.4" cy="137.8" r="3.1"/><circle cx="500.4" cy="136.8" r="3.3"/><circle cx="495.9" cy="136.5" r="3.3"/><circle cx="495.4" cy="134.8" r="2.9"/><circle cx="495.9" cy="135.9" r="2.8"/></g>
<g fill="#8c1a86"><circle cx="791.3" cy="35.6" r="2.8"/><circle cx="791.3" cy="34" r="2.8"/><circle cx="794.3" cy="40.2" r="2.8"/><circle cx="796.7" cy="38.9" r="2.6"/><circle cx="792.6" cy="42" r="3"/><circle cx="792.4" cy="43.9" r="3.2"/><circle cx="792.5" cy="43.3" r="3.1"/></g>
<g fill="#8c1a86"><circle cx="908.1" cy="42.9" r="3"/><circle cx="907" cy="43.3" r="3.1"/><circle cx="903.4" cy="40.7" r="3.2"/><circle cx="903.5" cy="42.6" r="3.2"/><circle cx="904.6" cy="41.6" r="2.6"/><circle cx="903.1" cy="37.4" r="2.7"/><circle cx="905.4" cy="38.6" r="3"/></g>
<g fill="#8c1a86"><circle cx="999.1" cy="31.9" r="3.2"/><circle cx="999.2" cy="31.2" r="3.2"/><circle cx="998.2" cy="32.1" r="2.9"/><circle cx="997.1" cy="35.1" r="2.9"/><circle cx="995.3" cy="34.6" r="3.2"/><circle cx="997.1" cy="36.4" r="3"/><circle cx="999.6" cy="40.8" r="2.8"/><circle cx="999.2" cy="40.3" r="2.8"/><circle cx="997.2" cy="41.5" r="3.2"/></g>
<g fill="#8c1a86"><circle cx="1039.2" cy="61.4" r="3.2"/><circle cx="1040.6" cy="60.9" r="2.8"/><circle cx="1035" cy="59.3" r="2.8"/><circle cx="1035.1" cy="57.4" r="2.9"/><circle cx="1034.5" cy="56.7" r="3.1"/><circle cx="1034.8" cy="53.1" r="3"/><circle cx="1034.1" cy="54.4" r="2.7"/><circle cx="1034.8" cy="52.8" r="2.7"/></g>
<g fill="#8c1a86"><circle cx="768.6" cy="79" r="2.6"/><circle cx="769.6" cy="81" r="2.8"/><circle cx="767" cy="79.4" r="2.8"/><circle cx="765.2" cy="75.6" r="3"/><circle cx="766.4" cy="76.5" r="3.3"/><circle cx="760.2" cy="77.2" r="3"/><circle cx="761.8" cy="76.4" r="3.2"/><circle cx="761.3" cy="75.8" r="2.8"/></g>
<g fill="#8c1a86"><circle cx="843" cy="73.1" r="2.7"/><circle cx="842.7" cy="74.6" r="2.7"/><circle cx="840.1" cy="70.8" r="2.9"/><circle cx="839.3" cy="71.2" r="2.7"/><circle cx="840" cy="70.2" r="2.6"/></g>
<g fill="#8c1a86"><circle cx="870" cy="76.4" r="3.2"/><circle cx="868.6" cy="77.1" r="3"/><circle cx="873.9" cy="74.9" r="3"/><circle cx="875.7" cy="73.3" r="2.8"/><circle cx="873.6" cy="72.6" r="2.8"/><circle cx="876.9" cy="79.5" r="3.2"/><circle cx="877" cy="77.1" r="2.9"/><circle cx="876.3" cy="77.1" r="3.1"/></g>
<g fill="#8c1a86"><circle cx="963" cy="80" r="2.9"/><circle cx="963.5" cy="79.6" r="2.7"/><circle cx="960.9" cy="76.1" r="3.1"/><circle cx="961.8" cy="76" r="3"/><circle cx="960.9" cy="76.3" r="3"/></g>
<g fill="#8c1a86"><circle cx="999.9" cy="84.1" r="2.6"/><circle cx="1002" cy="86.4" r="3.1"/><circle cx="1005.2" cy="81.4" r="2.8"/><circle cx="1003.7" cy="81" r="2.8"/><circle cx="1009.2" cy="82.7" r="3.2"/><circle cx="1010" cy="82.4" r="3.1"/></g>
<g fill="#8c1a86"><circle cx="742" cy="95.3" r="2.7"/><circle cx="742.5" cy="94.7" r="2.7"/><circle cx="737.6" cy="93.9" r="3.3"/><circle cx="735.8" cy="96.2" r="2.7"/></g>
<g fill="#8c1a86"><circle cx="827.1" cy="116.7" r="3.1"/><circle cx="826.4" cy="116" r="3.1"/><circle cx="822.7" cy="114.4" r="2.8"/><circle cx="824.2" cy="113.7" r="2.6"/><circle cx="821.3" cy="113.5" r="3.2"/><circle cx="818.5" cy="112.4" r="3.2"/><circle cx="817.7" cy="112.1" r="2.9"/><circle cx="818" cy="113.2" r="3.1"/></g>
<g fill="#8c1a86"><circle cx="1057.4" cy="118.2" r="2.9"/><circle cx="1057.9" cy="119.8" r="3.1"/><circle cx="1052.4" cy="118.7" r="3.1"/><circle cx="1052.3" cy="119.4" r="3.1"/></g>
<g fill="#8c1a86"><circle cx="746.3" cy="141.1" r="3"/><circle cx="747.8" cy="141.4" r="2.8"/><circle cx="741.7" cy="142.7" r="3.2"/><circle cx="743.2" cy="141" r="3.2"/><circle cx="742.9" cy="143.5" r="3"/><circle cx="739.6" cy="136.5" r="3"/><circle cx="741" cy="136.8" r="3.1"/><circle cx="741.4" cy="136.9" r="3"/></g>
<g fill="#8c1a86"><circle cx="964" cy="131.1" r="2.7"/><circle cx="964.1" cy="132" r="2.8"/><circle cx="965.7" cy="135.8" r="2.7"/><circle cx="964.8" cy="134.5" r="3.1"/><circle cx="965.3" cy="135.7" r="2.9"/><circle cx="970.3" cy="135.2" r="3"/><circle cx="971.6" cy="135.3" r="3"/><circle cx="970.2" cy="136.4" r="2.6"/></g>
<g fill="#c81414"><circle cx="871.3" cy="98.8" r="2.6"/><circle cx="873.2" cy="98.7" r="2.9"/><circle cx="867.1" cy="100.8" r="2.6"/><circle cx="866.2" cy="98.1" r="2.6"/><circle cx="865.3" cy="96.6" r="2.9"/><circle cx="864.9" cy="95" r="2.6"/></g>
<g fill="#c81414"><circle cx="875.7" cy="109" r="2.8"/><circle cx="875.1" cy="111" r="3"/><circle cx="881.3" cy="106.9" r="2.9"/><circle cx="880.9" cy="108.6" r="3"/><circle cx="883.3" cy="105.4" r="2.8"/><circle cx="882.1" cy="104.4" r="2.8"/><circle cx="881.5" cy="103.7" r="2.5"/></g>
<g fill="#c81414"><circle cx="890.3" cy="97.7" r="2.9"/><circle cx="889.3" cy="97.7" r="2.9"/><circle cx="892.3" cy="94.8" r="2.6"/><circle cx="894.2" cy="95.3" r="3"/><circle cx="895.9" cy="97.8" r="2.9"/><circle cx="896" cy="98.6" r="2.5"/></g>
<g fill="#c81414"><circle cx="911.1" cy="94.9" r="2.6"/><circle cx="910.5" cy="94.6" r="2.7"/><circle cx="913.6" cy="91.3" r="2.7"/><circle cx="914.2" cy="91.5" r="2.7"/><circle cx="911.2" cy="89" r="3"/><circle cx="912" cy="87.6" r="2.5"/><circle cx="911.5" cy="88" r="2.6"/></g>
<g fill="#c81414"><circle cx="928.9" cy="94.4" r="2.7"/><circle cx="928.9" cy="95.2" r="3"/><circle cx="927.2" cy="98.7" r="2.6"/><circle cx="927.6" cy="99.9" r="2.7"/><circle cx="927.7" cy="98" r="2.8"/><circle cx="933.7" cy="99" r="2.5"/><circle cx="933.5" cy="100.2" r="2.5"/><circle cx="932.5" cy="98.5" r="2.8"/></g>
<g fill="#c81414"><circle cx="950.6" cy="105" r="2.9"/><circle cx="951" cy="102.7" r="2.9"/><circle cx="951" cy="105.1" r="2.6"/><circle cx="947.5" cy="108.6" r="2.7"/><circle cx="949.8" cy="107.7" r="3"/><circle cx="950.1" cy="106.9" r="2.6"/></g>
<g fill="#c81414"><circle cx="870.6" cy="121.1" r="2.6"/><circle cx="869.3" cy="120.6" r="2.7"/><circle cx="869" cy="120.8" r="2.5"/><circle cx="866.2" cy="118.2" r="2.6"/><circle cx="866" cy="120.4" r="2.4"/><circle cx="862.3" cy="122.5" r="2.5"/><circle cx="863.3" cy="122.6" r="2.4"/><circle cx="861.2" cy="121.9" r="2.7"/></g>
<g fill="#c81414"><circle cx="886.8" cy="116.8" r="2.5"/><circle cx="887.1" cy="117.5" r="2.6"/><circle cx="889.6" cy="121.7" r="2.8"/><circle cx="887.8" cy="122.8" r="2.4"/><circle cx="888.7" cy="121.2" r="2.9"/></g>
<g fill="#c81414"><circle cx="905.9" cy="115" r="2.8"/><circle cx="906" cy="117.1" r="2.8"/><circle cx="902.7" cy="111.9" r="2.7"/><circle cx="902.6" cy="111.1" r="3"/><circle cx="905.5" cy="108.9" r="2.6"/><circle cx="907.3" cy="107.9" r="2.7"/></g>
<g fill="#c81414"><circle cx="932.2" cy="117.6" r="2.6"/><circle cx="931.9" cy="116.7" r="2.5"/><circle cx="932.8" cy="120.9" r="2.9"/><circle cx="934.1" cy="121.1" r="2.6"/><circle cx="938.5" cy="121.7" r="2.7"/><circle cx="938" cy="120.5" r="2.8"/><circle cx="937.4" cy="121.5" r="2.8"/></g>
<g fill="#c81414"><circle cx="942.4" cy="126.1" r="3"/><circle cx="943" cy="127.1" r="2.5"/><circle cx="947.1" cy="127.9" r="3"/><circle cx="946.5" cy="129.3" r="2.5"/><circle cx="945.9" cy="129.6" r="2.7"/></g>
<g fill="#c81414"><circle cx="866.5" cy="136.1" r="2.8"/><circle cx="867.7" cy="134.5" r="2.8"/><circle cx="870" cy="138.6" r="2.8"/><circle cx="869.8" cy="139.2" r="2.7"/><circle cx="869.9" cy="139.1" r="2.9"/><circle cx="872.3" cy="139" r="2.7"/><circle cx="873.7" cy="139.5" r="2.7"/></g>
<g fill="#c81414"><circle cx="913.8" cy="137.8" r="2.7"/><circle cx="914.8" cy="137.3" r="2.6"/><circle cx="919.1" cy="140.9" r="2.7"/><circle cx="918.1" cy="139" r="2.6"/><circle cx="922.3" cy="136.2" r="2.9"/><circle cx="921.6" cy="138.3" r="2.9"/><circle cx="923.4" cy="136.5" r="2.6"/></g>
<g fill="#c81414"><circle cx="905.7" cy="82.8" r="2.6"/><circle cx="906.6" cy="82.5" r="2.9"/><circle cx="906.9" cy="82.5" r="2.7"/><circle cx="902.8" cy="84.6" r="2.4"/><circle cx="902.2" cy="85.7" r="2.7"/><circle cx="903.4" cy="87.2" r="2.5"/><circle cx="905.9" cy="90" r="2.9"/><circle cx="906.5" cy="89.8" r="2.8"/><circle cx="905.1" cy="88.9" r="2.6"/></g>
<path d="M124.6 188.5L120.2 197.5M127.2 188.5L123 197.5M129.8 188.5L125.8 197.5M132.4 188.5L128.6 197.5M135 188.5L131.4 197.5M137.6 188.5L134.2 197.5M140.2 188.5L137 197.5M142.8 188.5L139.9 197.5M145.4 188.5L142.7 197.5M148 188.5L145.5 197.5M150.6 188.5L148.3 197.5M153.2 188.5L151.1 197.5M155.8 188.5L153.9 197.5M158.4 188.5L156.7 197.5M161 188.5L159.5 197.5M163.6 188.5L162.3 197.5M166.2 188.5L165.1 197.5M168.8 188.5L167.9 197.5M171.4 188.5L170.7 197.5M174 188.5L173.6 197.5M176.6 188.5L176.4 197.5M179.2 188.5L179.2 197.5M181.8 188.5L182 197.5M184.4 188.5L184.8 197.5M187 188.5L187.6 197.5M189.6 188.5L190.4 197.5M192.2 188.5L193.2 197.5M194.8 188.5L196 197.5M197.4 188.5L198.8 197.5M200 188.5L201.6 197.5M202.6 188.5L204.4 197.5M205.2 188.5L207.2 197.5M207.8 188.5L210.1 197.5M210.4 188.5L212.9 197.5M213 188.5L215.7 197.5M215.6 188.5L218.5 197.5M218.2 188.5L221.3 197.5M220.8 188.5L224.1 197.5M223.4 188.5L226.9 197.5M226 188.5L229.7 197.5M228.6 188.5L232.5 197.5M231.2 188.5L235.3 197.5M233.8 188.5L238.1 197.5" stroke="#3f6b7a" stroke-width="1.1" opacity="0.35" fill="none"/>
<path d="M486 188.5L481.6 197.5M488.6 188.5L484.4 197.5M491.2 188.5L487.2 197.5M493.8 188.5L490 197.5M496.4 188.5L492.8 197.5M499 188.5L495.6 197.5M501.6 188.5L498.4 197.5M504.2 188.5L501.3 197.5M506.8 188.5L504.1 197.5M509.4 188.5L506.9 197.5M512 188.5L509.7 197.5M514.6 188.5L512.5 197.5M517.2 188.5L515.3 197.5M519.8 188.5L518.1 197.5M522.4 188.5L520.9 197.5M525 188.5L523.7 197.5M527.6 188.5L526.5 197.5M530.2 188.5L529.3 197.5M532.8 188.5L532.1 197.5M535.4 188.5L535 197.5M538 188.5L537.8 197.5M540.6 188.5L540.6 197.5M543.2 188.5L543.4 197.5M545.8 188.5L546.2 197.5M548.4 188.5L549 197.5M551 188.5L551.8 197.5M553.6 188.5L554.6 197.5M556.2 188.5L557.4 197.5M558.8 188.5L560.2 197.5M561.4 188.5L563 197.5M564 188.5L565.8 197.5M566.6 188.5L568.6 197.5M569.2 188.5L571.5 197.5M571.8 188.5L574.3 197.5M574.4 188.5L577.1 197.5M577 188.5L579.9 197.5M579.6 188.5L582.7 197.5M582.2 188.5L585.5 197.5M584.8 188.5L588.3 197.5M587.4 188.5L591.1 197.5M590 188.5L593.9 197.5M592.6 188.5L596.7 197.5M595.2 188.5L599.5 197.5" stroke="#3f6b7a" stroke-width="1.1" opacity="0.35" fill="none"/>
<path d="M849 188.5L844.6 197.5M851.6 188.5L847.4 197.5M854.2 188.5L850.2 197.5M856.8 188.5L853 197.5M859.4 188.5L855.8 197.5M862 188.5L858.6 197.5M864.6 188.5L861.4 197.5M867.2 188.5L864.3 197.5M869.8 188.5L867.1 197.5M872.4 188.5L869.9 197.5M875 188.5L872.7 197.5M877.6 188.5L875.5 197.5M880.2 188.5L878.3 197.5M882.8 188.5L881.1 197.5M885.4 188.5L883.9 197.5M888 188.5L886.7 197.5M890.6 188.5L889.5 197.5M893.2 188.5L892.3 197.5M895.8 188.5L895.1 197.5M898.4 188.5L898 197.5M901 188.5L900.8 197.5M903.6 188.5L903.6 197.5M906.2 188.5L906.4 197.5M908.8 188.5L909.2 197.5M911.4 188.5L912 197.5M914 188.5L914.8 197.5M916.6 188.5L917.6 197.5M919.2 188.5L920.4 197.5M921.8 188.5L923.2 197.5M924.4 188.5L926 197.5M927 188.5L928.8 197.5M929.6 188.5L931.6 197.5M932.2 188.5L934.5 197.5M934.8 188.5L937.3 197.5M937.4 188.5L940.1 197.5M940 188.5L942.9 197.5M942.6 188.5L945.7 197.5M945.2 188.5L948.5 197.5M947.8 188.5L951.3 197.5M950.4 188.5L954.1 197.5M953 188.5L956.9 197.5M955.6 188.5L959.7 197.5M958.2 188.5L962.5 197.5" stroke="#3f6b7a" stroke-width="1.1" opacity="0.35" fill="none"/>
<text x="12.8" y="22.3" font-size="17" fill="#1c2a30" stroke="#1c2a30" stroke-width="0.45">(a)</text>
<text x="375.3" y="22.3" font-size="17" fill="#1c2a30" stroke="#1c2a30" stroke-width="0.45">(b)</text>
<text x="739.5" y="22.3" font-size="17" fill="#1c2a30" stroke="#1c2a30" stroke-width="0.45">(c)</text>
<text x="237" y="175.3" font-size="16.5" fill="#182228" textLength="81" lengthAdjust="spacingAndGlyphs" stroke="#182228" stroke-width="0.35">free sensor</text>
<circle cx="336" cy="169.3" r="8.9" fill="none" stroke="#111a22" stroke-width="2.1"/>
<text x="336" y="174.9" font-size="15.5" fill="#111a22" text-anchor="middle" >1</text>
<text x="586.3" y="175.5" font-size="16.5" fill="#182228" textLength="94.3" lengthAdjust="spacingAndGlyphs" stroke="#182228" stroke-width="0.35">initial binding</text>
<circle cx="698.8" cy="169.7" r="8.9" fill="none" stroke="#111a22" stroke-width="2.1"/>
<text x="698.8" y="175.3" font-size="15.5" fill="#111a22" text-anchor="middle" >2</text>
<text x="947.4" y="174.8" font-size="16.5" fill="#182228" textLength="97" lengthAdjust="spacingAndGlyphs" stroke="#182228" stroke-width="0.35">at equilibrium</text>
<circle cx="1061.5" cy="169.1" r="8.9" fill="none" stroke="#111a22" stroke-width="2.1"/>
<text x="1061.5" y="174.7" font-size="15.5" fill="#111a22" text-anchor="middle" >3</text>
<g fill="#7aaee6" opacity="0.4"><circle cx="57.4" cy="358.2" r="4"/><circle cx="58.1" cy="356.7" r="3.3"/><circle cx="55.9" cy="357.1" r="3.6"/><circle cx="63" cy="355.5" r="3.5"/><circle cx="64.3" cy="355.6" r="3.2"/><circle cx="67.6" cy="357.6" r="3.2"/><circle cx="67.6" cy="358.2" r="3.7"/></g>
<g fill="#7aaee6" opacity="0.4"><circle cx="327.3" cy="331.9" r="3.6"/><circle cx="324.6" cy="329.3" r="3.7"/><circle cx="324.6" cy="330.5" r="3.6"/><circle cx="324.2" cy="325.2" r="3.6"/><circle cx="322.3" cy="326.4" r="3.7"/><circle cx="323" cy="318" r="3.4"/><circle cx="322" cy="320.7" r="3.7"/></g>
<g fill="#7aaee6" opacity="0.4"><circle cx="37.3" cy="330.8" r="4"/><circle cx="35.7" cy="331" r="3.4"/><circle cx="40.1" cy="328.4" r="3.8"/><circle cx="40.1" cy="327.3" r="4"/><circle cx="43.4" cy="331.4" r="3.8"/><circle cx="43.4" cy="331.1" r="3.9"/></g>
<g fill="#7aaee6" opacity="0.4"><circle cx="300.7" cy="334.1" r="4"/><circle cx="300.5" cy="335.5" r="3.3"/><circle cx="303.5" cy="341.1" r="3.9"/><circle cx="302" cy="340.9" r="3.6"/><circle cx="296.8" cy="344" r="3.8"/><circle cx="296.6" cy="344.4" r="3.3"/></g>
<g fill="#7aaee6" opacity="0.4"><circle cx="401.5" cy="336.4" r="3.8"/><circle cx="402.3" cy="338.6" r="3.4"/><circle cx="410.2" cy="338" r="3.9"/><circle cx="410.7" cy="337.7" r="3.5"/><circle cx="411.4" cy="342" r="3.9"/><circle cx="409.6" cy="343.1" r="3.6"/><circle cx="410.2" cy="344.1" r="3.5"/></g>
<g fill="#7aaee6" opacity="0.4"><circle cx="395.5" cy="324.1" r="3.3"/><circle cx="395.9" cy="323.5" r="3.9"/><circle cx="396.1" cy="319.1" r="3.8"/><circle cx="397.3" cy="319.4" r="3.9"/><circle cx="397.5" cy="320.4" r="3.7"/><circle cx="390.8" cy="317.2" r="3.7"/><circle cx="392" cy="316.2" r="3.7"/></g>
<g fill="#7aaee6" opacity="0.4"><circle cx="698.5" cy="353.4" r="3.9"/><circle cx="700.5" cy="355.6" r="3.2"/><circle cx="701.8" cy="359.2" r="3.5"/><circle cx="701.2" cy="359.3" r="3.7"/><circle cx="701.7" cy="361.2" r="3.6"/><circle cx="699.5" cy="362" r="3.8"/><circle cx="698.5" cy="365" r="3.9"/><circle cx="698.2" cy="364.2" r="4"/></g>
<g fill="#7aaee6" opacity="0.4"><circle cx="663.3" cy="364.4" r="3.7"/><circle cx="662" cy="366.9" r="3.9"/><circle cx="661.6" cy="364.4" r="3.9"/><circle cx="658.7" cy="371.1" r="3.9"/><circle cx="658.5" cy="370.1" r="3.2"/><circle cx="658.8" cy="370" r="3.6"/><circle cx="658.1" cy="376.9" r="3.8"/><circle cx="658.9" cy="376.3" r="4"/></g>
<g clip-path="url(#c20)"><g transform="matrix(1 0 0 -0.6 0 563.8)"><ellipse cx="181" cy="314" rx="65" ry="32.5" fill="#4f9cc8" opacity="0.6"/><g opacity="0.6"><path d="M210.7 318.9L212.5 318.8M201.2 297.5L204.5 284.2M208.5 286.9L212.9 269.1M120.5 322L112.6 327.3M129.6 321.5L121.1 324.3M239.7 306.4L253.5 303.2M234.1 325.6L243 331.8M172.7 298.6L172.7 290.7M127.9 302.6L114.8 298.4M171.4 283.7L171.3 263.7M198 345.2L200.4 355.8M236.2 298.2L245.3 286.5M207.4 343.1L211 353.9M154.2 300.9L148.2 292.4M150.6 285.3L143.3 263.1M213.6 335.4L219.4 343.6M143.6 288.7L140.5 269M216.7 297L220.9 282.5M201.1 288L207.6 275.8M198.9 296.4L203.4 290.3M202 339.7L203.6 351M149.4 340.9L144.1 352M121.6 318.4L110.4 320.2M178.6 281.6L179.9 262.8M194.8 316.7L195.8 316.1M238.3 307.7L248 302M196.2 345.5L195.7 358M137.4 314.4L132.2 317.1M158.3 303.9L157.4 296M230.8 294.8L241.8 284.3M154.8 340.4L153.2 350.3M142.8 338.2L135.9 348M170.7 345L171.9 354M143.7 329L141.9 334.8M151.8 338.8L150.9 350.4M233.7 321.5L243.1 325.2M149.3 313.8L142 313.4M195.8 285.5L200.1 264.2M133.3 291.9L124.6 274.1M170.7 343.8L169.6 355.2M239.3 325.8L247.4 333.8M188.1 282.2L187.7 264.4M190.7 338.2L190.2 346.6M183.8 292.1L184.8 279.3M207.8 302.3L210 296.1M146.5 310.5L143.8 310.6M217.9 335.8L219.7 346.2M153.1 339.3L150 348.3M205.4 312L205.2 308.9M159.8 337.5L158.8 347.8M123.6 322.8L113.5 328M140.7 310L135.8 309M142.9 289.1L135 272.8M181.6 285.8L180 267.7M134.5 295.5L128.9 280.5M216.8 341.1L218.8 351.3M124 315.5L111.4 318.1M124.4 308.9L116.5 304M185.1 346.4L187.2 358M209 310.1L213.3 307.7M121.6 304.1L105.4 297M220.1 288.7L226.9 268.2M227.3 297.8L234.1 286.6M186.7 334.2L187 340.1M162.8 307.7L163.4 303.3M168.4 285.9L171 265.3M162.1 338.7L162.7 347.1M163.3 341.6L160.3 353.1M235.2 300.8L247.3 293.4M139.3 331.5L132.9 340.4M162.5 345.1L160.3 356.5M133.7 295.1L127.6 279.6M138.3 298.4L132.2 287.8M118.6 316.2L106.1 315.9M121.7 302.6L110.2 288.7M191.3 340.4L191.4 351.5M218.5 293L225.4 276.3M189.8 345.4L191.2 356.5M226.4 328.9L231.3 336.3M131.8 293.1L119.3 275.3M133 302L125.7 291.4M231.9 333.9L240.2 344.8M186 338.1L187 346.2M163.4 290.9L158.8 278.8M240.5 319.4L250.9 322.4M183.7 343.1L184.3 353.8M209.7 337.6L212.5 346.7M148 336.4L143.8 344.5M225.4 294.5L231.6 273.8M227.1 297.6L233.3 290.1M228.9 326.3L233.3 330.3M183.7 341.8L186.4 350.6M170.2 335.5L167.3 341.8M220.9 294.9L230.3 280.5M234.6 314.7L243.8 312.4M238.1 322.9L249.7 327.6M205.1 286.3L210.5 269.7M159 330.4L156.3 336.3M136.3 335.3L132.5 345.9M179.6 318.7L181.1 322.5M182.2 287.3L182.5 271.7M193.7 317.3L194.4 315.5M165.7 319.3L161.1 321M176.5 283.5L174.6 261.8M172.4 344.2L171.3 353.5M201.8 326.9L201.2 332.6M148.6 307.6L141.1 303.5M211.4 287.5L217 275.2M167.1 343.2L166.9 353.7M211.2 285.4L216.4 267.8M210.4 299.5L219.4 289.5M170.9 327.7L170.4 332.1M181.3 300.4L183 291.6M212.6 314.5L216.5 313.1M124.6 329.9L115.8 341.3M153.3 309.9L147.8 305.5M219.6 339.5L222.3 352.1M169 315.3L165.4 312.7M156.1 329.5L155.7 335.5M142.8 293.6L134.8 280.3M124.8 306.5L114.1 297.3M220.2 339.2L226.2 350.6M147 295.5L135.9 281.5M159 292.2L154.8 281.9M217.2 287L223.9 268M172 340.1L168.8 349.7M205.2 326.3L209.8 333.2M135.8 311.2L131 309.2M148.4 301L140.8 295.3M223.4 333.9L227.9 344.9M142.9 313.9L139.8 311M201.4 341.1L203.7 350M225.2 337.8L229.2 347.4M146.5 333.3L140.3 339.9M199.5 289.9L206.4 278.6M154.6 333.5L153.3 339.3M194.4 345.5L196.3 355.2M173.1 328.6L170.4 335.7M130.4 334.4L124.4 345.1M150.1 333.5L144.4 340.5M158.5 314.1L155.6 314.9M176 339L177 346M181.1 312.8L178.6 313.4M141.4 301.8L138.2 294.2M213.5 309.3L219.9 306.3M163.7 289.6L163 278.2M243.5 311.8L256.1 310.2M238.5 303L252.6 294.7M131.9 309.8L125.7 306.8M227.7 334L235.4 342.2M228.9 315.6L237 313.8M155.1 285L147.8 260.6M177.9 334.1L177.5 341.9M124.8 325.7L115.5 330.3M160.9 290.4L161.5 271.2M217.5 325.9L221.5 331.7M221.7 336.7L225.7 345M221.3 335.9L225.5 345.7M177.4 281.6L176.8 263.1M180.5 294.2L177.8 286.1M234.1 327.7L244.8 335.8M166.6 345.7L164.4 356.1M190.4 282.2L193.7 260.2M161.8 306.1L160.3 299.9M123.2 299.5L110.2 288M165.3 318.7L166.2 322.2M230.3 304.3L239.4 296.1M121.7 307.7L111.3 303.7M201.3 308.1L204.6 302.9M237.7 298.3L249.1 280.5M160.4 290.1L156.8 275M199.5 340.1L199.1 348.8M153.8 327.5L150.3 335M137.1 336.2L130.6 345.1M227.2 336.7L231.1 347.9M193.7 342.7L195.2 353.6M135.8 306.2L126.7 303.1M197.7 340.8L198.8 352.5M243.2 307.9L257.6 302M217.8 322.1L220.9 324.3M132.2 333.7L126.3 344.1M137 337.7L132.7 346.5M235.6 304.2L245 290.7M192.8 308.4L194.6 306.4M243.7 305.5L262 291.4M231.8 320.6L240.6 322.2M124.4 330L115 338.9M218.7 332.4L220.1 339.6M228.3 336.1L231.2 347M224 295.1L232.1 279.6M225.7 336.7L230.6 349M240 307.1L253.3 299.5M145.6 324L143.7 328.9M204.7 328.8L208.9 332.1M228 317.3L232.4 321M182.3 304.1L181.4 300M138.3 301.3L133.8 294.8M236 296.7L249.7 284.4M143.1 337.2L136 345.6M144.6 340.8L142.7 353.6M207 286.6L211.4 265.7M168.7 286.5L166.8 270.5M156.7 291.3L148.3 275.5M127 331.7L116.7 341.9M240.3 324.9L250 334M164.8 305.5L160.8 304.4M180.6 281.7L178.6 259.3M215.4 317.2L218.5 319M182 324.3L180.3 326.5M146.2 339L141.9 350M244.6 320.5L256 324.7M152 340.1L151.1 351.2M136.4 297.8L125.3 288.7M120.9 324L109 332.1M227.9 320.6L233.7 323.6M235 297.1L248.6 280.9M149.1 311.8L147.1 312.3M219.4 291.5L225.6 274.1M126 322.1L114.2 325.8M161.8 327.7L157.4 329.8M172.8 281.9L172.9 262.1M221.8 291.7L230.1 279.8M217.4 292.5L220 274.3M197.9 339.1L199.5 349.2M132.8 313.5L126.3 312.2M190.5 305.1L191.5 298.9M160 340.4L155.3 350.8M178.9 287L180.6 270.5M137.4 289.9L127.8 270.8M123.1 328.8L112.5 335.6M229.8 321L235.3 323.1M178.7 337.5L178.2 343.3M223.9 338.4L227.8 350M117 314.6L102.3 318.7M201.3 302.8L201.8 297.5M235.2 330.6L240.3 339.8M129.7 295.8L117 283.7M223.9 297.6L231.4 285.5M241.1 321.9L252.5 326.7M183.1 307.4L184.8 305.5M210.1 305.5L216 299.8M224.8 306.8L229.8 303.9M197 307.9L200.5 301.3M187.8 298.1L185.1 285.4M215.1 341L217.7 354.2M230.2 300.2L236.4 291.9M146.9 338.3L145.7 347.7M133.4 321.2L127.3 326.8M230.1 294.8L237.9 276.6M155 314.1L153.3 314.9M210 285.6L217.9 267.6M229.4 313.4L236 312.1M154 336.6L152 347M161.4 283.8L157.2 267.3M132.2 318.4L127.5 320M124.8 306.6L112 302.2M171 342.7L170.1 351.5M219 330.2L225.2 338.1M243.3 306.1L261.5 300.6M181.8 286.1L183.1 268.9M206.7 335.1L208.5 342.5M191 341.8L193.8 352.6M145.3 340.6L143.1 349.9M163 296.7L156.1 284.5M140.4 330.1L136.9 338.4M170.9 308.9L172 304.9M129.6 301.8L117.9 290.3M179.9 307.3L177.8 306.3M175 282.7L172.7 263.7M244.4 317.6L255.2 320.6M136 310.2L132.4 309.1M170.1 326.4L167.1 333.3M149.4 287.2L147 273M139.1 300.1L129.7 289.2M210.5 342.6L212 352.1M174.6 295.6L171.1 284.4M220.2 293.8L226.6 275.8M226 291.4L234.3 272.6M151.4 302.2L146.8 294.4M229.4 330.4L235.3 337.1M126.5 300.1L117.8 287.2M119.1 320.8L108.2 327.3M232.3 294.2L239 273.5M198.7 342.5L198.9 352.9M118.3 320.6L108.5 324.8M216.8 287.6L227.3 270M174.4 284.9L175.9 263.9M192.7 311.9L193.1 312.3M145.5 309.2L143.3 303.8M224.4 294.9L232.3 283.5M195.3 282.6L198.5 265.4M125 312.9L115.2 313.5M187.5 343.7L189.2 353.8M231.3 302.8L239.1 294.9M132 326.7L124 332.7M174.6 284.9L170.3 265.5M198.4 283.4L198.3 265.2M146 292.6L139.2 283.6M205.9 338L206.8 344.5M218.5 320.5L223.4 323.7M200.9 335.2L202.9 342.3M227.4 291.3L238.4 275.8M233.8 316.3L243.2 317.7M155.4 338.8L151.7 347.2M160.8 318.8L157.4 321M172.8 281.9L172.1 262.7M234.2 296L245.7 280.8M212.2 285.7L218.5 263.6M188.3 340.4L188.6 350M228.3 333.5L235.7 340.6M179.4 338.5L177.5 344.6M224.3 332.2L227.9 340.2M154.7 341.6L153.2 351.4M182.8 331.8L182 340.9M117.4 308.6L101.9 307.2M122.8 304.4L113.6 299.5M125.8 298.6L113.2 286.7M230.2 293.4L240.8 280.1M217.2 318.3L221.4 323.3M152.9 300.7L149.2 291.3M141.8 338.5L138.9 347.2M124.7 324.1L113.2 330.3M244.1 321.4L258.5 329.2M219.4 289L224.2 274M244.2 318.7L256.4 322.9M148.8 305.2L144.7 303.9M188.7 339.9L190.6 348M164.3 341.1L161.1 351.9M159.2 343.6L159.4 356.6M141.4 291.1L134 273.2M240 318.6L251.1 321.8M229 303.7L233.8 296.9M186.8 345L188.5 356.6M149 289.7L141.4 276.8M239.5 322.1L253.5 326.2M240.6 306.5L257.1 299.6M132.7 292.3L124.8 274.5M238.8 324.9L245.1 334.2M139.7 289.3L131.9 273.5M197.8 307.6L201 304.8M203.6 317.1L208.1 319.6M143.1 288L137.5 267.6M172.1 321.5L168.4 322.6M144.9 297.6L139.7 289.9M138.8 294.8L130.2 284.1M224.9 331.7L229.4 337.8M120.2 318.3L110.7 322M199 306.7L199.2 299.6M201.5 343.9L202.2 355.5M184.3 346.4L184.2 357.5M173.6 299.2L171.5 287M222.3 337.3L225.3 348.2M199.1 343L200.5 351.5M193 340L192.1 347.9M145.4 321.8L141.4 323.6M217 294.7L223.9 276.5M193 342.8L194.2 352.5M228.8 332.7L235.6 342.1M237.3 306.2L248.1 300.5M210.4 309.6L216.3 305.2M223.1 292.9L229.7 279.1M231.1 293.3L241.1 277.4M235.2 324.2L242.2 333.2M189.5 295L188.6 286.1M190.4 296.6L193.5 285.7M142.4 302.6L133.1 291.7M228.6 320.5L235.7 321.7M209.9 333.6L212.4 341.5M236.7 300.2L244.7 290.2M227.4 299.5L234.1 288.4M130.1 298.2L119.5 283.7M136 311.2L130.5 313.7M177.9 283L175.5 264.6M229.8 318.2L235.2 322.1M209.5 333.9L212.5 344.1M171.5 327.2L171.2 330.6M146.1 293.7L144.6 284.8M182.6 325.8L180.5 332.1M191.2 288.3L192.3 275.5M139.3 323.9L136 327.2M158.9 344.2L156.7 356.4M176.3 286.6L180.7 270.3M206.9 339.2L207.6 348.7M179.3 340.3L180.3 350.1M191.8 327.1L189.9 332.9M184.8 336.9L184.5 343.3M210.1 340.5L211.1 352.3M238.6 315.9L246 318.1M180.1 309.4L183.5 304.5M118.5 305.4L102.6 298.3M195.4 331.2L196 339M191.8 286.4L192 268.1M163.3 286.5L162.5 269M223.2 338.1L229.5 347.9M119.5 320.7L109.8 325.8M145.9 338.5L139.2 348.6M155.1 295L151.7 287.4M148 329.7L145.1 336.3M165.9 339.7L166.5 349.2M121.9 317.4L110.5 319M239.9 312.3L248.8 306.9M118.5 305.8L104 299.9M161.3 283.2L158.8 263.1M221 308L227.8 304.6M240.3 321.2L250.2 326.9M228.2 309.4L237.7 308.9M175.1 292.9L176.2 278.9M119.9 309.6L105.2 304.5M232.5 331.1L236.2 339M173.2 346L171.5 355.4M179.7 302L179.1 297.5M223.1 290L226.4 269.4M137 324.5L131 328.4M240.1 301.2L255.7 292M245.9 313.4L261.4 312.3M159.3 335L157.5 341.3M176 285.5L174 265.6M118.4 321.1L107 327.5M135.1 337L128.2 346.4M137.7 329.7L133.6 339.7M185.3 337.8L184.9 347.1M179.4 291.7L181.5 280.5M198.9 344L200.3 353.4M182.3 334L179.4 339.3M235.9 324.1L243.5 330.7M169.8 345.7L168 355.2M127.1 312.2L117.5 313.6M116.7 315.8L102.4 318.9M244.9 312.8L262.3 312.8M242.7 308.1L254.6 304.1M217.7 324L219.9 329.3M180.9 290.6L183.8 273.7M215.9 339L219.2 347.7M236.4 299.2L248.1 285.8M174.2 339.8L173.9 350.6M145 341.1L142.8 353.9M129.5 323.4L121.2 326.6M131.4 317.2L123.5 319.2M133.2 320L127.1 322.2M120.1 318.9L111 323.8M193.1 317.4L193.2 319.2M134.4 325L129.5 328.4M231.4 328L237.2 335.1M184.6 291.1L181.2 274.7M172.2 282.3L166.9 262.4M198.8 310.9L200.2 309.6M137.3 336.4L133.6 347.3M234.2 330.8L242.1 341.5M209.7 285.3L215.9 268.4M186.5 286.5L183.2 268.7M208.3 310.5L212.2 306.9M160.5 320.2L158.2 320.4M185.2 296.5L182.2 289.6M174.1 316L171.3 317.4M232.5 333.3L236.9 344.5M159.8 303.3L156.5 300.9M142.7 339L135.1 347.8M239.8 323.6L249.8 330.1M227.2 309.5L235.6 304.5M143.1 288.1L133.6 266.9M138.9 330.7L136.6 337.6M205 305.3L205.5 300.8M191 335.5L188.8 343.5M215.1 341.3L219.3 353.1M186.1 306.8L186.1 301.3M162.8 330.5L160.3 335.8M233.9 319.9L242.4 324.3M208 313.8L212.8 311.7M154.9 342.3L151.3 353.8M176.3 332.4L173.8 339.2M135.7 336.1L132.7 345.5M137.2 329.9L131.5 336.1M145.2 287.8L134.5 270.1M147.5 288.8L143.1 267.1M207.4 294.2L216.1 282.8M143.1 338.2L139.6 349.4M193.5 320.1L196.1 325.8M148.8 303.7L141.2 298.6M155.9 339L153.9 348.7M186 296.2L189.1 285.2M151.6 296.7L148 288.3M168.7 333.6L167.6 338.5M130.2 295.5L115.8 280.2M208.2 285.7L214.3 268.6M165.4 316.6L164.7 321.2M159 286L151.3 267.6M240.2 323.8L252.2 330.5M147.3 339.1L141.5 348.1M169.5 302L167.1 294.1M159.9 311.6L158.5 310.1M181.3 344.4L180 353.6M128 306.2L119.3 299.9M213.2 286.5L218.7 270.1M183.1 294.6L182.7 280M175.3 322.4L176.6 325.5M140.9 299L136.6 283.8M128.6 306.3L114.5 300.9M238.9 322L249.6 326M202.3 336L205.4 344.8M205.1 315.5L207 315.8M182.9 296.3L180.4 287M212.3 342.4L213 354.2M215.7 286.5L225.1 267.7M234.1 315.7L242.2 315M163.9 340.1L163.4 350.1M230.3 334.6L239.5 343.7M118.5 311L105.8 308.2M242.3 323.6L254.5 328.5M197 309.8L196.9 305.7M124.4 318.4L115.2 322.1M235.3 317.4L244.9 319.3M127.6 307.9L119.4 306.2M193.8 319L197 320.7M217.1 340.9L218.7 350.4M163.9 345.3L160.1 357.2M208.6 294.7L211 282.2M210 302.7L214.1 298.3M236.5 307.7L248.2 306.1M155.5 343.9L151 355.6M234.9 303.8L241.5 299.1M200 295.4L202.9 282M161.9 291.5L159.5 271.9M229.5 319L237.1 325M189.7 294.4L193.4 286M214.5 305.6L220.2 305M185.1 315.1L184.4 314.2M220.6 339L222.8 348.5M219.5 326.5L225.8 333M155.7 336.6L153.7 344.4M233.2 331.1L242.7 340.3M212.1 289.9L220.7 273.2M161.9 289.6L159 273.6M239.6 321.8L251.5 325.7M223.9 303.1L228 291.8M189.3 339.4L188.1 349.9M185 338.1L185.2 346.8M124.2 321.6L114.6 326.5M222.5 294.6L234.4 278.3M167.2 283.8L167.4 261.9M151.4 285.2L141.3 264.7M169 287.7L171.4 275.8M185.4 314.9L185.4 312.3M234.2 320.7L243.2 322.2M227 316L237.1 313.5M121.9 319.7L112.1 320.7M223.8 299.8L230 285.6M213.4 332.4L215.9 338.3M183.6 334.3L184.8 342.8M215.6 323.1L220.7 327.5M158.2 329.3L156.6 334.5M192.7 302.5L197.2 298.6M211.3 342.2L216.6 354M219 307.2L225.6 305.1M205.6 284.3L211.6 264.1M238.7 313.3L249.2 313M144 287.5L135.8 269.7M177.7 338.5L177.2 347.1M153.7 319L152.6 322.2M242.8 313.3L253.8 311.8M235.1 331.8L245.3 338.7M126.6 299.5L114.1 285M235.3 297.3L245.8 276.8M199.9 327.4L203.7 333.3M155.5 308.6L154.6 303.8M237.1 326.3L244.2 332.4M174.3 294.5L176.6 280M140.6 288.5L135.1 269.1M181.2 291.6L183 276.4M159.3 344.6L154.5 357.4M120.7 325.6L109 332.9M215.6 324.9L217.1 330.4M172.6 301.9L172.4 298.3M145.9 331.3L143 337.5M170 313.6L169.7 312.8M120.7 317.1L109.6 321.2M234.2 330.6L244.2 338.1M210.8 340.6L212.3 352.6M126.9 311.4L117 306.5M166.1 283.2L163.4 261.1M186.8 283L190.6 261.8M147.6 288.8L144.4 273.4M126 330.9L120.4 339.7M117.6 309.1L103.3 303M213.6 298.5L219.1 290.3M127.6 308.5L119.6 307.4M238.4 328.9L247.5 337.5M212.4 318.8L215.9 321M128.7 294.7L115.2 276.5M138.7 307.3L130.5 306.5M118.2 319L101 323.1M177.3 281.7L177.6 259.4M163.1 341.2L158 350.8M240.3 305L254.8 296.5M158.2 283.6L157.1 260.6M172.4 344.9L170.4 353.9M224.9 333.3L230.8 342.5M196.9 286.5L199.1 268.1M122.7 299.9L111.6 287.2M215.3 296.2L220.2 286.6M238.9 321.1L245.6 326.5M199.7 287.5L201.4 270M188.1 318.7L190.7 322.1M211 307.4L214.1 308.1M136.5 303.4L127.2 292.6M243.7 317.7L255.8 318.7M123.6 298.8L106.7 286.6M144.6 326.7L142.1 332.7M122.1 316.2L109.5 317.4M229.7 293.2L243.2 278.1M127.1 296.7L113.3 286.9M184.5 303.7L185.6 299M120.9 307.7L110.5 302.6M152.5 340.7L150.6 351.9M242.1 319.8L252.1 325.2M198.9 345.2L200.1 356M218.6 295.7L230 282.7M192.6 345.7L195.6 357.8M158.2 335.5L155.8 342.7M211.8 286L213.8 261.9M143.8 294.3L135.2 281.1M152.2 324.9L148.9 327.3M236.4 297.9L249.9 287.4M120.6 302.1L105.3 291.2M218.4 312.5L226.6 308.8M156.9 343.5L155.9 356.8M188.7 307.4L187.4 305.5M219 291.5L225.1 271.1M173.1 340.6L171.8 349.8M166.8 325.1L162.9 326.6M197.8 282.6L203.2 264.1" stroke="#3a86b0" stroke-width="0.9" fill="none"/><path d="M131.6 321.9L122.8 325.6M198.6 323.4L207 326.7M245.1 308.6L260.8 302.9M244.7 315.4L260 318.7M137.2 290L123.5 269.5M179.2 324.4L179.3 332.6M121.1 312.3L104.5 310.5M230.7 298.1L237.4 280.8M165.3 295.5L161.8 277.9M123.8 311.6L108 307M179.3 326.1L179.3 334M209 341.3L213.9 353.9M121.9 301L109.1 289.6M236.4 308.2L250 304.3M149.6 327.9L141.6 331.9M231.7 332.2L239.1 341.9M207.1 316.2L217.8 317.6M183.7 346L185 359.4M117.9 311.5L100.4 311.5M179.4 293L181.2 281.4M239.3 328.4L250.4 338.5M225.2 312.9L233.5 313.6M238.5 321.7L247 327.3M196.2 300.5L195.5 290.5M135.1 314L125.6 315.9M156.4 308.5L152.3 299.6M131.3 327.2L126 333.4M223.1 310.7L231.1 309.6M227 299.1L233.5 287.4M167.9 345.8L164.7 358.7M117.4 315.6L101.1 316.3M147 286.6L139.4 264.6M140.2 307.9L131.7 303.3M223 289.5L229.7 273M156.7 341.9L152.9 352.6M235 325.7L241.8 334.3M206 343.6L209.6 355.2M211.4 295.6L216.9 280.5M179.5 343.5L177.7 356.3M194.1 304.9L200.6 297.3M218.7 338L223.4 348.6M127.1 296.1L115.2 282M137.5 297.4L131.8 286.4M220.7 324.6L225.8 332.3M138.6 320.5L129.3 327.2M172.3 341.7L172.2 355.3M146.5 340.7L143.4 352.8M181.1 340.7L179.3 352.5M142.4 289.9L131.8 271.2M155.9 343.8L154.9 354.5M129.5 329.5L121 337.9M129.2 294.8L115.8 276.9M242.6 303.7L260.4 293.2M120.7 324.2L107.4 332.8M186.1 329.6L185.8 336.9M197.8 312.2L208.4 311.7M172.5 323.3L170.9 330.3M240.1 327.4L246.9 336.4M215.6 292.3L219.9 271M189.1 290.6L192.3 273.7M136.3 325L131.9 330.8M127.8 296.5L114.6 278.4M197.8 321L202.6 326.1M142 315L131.5 313.3M229.3 298.1L238 282.5M141.6 320.2L134 322.3M187.5 346L188.3 357.3M158.9 293.6L151 276.2M132.9 311.5L125.3 313.6M125 297.5L110 280.9M196.1 312.5L206.3 308.7M200.1 341.7L201.5 353.4M189.2 344.3L191.9 354.5M135.5 301.9L128.8 293M147.7 332.7L141.6 343.3M150.4 290L144.5 275.2M221.3 291.9L227 271.5M223.5 309.8L233.7 308.2M150.5 322.3L149.5 329.9M134.3 294.1L122.4 276.8M136 302L125.2 287.9M157.3 288.9L153.5 273M182 308.2L180.2 301.5M162.1 338.6L162.4 350.4M237.5 318.2L249.3 321.4M128.7 296.1L120.9 277.3M157.8 321.8L153.9 328M192.7 344.5L193.4 354.4M193.3 284.6L190.4 262.4M134.3 291.6L129.3 273.6M162.5 344.9L161 358.7M195.8 293.1L194.8 279.6M204.9 287.2L213.4 270.9M243 313.6L255.2 316.2M213.5 335L220 344.2M168 320.8L166.6 328.6M236.9 314.7L248.9 316.8M190.1 344.1L190.4 357.5M127.9 327.3L121.4 338.8M146.2 334.2L142.2 344.6M163 308.2L157.1 301.6M152.7 317L142.7 318.3M197.2 283.5L202.1 262.4M242.8 320.9L252.3 328.9M119.4 306.1L101.2 296.5M222.7 326.7L230.6 335.5M189.2 334.8L188.4 345.9M129.1 294.7L113.9 278.9M140.8 309.8L131.2 305.7M194.8 337L198.7 347.4M139.3 318.3L131.5 318.7M119.6 304.7L101.6 295.6M197.5 331.8L199.6 341.1M180.3 314L173.7 311.9M143.4 301.4L138.9 290M211.7 330.8L214.3 338.4M118.1 315.6L104.3 321.3M184.6 283.8L180.3 265.3M125 300L111.5 285.8M227.2 318.7L233.4 324.5M196.6 282.6L196.5 263.8M155.3 320.2L149.8 325.8M163.9 285.7L159.7 270.1M214.4 297.4L221.8 287.2M116.4 316.4L97.9 318.6M137 315L126.8 313.6M159 332.4L156 342.4M186.3 315.5L194.8 317.2M169.6 334.4L168.2 344.1M135.2 321.8L123.7 324.1M118.9 321.9L105.9 328.9M189.9 334.8L188.3 342.7M139.6 308.6L130.3 303.1M145.8 340.9L139.4 350.7M226.8 301L240.1 287.2M210.8 287.5L217.5 266M181.3 337.2L180.9 348.4M125.6 326L116.5 335.2M205.5 341.8L208.7 353.5M205.3 339.6L209.1 353.1M214.8 299L220.7 286.7M213.3 286.9L222.6 267.1M193.5 332L192.2 340.1M181.5 307.9L182.1 303.1M129.3 332.8L123.4 345M146.1 318.9L136.5 319.5M155 290.6L151.2 273.8M166.3 343L166.3 354.9M148.3 286.1L147.1 266.9M194.1 333.4L193.7 340.4M205.4 343.4L205.3 354.4M123.7 328.5L115 337.3M131 333.5L125.2 345.1M160 326.1L159.3 333.8M221.2 300L232 286.7M184.6 326.3L187.3 332.3M191.9 343.9L192.4 355.9M122.9 309.1L110.8 302.2M199 314.4L206.8 313M147.6 306.3L138.8 300.4M154.1 343.5L151.3 356.9M151 297.3L150 282.9M186.7 346.1L185.8 356.7M226.5 336.9L229.4 346.6M165.9 316.2L161 321.3M150.3 328.1L145.6 336.6M121.1 319L105.2 321.9M175.7 288L172 274.2M132.9 298.5L125.8 287.3M173.4 309.5L168.3 301M218.4 299.5L223.2 288.6M168.9 345.9L166.8 357.3M228.2 294.9L236.2 274.9M182.9 345.7L181.8 357.3M157.1 291.4L151.4 273.8M139 289.2L130.5 270M219.8 298.8L226.3 291.1M150 342.2L145.3 352.4M168.2 294.6L167 277.3M208.8 308.1L214.1 300M193.6 319.6L195.1 325.4M116.4 316.4L101.5 319.8M119.9 318.7L103 323.6M241.2 307.6L256.8 303.5M124.2 328.2L115.2 339.1M203.6 343L206.9 355.1M174.9 344.9L171.8 354.4M154.9 312.1L147.3 311.7M123.8 329.3L111.1 338.7M155.5 343.2L155.3 356.4M173.3 285.2L173.3 266.2M173.8 286.5L175.6 272.7M229 335.5L236.9 345.5M200.4 333.3L201.9 343.7M160.2 283.4L156.5 261.8M126.6 297.3L116.2 283.1M167.2 334.2L165.9 343.2M117.9 307.5L99 299M213.7 339L219.3 351.3M203.1 316.8L213 319.5M234 312.7L242.6 309.8M188 283.2L190.2 266.4M140.7 313.9L129.9 311.4M185.2 295.6L189.1 281.4M116.1 315.4L102.6 317M230.1 307.2L242.5 303.2M224.3 302.3L236.1 287.5M172 331.2L171.1 341.9M174.4 339.7L169.9 350.3M236.6 324.2L245.5 329.2M169.8 282.5L172.3 256.9M239.3 315.3L249.8 316.7M147.9 309L140.1 307.5M162.9 334.5L163.6 343.3M119.6 307.2L105.2 302.8M152.5 289.4L144.9 270.5M186.6 313L195.9 313M220.8 318.4L229.3 319.5M170.1 346L168.6 359.6M226.3 330L234.9 338.6M188.1 299.8L193.2 290.7M129.6 333L121.4 343.7M229.8 308.6L236.7 304.7M161.3 334.3L156.2 343.5M149.6 325.7L145.4 335.2M210.4 307.6L219.7 303.7M130.6 333.6L122.5 345.1M149.7 324.6L143.6 331.1M146.4 317.3L140 322.5M177.6 332.4L173.1 339.6M141 309.9L132.2 308.4M204.1 285.2L209.3 261.1M179.6 326.2L177.3 333.6M213.8 335.7L216.8 347.2M209.7 330.2L212 341.3M240.3 327.3L250.2 335.6M230.2 327.4L236.3 335.5M219.7 294.9L224.9 285.7M189.1 343.4L190.6 353.6M148.6 342.2L147.6 354.1M239.5 304.3L257.1 294.1M148.3 336.5L146.6 346M116.8 317.3L102.2 322.4M192.9 343.5L193.2 355.1M191.3 284.8L190.8 267.4M182.9 346.3L184.4 357.8M169.4 345.1L169.6 357M135.4 297.6L124 283.3M177.7 307.5L177.1 298.2M148 289.1L136.7 267.7M184.4 307.5L182.6 299.4M134.3 294.9L125.8 283.1M181.5 288.2L185 273.1M199.8 345.1L201.3 358.8M124.5 300.2L111.8 280.7M139.5 319.3L132.9 325M216.4 296.9L226.5 284.3M218 301.9L225.3 296.8M188.9 346.3L192.7 358M229.5 330.2L238.5 337.7M145.2 318.6L138.7 322.9M187.4 283.7L192 266.6M200.1 331.5L201.2 338.2M214.5 337.2L220 349.4M235.4 312.8L245.6 315M243.4 319.6L254.4 326.3M186.9 289.1L183.9 272.8M144.1 287.4L139.4 265.4M203 321.6L212.5 322.7M129.1 303.1L119 288.1M131.8 324.8L122.9 330.1M214.6 286.7L217.8 262.2M204.5 340.2L206.3 352.2M205.9 335.5L210.7 343.8M218.2 301.3L223.1 294.3M215.4 299.7L217.8 287.9M181.4 295.1L182.5 276.6M138 296L132.2 283.1M132 314.7L120.1 317.1M155.1 327L148.9 334M128.2 332.8L119.6 340.9M156.8 284L153.8 265.5M120.9 320.2L107.2 325.2M181.2 334.9L178.5 343M153.3 290.2L152.9 270.7M206.1 339.2L206.7 348.8M234.9 315.2L246.2 317.3M237.7 326.9L244.6 337.6M204.9 343.6L207.9 354.6M237.5 301.7L249.1 294M167 323.1L161.1 327.7M207.3 286.8L212.2 272.3M133.4 323.8L128.3 330.1M219.1 307.7L225.6 299.4M206.5 305.9L211.8 297.2M150.8 342.6L148.2 354.2M159.9 295.3L155.9 280.2M200.1 311.3L209.3 310.2M189.7 325.3L192.2 331.6M227.7 304.8L237.3 299.3M206.9 290.3L212.1 279.2M165.8 338.7L165.6 350.4M127.2 297.2L116.3 278M234.3 300.8L243.6 290.5M177.9 345.7L175.3 358.8M198.2 289.6L201.8 277.9M139.8 292.7L132.4 278.8M155.7 319.7L151.8 326M116.6 311.4L98.7 310.8M182 311.9L185.9 309.8M147.1 341.3L144.8 354.1M230.8 325.3L236.6 330.2M226 313.1L234 311.4M189 282.1L194.1 262M222.7 327.3L227.5 334.7M180.9 310.8L181.1 305.5M177 346.3L176.6 357.2M163.7 287.9L158.4 269.8M152.6 289.5L150.6 273.2M239.8 306.9L253.1 299.5M211.8 341.4L212.8 352.5M210.7 290L213.3 271M222.8 315.2L232.9 315M236.4 297.6L247 283.1M203.2 289.8L202.8 272.8M227.8 329.3L236.9 337.5M135.6 292.6L127.9 274.8M226.6 318L239.3 319M133.2 298.9L124.7 280.8M241.8 305.4L258.3 296.2M171.3 345.9L169.1 356.2M208.9 341.6L215 354M161.7 342L160.2 354.8M219.6 308.9L226.6 301.4M119.4 303.8L103.8 296.1M197.9 282.8L204.9 258.5M185.7 343.7L187.1 356M198.7 309.4L205.3 300.6M130.4 296L122.1 279.2M224.7 305.9L232.8 299.4M153 316.5L145.1 317.7M124.4 315.2L115.8 314.3M162.3 297.5L158.2 289.6M156.1 286.6L152.4 266.4M165.1 284.9L161.5 261.4M167.5 307.2L163.1 298.2M138.6 296L134.3 280.6M214.5 338.1L215.8 350.2M214.2 286.4L223.1 268.3M141.9 317.4L134 318.5M152.2 297.1L143.8 289.1M159 328.6L158.5 335.6M128.8 294.9L116.7 274.7M227.9 326.2L233.8 330.7M121.3 326.8L109.9 335.7M185.4 338.3L188.9 346M127.1 329.2L117.5 337.4M188.7 284.7L190.3 265.1M230.1 296.4L244 278.4M118.8 307.4L102.9 298.8M213.1 342.2L215.7 353M219.8 333.5L226.7 343.6M140.9 304.7L133.1 298.3M128.4 302.9L119 291.7M120.8 326.2L107.2 335.3M120.7 325.9L112.4 333.1M237.3 297.7L250.3 286.6M149.1 286.6L144.2 268.6M223.5 300.1L231.8 289.5M220.9 320.9L227.6 324.5M188.7 283.6L193.1 264.1M141 302.6L131.6 296.4M157 290.6L152.5 269.1M211.7 299.5L219.9 287.5M176.8 341.2L174.8 350.3M198.3 283L199.4 264.6M185.8 344.7L185.4 354.4M154.3 284.4L147.5 266.8M121.6 305.7L107.6 296.7M216.6 337.4L218.1 349.9M177.5 339.9L174.1 351.7M166.7 284.2L169 268.5M167.1 285.3L165.3 264.2M227.8 336.2L233.2 348M230.6 322.5L238.3 326M128.8 332.7L122.8 342.8M187.8 286.6L189.3 267.9M141.1 335.6L135.9 344.7M234.9 332.1L242.4 343.2M215.1 341.1L221.5 353.6M209.9 287.7L215.6 264.9M130.9 333.7L124.1 345.2M158.2 336.5L155.2 345.4M120.8 322.1L107.2 329.4M161 320.6L152.1 324.9M233.2 330.1L239.9 341.9M177 314.4L166.1 314.8M161.5 286L158.6 270.8M155.8 339.8L151.7 351.6M160.3 286.5L152.5 267.4M242 311.2L255.8 311.5M164.7 336.4L160.4 344M229.2 305L236.4 298.1M155.4 285L152.5 264.3M235.5 308.1L245.7 307.9M149.8 338.3L147.3 348.4M143.5 340.5L136.8 351.5M185.9 282.2L183.2 263.1M235 330.5L241.2 340.1M192.9 345L195.2 356.3M140.6 309.7L129.9 307.6M141.5 295.1L131.3 284.7M142.2 313.7L132 310M123.2 328.9L113.4 338.7M156.9 292.6L156.1 275.6M146.6 337.5L143.1 346.1M148.4 341L145.7 352.8M213.6 287L215.8 264.3M223.4 289.8L232.8 269.5M191.3 317L198.2 323M241.4 306L256.7 300.7M217.6 296.8L224.1 280.8M210.4 305.3L215.5 298M134.3 292.4L126.6 275.3M236.6 299.4L246.2 288M163.4 289.9L159.7 279M218.6 302.2L221.4 290.3M121 326.5L107.8 335.2M223 333.6L228.8 344.4M161.7 315.9L153.3 315.6M162.8 345.1L162 357.4M204.5 288.7L208 271.2M211.7 337.1L215 349.5M163.8 283L158 258.8M198.8 306.4L199.8 297.6M150.7 299.5L142.4 288.7M155 293.5L154 282M120.6 325.7L108.9 333.8M153.7 309.3L144.7 305.6M234.7 332.3L242.7 339.9M119.6 305.3L99.6 296.2M122.5 303.4L107.8 295.9M147.2 333.1L141.1 341.7M135.8 307.6L123.3 305.7M162 330.6L157 339.2M160.4 340.1L158.1 352.5M229 316.4L238.4 314.7M145.4 340L143.4 352.5M150 328.8L145.8 336.3M185 282L189.6 262M212 339.5L217.7 351.8M143 339.8L140.9 352M228.6 336.1L233 347.1M145.7 326.7L140.4 335.9M220.9 336.4L225 348.7M238.8 301.5L256.3 289.4M223 289.2L230.3 266.8M195.6 304.5L203.6 298.7M204.4 288.3L209.7 266M184.6 295.3L181.5 282.6M171.4 337.4L172.3 345.9M139.4 303.1L130.4 297.5M167.5 334.9L167.6 344.5M129.2 294.6L118.2 273.6M120.9 305.5L106.2 294.7M207.6 326.5L213.7 331.7M227.2 298.8L232.9 284.2M238.2 313.7L249.3 312.4M128.7 330.1L120.6 340.8M202.1 294L204.1 278.9M227.8 325.7L235.2 336M199.5 300.6L203.7 288.9M227.2 320.9L235.9 327.8M239.7 300.2L255.9 285.8M178.2 284.1L178.7 258.6M159.1 342L157.6 353.7M211.6 342.7L213.2 356.1M241.8 322.4L251.4 329.5M225 323.2L233.9 331.2M235.4 296.9L247.4 277.7M230.8 296.2L239.3 278.1M191.9 339.2L190.1 350.8M159.7 336.9L157.4 346.8M150.4 285.8L145.5 266M158.2 284.1L150.5 264.3M188.6 287.8L189.9 267.6M127.9 324.3L117.5 332.9M191.8 308.9L200.1 305.4M222.6 293.9L230.5 278.3M152.3 343.1L150.9 354.9M237.6 329.3L243.1 338.3M146.9 330.9L144.9 342.7M170.2 343.7L170.6 356.9M176.9 285.2L173.6 269.1M132.8 326.1L125.3 332.1M204.8 295.6L209.3 284M168.3 329.9L167.5 337.6M172.4 287.1L169.8 269.8M245.1 311.2L259.8 308.2M159.9 285.1L158.1 263.3M166.3 323.6L161.7 332.2M237.6 300.5L254.8 290.1M125.7 300.1L110.1 287.6M151.6 341.4L151.3 353.7M194.8 284.4L197.3 265.8M161.9 286.8L159.2 270.4M203.4 283.5L206.9 260.7M125 330.4L117.8 342.9M207.5 285.3L209.9 267.1M183.9 298.8L185.1 287M186.9 283.4L189.9 264.3M185.5 285.5L182.8 268.6M117.1 318L101.1 320.7M163.6 345.1L162 358.6M169.6 312.6L163.6 312.9M144.7 288.6L134.3 270.7M145.2 306.4L135.9 299.1M227.2 293.6L233.5 273.6M151 342.7L148.1 356.3M130.2 296.6L118.3 278.8" stroke="#3a86b0" stroke-width="0.9" fill="none"/></g></g></g>
<path d="M210.7 318.9L212.5 318.8M201.2 297.5L204.5 284.2M208.5 286.9L212.9 269.1M120.5 322L112.6 327.3M129.6 321.5L121.1 324.3M239.7 306.4L253.5 303.2M234.1 325.6L243 331.8M172.7 298.6L172.7 290.7M127.9 302.6L114.8 298.4M171.4 283.7L171.3 263.7M198 345.2L200.4 355.8M236.2 298.2L245.3 286.5M207.4 343.1L211 353.9M154.2 300.9L148.2 292.4M150.6 285.3L143.3 263.1M213.6 335.4L219.4 343.6M143.6 288.7L140.5 269M216.7 297L220.9 282.5M201.1 288L207.6 275.8M198.9 296.4L203.4 290.3M202 339.7L203.6 351M149.4 340.9L144.1 352M121.6 318.4L110.4 320.2M178.6 281.6L179.9 262.8M194.8 316.7L195.8 316.1M238.3 307.7L248 302M196.2 345.5L195.7 358M137.4 314.4L132.2 317.1M158.3 303.9L157.4 296M230.8 294.8L241.8 284.3M154.8 340.4L153.2 350.3M142.8 338.2L135.9 348M170.7 345L171.9 354M143.7 329L141.9 334.8M151.8 338.8L150.9 350.4M233.7 321.5L243.1 325.2M149.3 313.8L142 313.4M195.8 285.5L200.1 264.2M133.3 291.9L124.6 274.1M170.7 343.8L169.6 355.2M239.3 325.8L247.4 333.8M188.1 282.2L187.7 264.4M190.7 338.2L190.2 346.6M183.8 292.1L184.8 279.3M207.8 302.3L210 296.1M146.5 310.5L143.8 310.6M217.9 335.8L219.7 346.2M153.1 339.3L150 348.3M205.4 312L205.2 308.9M159.8 337.5L158.8 347.8M123.6 322.8L113.5 328M140.7 310L135.8 309M142.9 289.1L135 272.8M181.6 285.8L180 267.7M134.5 295.5L128.9 280.5M216.8 341.1L218.8 351.3M124 315.5L111.4 318.1M124.4 308.9L116.5 304M185.1 346.4L187.2 358M209 310.1L213.3 307.7M121.6 304.1L105.4 297M220.1 288.7L226.9 268.2M227.3 297.8L234.1 286.6M186.7 334.2L187 340.1M162.8 307.7L163.4 303.3M168.4 285.9L171 265.3M162.1 338.7L162.7 347.1M163.3 341.6L160.3 353.1M235.2 300.8L247.3 293.4M139.3 331.5L132.9 340.4M162.5 345.1L160.3 356.5M133.7 295.1L127.6 279.6M138.3 298.4L132.2 287.8M118.6 316.2L106.1 315.9M121.7 302.6L110.2 288.7M191.3 340.4L191.4 351.5M218.5 293L225.4 276.3M189.8 345.4L191.2 356.5M226.4 328.9L231.3 336.3M131.8 293.1L119.3 275.3M133 302L125.7 291.4M231.9 333.9L240.2 344.8M186 338.1L187 346.2M163.4 290.9L158.8 278.8M240.5 319.4L250.9 322.4M183.7 343.1L184.3 353.8M209.7 337.6L212.5 346.7M148 336.4L143.8 344.5M225.4 294.5L231.6 273.8M227.1 297.6L233.3 290.1M228.9 326.3L233.3 330.3M183.7 341.8L186.4 350.6M170.2 335.5L167.3 341.8M220.9 294.9L230.3 280.5M234.6 314.7L243.8 312.4M238.1 322.9L249.7 327.6M205.1 286.3L210.5 269.7M159 330.4L156.3 336.3M136.3 335.3L132.5 345.9M179.6 318.7L181.1 322.5M182.2 287.3L182.5 271.7M193.7 317.3L194.4 315.5M165.7 319.3L161.1 321M176.5 283.5L174.6 261.8M172.4 344.2L171.3 353.5M201.8 326.9L201.2 332.6M148.6 307.6L141.1 303.5M211.4 287.5L217 275.2M167.1 343.2L166.9 353.7M211.2 285.4L216.4 267.8M210.4 299.5L219.4 289.5M170.9 327.7L170.4 332.1M181.3 300.4L183 291.6M212.6 314.5L216.5 313.1M124.6 329.9L115.8 341.3M153.3 309.9L147.8 305.5M219.6 339.5L222.3 352.1M169 315.3L165.4 312.7M156.1 329.5L155.7 335.5M142.8 293.6L134.8 280.3M124.8 306.5L114.1 297.3M220.2 339.2L226.2 350.6M147 295.5L135.9 281.5M159 292.2L154.8 281.9M217.2 287L223.9 268M172 340.1L168.8 349.7M205.2 326.3L209.8 333.2M135.8 311.2L131 309.2M148.4 301L140.8 295.3M223.4 333.9L227.9 344.9M142.9 313.9L139.8 311M201.4 341.1L203.7 350M225.2 337.8L229.2 347.4M146.5 333.3L140.3 339.9M199.5 289.9L206.4 278.6M154.6 333.5L153.3 339.3M194.4 345.5L196.3 355.2M173.1 328.6L170.4 335.7M130.4 334.4L124.4 345.1M150.1 333.5L144.4 340.5M158.5 314.1L155.6 314.9M176 339L177 346M181.1 312.8L178.6 313.4M141.4 301.8L138.2 294.2M213.5 309.3L219.9 306.3M163.7 289.6L163 278.2M243.5 311.8L256.1 310.2M238.5 303L252.6 294.7M131.9 309.8L125.7 306.8M227.7 334L235.4 342.2M228.9 315.6L237 313.8M155.1 285L147.8 260.6M177.9 334.1L177.5 341.9M124.8 325.7L115.5 330.3M160.9 290.4L161.5 271.2M217.5 325.9L221.5 331.7M221.7 336.7L225.7 345M221.3 335.9L225.5 345.7M177.4 281.6L176.8 263.1M180.5 294.2L177.8 286.1M234.1 327.7L244.8 335.8M166.6 345.7L164.4 356.1M190.4 282.2L193.7 260.2M161.8 306.1L160.3 299.9M123.2 299.5L110.2 288M165.3 318.7L166.2 322.2M230.3 304.3L239.4 296.1M121.7 307.7L111.3 303.7M201.3 308.1L204.6 302.9M237.7 298.3L249.1 280.5M160.4 290.1L156.8 275M199.5 340.1L199.1 348.8M153.8 327.5L150.3 335M137.1 336.2L130.6 345.1M227.2 336.7L231.1 347.9M193.7 342.7L195.2 353.6M135.8 306.2L126.7 303.1M197.7 340.8L198.8 352.5M243.2 307.9L257.6 302M217.8 322.1L220.9 324.3M132.2 333.7L126.3 344.1M137 337.7L132.7 346.5M235.6 304.2L245 290.7M192.8 308.4L194.6 306.4M243.7 305.5L262 291.4M231.8 320.6L240.6 322.2M124.4 330L115 338.9M218.7 332.4L220.1 339.6M228.3 336.1L231.2 347M224 295.1L232.1 279.6M225.7 336.7L230.6 349M240 307.1L253.3 299.5M145.6 324L143.7 328.9M204.7 328.8L208.9 332.1M228 317.3L232.4 321M182.3 304.1L181.4 300M138.3 301.3L133.8 294.8M236 296.7L249.7 284.4M143.1 337.2L136 345.6M144.6 340.8L142.7 353.6M207 286.6L211.4 265.7M168.7 286.5L166.8 270.5M156.7 291.3L148.3 275.5M127 331.7L116.7 341.9M240.3 324.9L250 334M164.8 305.5L160.8 304.4M180.6 281.7L178.6 259.3M215.4 317.2L218.5 319M182 324.3L180.3 326.5M146.2 339L141.9 350M244.6 320.5L256 324.7M152 340.1L151.1 351.2M136.4 297.8L125.3 288.7M120.9 324L109 332.1M227.9 320.6L233.7 323.6M235 297.1L248.6 280.9M149.1 311.8L147.1 312.3M219.4 291.5L225.6 274.1M126 322.1L114.2 325.8M161.8 327.7L157.4 329.8M172.8 281.9L172.9 262.1M221.8 291.7L230.1 279.8M217.4 292.5L220 274.3M197.9 339.1L199.5 349.2M132.8 313.5L126.3 312.2M190.5 305.1L191.5 298.9M160 340.4L155.3 350.8M178.9 287L180.6 270.5M137.4 289.9L127.8 270.8M123.1 328.8L112.5 335.6M229.8 321L235.3 323.1M178.7 337.5L178.2 343.3M223.9 338.4L227.8 350M117 314.6L102.3 318.7M201.3 302.8L201.8 297.5M235.2 330.6L240.3 339.8M129.7 295.8L117 283.7M223.9 297.6L231.4 285.5M241.1 321.9L252.5 326.7M183.1 307.4L184.8 305.5M210.1 305.5L216 299.8M224.8 306.8L229.8 303.9M197 307.9L200.5 301.3M187.8 298.1L185.1 285.4M215.1 341L217.7 354.2M230.2 300.2L236.4 291.9M146.9 338.3L145.7 347.7M133.4 321.2L127.3 326.8M230.1 294.8L237.9 276.6M155 314.1L153.3 314.9M210 285.6L217.9 267.6M229.4 313.4L236 312.1M154 336.6L152 347M161.4 283.8L157.2 267.3M132.2 318.4L127.5 320M124.8 306.6L112 302.2M171 342.7L170.1 351.5M219 330.2L225.2 338.1M243.3 306.1L261.5 300.6M181.8 286.1L183.1 268.9M206.7 335.1L208.5 342.5M191 341.8L193.8 352.6M145.3 340.6L143.1 349.9M163 296.7L156.1 284.5M140.4 330.1L136.9 338.4M170.9 308.9L172 304.9M129.6 301.8L117.9 290.3M179.9 307.3L177.8 306.3M175 282.7L172.7 263.7M244.4 317.6L255.2 320.6M136 310.2L132.4 309.1M170.1 326.4L167.1 333.3M149.4 287.2L147 273M139.1 300.1L129.7 289.2M210.5 342.6L212 352.1M174.6 295.6L171.1 284.4M220.2 293.8L226.6 275.8M226 291.4L234.3 272.6M151.4 302.2L146.8 294.4M229.4 330.4L235.3 337.1M126.5 300.1L117.8 287.2M119.1 320.8L108.2 327.3M232.3 294.2L239 273.5M198.7 342.5L198.9 352.9M118.3 320.6L108.5 324.8M216.8 287.6L227.3 270M174.4 284.9L175.9 263.9M192.7 311.9L193.1 312.3M145.5 309.2L143.3 303.8M224.4 294.9L232.3 283.5M195.3 282.6L198.5 265.4M125 312.9L115.2 313.5M187.5 343.7L189.2 353.8M231.3 302.8L239.1 294.9M132 326.7L124 332.7M174.6 284.9L170.3 265.5M198.4 283.4L198.3 265.2M146 292.6L139.2 283.6M205.9 338L206.8 344.5M218.5 320.5L223.4 323.7M200.9 335.2L202.9 342.3M227.4 291.3L238.4 275.8M233.8 316.3L243.2 317.7M155.4 338.8L151.7 347.2M160.8 318.8L157.4 321M172.8 281.9L172.1 262.7M234.2 296L245.7 280.8M212.2 285.7L218.5 263.6M188.3 340.4L188.6 350M228.3 333.5L235.7 340.6M179.4 338.5L177.5 344.6M224.3 332.2L227.9 340.2M154.7 341.6L153.2 351.4M182.8 331.8L182 340.9M117.4 308.6L101.9 307.2M122.8 304.4L113.6 299.5M125.8 298.6L113.2 286.7M230.2 293.4L240.8 280.1M217.2 318.3L221.4 323.3M152.9 300.7L149.2 291.3M141.8 338.5L138.9 347.2M124.7 324.1L113.2 330.3M244.1 321.4L258.5 329.2M219.4 289L224.2 274M244.2 318.7L256.4 322.9M148.8 305.2L144.7 303.9M188.7 339.9L190.6 348M164.3 341.1L161.1 351.9M159.2 343.6L159.4 356.6M141.4 291.1L134 273.2M240 318.6L251.1 321.8M229 303.7L233.8 296.9M186.8 345L188.5 356.6M149 289.7L141.4 276.8M239.5 322.1L253.5 326.2M240.6 306.5L257.1 299.6M132.7 292.3L124.8 274.5M238.8 324.9L245.1 334.2M139.7 289.3L131.9 273.5M197.8 307.6L201 304.8M203.6 317.1L208.1 319.6M143.1 288L137.5 267.6M172.1 321.5L168.4 322.6M144.9 297.6L139.7 289.9M138.8 294.8L130.2 284.1M224.9 331.7L229.4 337.8M120.2 318.3L110.7 322M199 306.7L199.2 299.6M201.5 343.9L202.2 355.5M184.3 346.4L184.2 357.5M173.6 299.2L171.5 287M222.3 337.3L225.3 348.2M199.1 343L200.5 351.5M193 340L192.1 347.9M145.4 321.8L141.4 323.6M217 294.7L223.9 276.5M193 342.8L194.2 352.5M228.8 332.7L235.6 342.1M237.3 306.2L248.1 300.5M210.4 309.6L216.3 305.2M223.1 292.9L229.7 279.1M231.1 293.3L241.1 277.4M235.2 324.2L242.2 333.2M189.5 295L188.6 286.1M190.4 296.6L193.5 285.7M142.4 302.6L133.1 291.7M228.6 320.5L235.7 321.7M209.9 333.6L212.4 341.5M236.7 300.2L244.7 290.2M227.4 299.5L234.1 288.4M130.1 298.2L119.5 283.7M136 311.2L130.5 313.7M177.9 283L175.5 264.6M229.8 318.2L235.2 322.1M209.5 333.9L212.5 344.1M171.5 327.2L171.2 330.6M146.1 293.7L144.6 284.8M182.6 325.8L180.5 332.1M191.2 288.3L192.3 275.5M139.3 323.9L136 327.2M158.9 344.2L156.7 356.4M176.3 286.6L180.7 270.3M206.9 339.2L207.6 348.7M179.3 340.3L180.3 350.1M191.8 327.1L189.9 332.9M184.8 336.9L184.5 343.3M210.1 340.5L211.1 352.3M238.6 315.9L246 318.1M180.1 309.4L183.5 304.5M118.5 305.4L102.6 298.3M195.4 331.2L196 339M191.8 286.4L192 268.1M163.3 286.5L162.5 269M223.2 338.1L229.5 347.9M119.5 320.7L109.8 325.8M145.9 338.5L139.2 348.6M155.1 295L151.7 287.4M148 329.7L145.1 336.3M165.9 339.7L166.5 349.2M121.9 317.4L110.5 319M239.9 312.3L248.8 306.9M118.5 305.8L104 299.9M161.3 283.2L158.8 263.1M221 308L227.8 304.6M240.3 321.2L250.2 326.9M228.2 309.4L237.7 308.9M175.1 292.9L176.2 278.9M119.9 309.6L105.2 304.5M232.5 331.1L236.2 339M173.2 346L171.5 355.4M179.7 302L179.1 297.5M223.1 290L226.4 269.4M137 324.5L131 328.4M240.1 301.2L255.7 292M245.9 313.4L261.4 312.3M159.3 335L157.5 341.3M176 285.5L174 265.6M118.4 321.1L107 327.5M135.1 337L128.2 346.4M137.7 329.7L133.6 339.7M185.3 337.8L184.9 347.1M179.4 291.7L181.5 280.5M198.9 344L200.3 353.4M182.3 334L179.4 339.3M235.9 324.1L243.5 330.7M169.8 345.7L168 355.2M127.1 312.2L117.5 313.6M116.7 315.8L102.4 318.9M244.9 312.8L262.3 312.8M242.7 308.1L254.6 304.1M217.7 324L219.9 329.3M180.9 290.6L183.8 273.7M215.9 339L219.2 347.7M236.4 299.2L248.1 285.8M174.2 339.8L173.9 350.6M145 341.1L142.8 353.9M129.5 323.4L121.2 326.6M131.4 317.2L123.5 319.2M133.2 320L127.1 322.2M120.1 318.9L111 323.8M193.1 317.4L193.2 319.2M134.4 325L129.5 328.4M231.4 328L237.2 335.1M184.6 291.1L181.2 274.7M172.2 282.3L166.9 262.4M198.8 310.9L200.2 309.6M137.3 336.4L133.6 347.3M234.2 330.8L242.1 341.5M209.7 285.3L215.9 268.4M186.5 286.5L183.2 268.7M208.3 310.5L212.2 306.9M160.5 320.2L158.2 320.4M185.2 296.5L182.2 289.6M174.1 316L171.3 317.4M232.5 333.3L236.9 344.5M159.8 303.3L156.5 300.9M142.7 339L135.1 347.8M239.8 323.6L249.8 330.1M227.2 309.5L235.6 304.5M143.1 288.1L133.6 266.9M138.9 330.7L136.6 337.6M205 305.3L205.5 300.8M191 335.5L188.8 343.5M215.1 341.3L219.3 353.1M186.1 306.8L186.1 301.3M162.8 330.5L160.3 335.8M233.9 319.9L242.4 324.3M208 313.8L212.8 311.7M154.9 342.3L151.3 353.8M176.3 332.4L173.8 339.2M135.7 336.1L132.7 345.5M137.2 329.9L131.5 336.1M145.2 287.8L134.5 270.1M147.5 288.8L143.1 267.1M207.4 294.2L216.1 282.8M143.1 338.2L139.6 349.4M193.5 320.1L196.1 325.8M148.8 303.7L141.2 298.6M155.9 339L153.9 348.7M186 296.2L189.1 285.2M151.6 296.7L148 288.3M168.7 333.6L167.6 338.5M130.2 295.5L115.8 280.2M208.2 285.7L214.3 268.6M165.4 316.6L164.7 321.2M159 286L151.3 267.6M240.2 323.8L252.2 330.5M147.3 339.1L141.5 348.1M169.5 302L167.1 294.1M159.9 311.6L158.5 310.1M181.3 344.4L180 353.6M128 306.2L119.3 299.9M213.2 286.5L218.7 270.1M183.1 294.6L182.7 280M175.3 322.4L176.6 325.5M140.9 299L136.6 283.8M128.6 306.3L114.5 300.9M238.9 322L249.6 326M202.3 336L205.4 344.8M205.1 315.5L207 315.8M182.9 296.3L180.4 287M212.3 342.4L213 354.2M215.7 286.5L225.1 267.7M234.1 315.7L242.2 315M163.9 340.1L163.4 350.1M230.3 334.6L239.5 343.7M118.5 311L105.8 308.2M242.3 323.6L254.5 328.5M197 309.8L196.9 305.7M124.4 318.4L115.2 322.1M235.3 317.4L244.9 319.3M127.6 307.9L119.4 306.2M193.8 319L197 320.7M217.1 340.9L218.7 350.4M163.9 345.3L160.1 357.2M208.6 294.7L211 282.2M210 302.7L214.1 298.3M236.5 307.7L248.2 306.1M155.5 343.9L151 355.6M234.9 303.8L241.5 299.1M200 295.4L202.9 282M161.9 291.5L159.5 271.9M229.5 319L237.1 325M189.7 294.4L193.4 286M214.5 305.6L220.2 305M185.1 315.1L184.4 314.2M220.6 339L222.8 348.5M219.5 326.5L225.8 333M155.7 336.6L153.7 344.4M233.2 331.1L242.7 340.3M212.1 289.9L220.7 273.2M161.9 289.6L159 273.6M239.6 321.8L251.5 325.7M223.9 303.1L228 291.8M189.3 339.4L188.1 349.9M185 338.1L185.2 346.8M124.2 321.6L114.6 326.5M222.5 294.6L234.4 278.3M167.2 283.8L167.4 261.9M151.4 285.2L141.3 264.7M169 287.7L171.4 275.8M185.4 314.9L185.4 312.3M234.2 320.7L243.2 322.2M227 316L237.1 313.5M121.9 319.7L112.1 320.7M223.8 299.8L230 285.6M213.4 332.4L215.9 338.3M183.6 334.3L184.8 342.8M215.6 323.1L220.7 327.5M158.2 329.3L156.6 334.5M192.7 302.5L197.2 298.6M211.3 342.2L216.6 354M219 307.2L225.6 305.1M205.6 284.3L211.6 264.1M238.7 313.3L249.2 313M144 287.5L135.8 269.7M177.7 338.5L177.2 347.1M153.7 319L152.6 322.2M242.8 313.3L253.8 311.8M235.1 331.8L245.3 338.7M126.6 299.5L114.1 285M235.3 297.3L245.8 276.8M199.9 327.4L203.7 333.3M155.5 308.6L154.6 303.8M237.1 326.3L244.2 332.4M174.3 294.5L176.6 280M140.6 288.5L135.1 269.1M181.2 291.6L183 276.4M159.3 344.6L154.5 357.4M120.7 325.6L109 332.9M215.6 324.9L217.1 330.4M172.6 301.9L172.4 298.3M145.9 331.3L143 337.5M170 313.6L169.7 312.8M120.7 317.1L109.6 321.2M234.2 330.6L244.2 338.1M210.8 340.6L212.3 352.6M126.9 311.4L117 306.5M166.1 283.2L163.4 261.1M186.8 283L190.6 261.8M147.6 288.8L144.4 273.4M126 330.9L120.4 339.7M117.6 309.1L103.3 303M213.6 298.5L219.1 290.3M127.6 308.5L119.6 307.4M238.4 328.9L247.5 337.5M212.4 318.8L215.9 321M128.7 294.7L115.2 276.5M138.7 307.3L130.5 306.5M118.2 319L101 323.1M177.3 281.7L177.6 259.4M163.1 341.2L158 350.8M240.3 305L254.8 296.5M158.2 283.6L157.1 260.6M172.4 344.9L170.4 353.9M224.9 333.3L230.8 342.5M196.9 286.5L199.1 268.1M122.7 299.9L111.6 287.2M215.3 296.2L220.2 286.6M238.9 321.1L245.6 326.5M199.7 287.5L201.4 270M188.1 318.7L190.7 322.1M211 307.4L214.1 308.1M136.5 303.4L127.2 292.6M243.7 317.7L255.8 318.7M123.6 298.8L106.7 286.6M144.6 326.7L142.1 332.7M122.1 316.2L109.5 317.4M229.7 293.2L243.2 278.1M127.1 296.7L113.3 286.9M184.5 303.7L185.6 299M120.9 307.7L110.5 302.6M152.5 340.7L150.6 351.9M242.1 319.8L252.1 325.2M198.9 345.2L200.1 356M218.6 295.7L230 282.7M192.6 345.7L195.6 357.8M158.2 335.5L155.8 342.7M211.8 286L213.8 261.9M143.8 294.3L135.2 281.1M152.2 324.9L148.9 327.3M236.4 297.9L249.9 287.4M120.6 302.1L105.3 291.2M218.4 312.5L226.6 308.8M156.9 343.5L155.9 356.8M188.7 307.4L187.4 305.5M219 291.5L225.1 271.1M173.1 340.6L171.8 349.8M166.8 325.1L162.9 326.6M197.8 282.6L203.2 264.1" stroke="#26844d" stroke-width="0.9" fill="none"/>
<ellipse cx="181" cy="314" rx="65" ry="32.5" fill="url(#B21)"/>
<path d="M131.6 321.9L122.8 325.6M198.6 323.4L207 326.7M245.1 308.6L260.8 302.9M244.7 315.4L260 318.7M137.2 290L123.5 269.5M179.2 324.4L179.3 332.6M121.1 312.3L104.5 310.5M230.7 298.1L237.4 280.8M165.3 295.5L161.8 277.9M123.8 311.6L108 307M179.3 326.1L179.3 334M209 341.3L213.9 353.9M121.9 301L109.1 289.6M236.4 308.2L250 304.3M149.6 327.9L141.6 331.9M231.7 332.2L239.1 341.9M207.1 316.2L217.8 317.6M183.7 346L185 359.4M117.9 311.5L100.4 311.5M179.4 293L181.2 281.4M239.3 328.4L250.4 338.5M225.2 312.9L233.5 313.6M238.5 321.7L247 327.3M196.2 300.5L195.5 290.5M135.1 314L125.6 315.9M156.4 308.5L152.3 299.6M131.3 327.2L126 333.4M223.1 310.7L231.1 309.6M227 299.1L233.5 287.4M167.9 345.8L164.7 358.7M117.4 315.6L101.1 316.3M147 286.6L139.4 264.6M140.2 307.9L131.7 303.3M223 289.5L229.7 273M156.7 341.9L152.9 352.6M235 325.7L241.8 334.3M206 343.6L209.6 355.2M211.4 295.6L216.9 280.5M179.5 343.5L177.7 356.3M194.1 304.9L200.6 297.3M218.7 338L223.4 348.6M127.1 296.1L115.2 282M137.5 297.4L131.8 286.4M220.7 324.6L225.8 332.3M138.6 320.5L129.3 327.2M172.3 341.7L172.2 355.3M146.5 340.7L143.4 352.8M181.1 340.7L179.3 352.5M142.4 289.9L131.8 271.2M155.9 343.8L154.9 354.5M129.5 329.5L121 337.9M129.2 294.8L115.8 276.9M242.6 303.7L260.4 293.2M120.7 324.2L107.4 332.8M186.1 329.6L185.8 336.9M197.8 312.2L208.4 311.7M172.5 323.3L170.9 330.3M240.1 327.4L246.9 336.4M215.6 292.3L219.9 271M189.1 290.6L192.3 273.7M136.3 325L131.9 330.8M127.8 296.5L114.6 278.4M197.8 321L202.6 326.1M142 315L131.5 313.3M229.3 298.1L238 282.5M141.6 320.2L134 322.3M187.5 346L188.3 357.3M158.9 293.6L151 276.2M132.9 311.5L125.3 313.6M125 297.5L110 280.9M196.1 312.5L206.3 308.7M200.1 341.7L201.5 353.4M189.2 344.3L191.9 354.5M135.5 301.9L128.8 293M147.7 332.7L141.6 343.3M150.4 290L144.5 275.2M221.3 291.9L227 271.5M223.5 309.8L233.7 308.2M150.5 322.3L149.5 329.9M134.3 294.1L122.4 276.8M136 302L125.2 287.9M157.3 288.9L153.5 273M182 308.2L180.2 301.5M162.1 338.6L162.4 350.4M237.5 318.2L249.3 321.4M128.7 296.1L120.9 277.3M157.8 321.8L153.9 328M192.7 344.5L193.4 354.4M193.3 284.6L190.4 262.4M134.3 291.6L129.3 273.6M162.5 344.9L161 358.7M195.8 293.1L194.8 279.6M204.9 287.2L213.4 270.9M243 313.6L255.2 316.2M213.5 335L220 344.2M168 320.8L166.6 328.6M236.9 314.7L248.9 316.8M190.1 344.1L190.4 357.5M127.9 327.3L121.4 338.8M146.2 334.2L142.2 344.6M163 308.2L157.1 301.6M152.7 317L142.7 318.3M197.2 283.5L202.1 262.4M242.8 320.9L252.3 328.9M119.4 306.1L101.2 296.5M222.7 326.7L230.6 335.5M189.2 334.8L188.4 345.9M129.1 294.7L113.9 278.9M140.8 309.8L131.2 305.7M194.8 337L198.7 347.4M139.3 318.3L131.5 318.7M119.6 304.7L101.6 295.6M197.5 331.8L199.6 341.1M180.3 314L173.7 311.9M143.4 301.4L138.9 290M211.7 330.8L214.3 338.4M118.1 315.6L104.3 321.3M184.6 283.8L180.3 265.3M125 300L111.5 285.8M227.2 318.7L233.4 324.5M196.6 282.6L196.5 263.8M155.3 320.2L149.8 325.8M163.9 285.7L159.7 270.1M214.4 297.4L221.8 287.2M116.4 316.4L97.9 318.6M137 315L126.8 313.6M159 332.4L156 342.4M186.3 315.5L194.8 317.2M169.6 334.4L168.2 344.1M135.2 321.8L123.7 324.1M118.9 321.9L105.9 328.9M189.9 334.8L188.3 342.7M139.6 308.6L130.3 303.1M145.8 340.9L139.4 350.7M226.8 301L240.1 287.2M210.8 287.5L217.5 266M181.3 337.2L180.9 348.4M125.6 326L116.5 335.2M205.5 341.8L208.7 353.5M205.3 339.6L209.1 353.1M214.8 299L220.7 286.7M213.3 286.9L222.6 267.1M193.5 332L192.2 340.1M181.5 307.9L182.1 303.1M129.3 332.8L123.4 345M146.1 318.9L136.5 319.5M155 290.6L151.2 273.8M166.3 343L166.3 354.9M148.3 286.1L147.1 266.9M194.1 333.4L193.7 340.4M205.4 343.4L205.3 354.4M123.7 328.5L115 337.3M131 333.5L125.2 345.1M160 326.1L159.3 333.8M221.2 300L232 286.7M184.6 326.3L187.3 332.3M191.9 343.9L192.4 355.9M122.9 309.1L110.8 302.2M199 314.4L206.8 313M147.6 306.3L138.8 300.4M154.1 343.5L151.3 356.9M151 297.3L150 282.9M186.7 346.1L185.8 356.7M226.5 336.9L229.4 346.6M165.9 316.2L161 321.3M150.3 328.1L145.6 336.6M121.1 319L105.2 321.9M175.7 288L172 274.2M132.9 298.5L125.8 287.3M173.4 309.5L168.3 301M218.4 299.5L223.2 288.6M168.9 345.9L166.8 357.3M228.2 294.9L236.2 274.9M182.9 345.7L181.8 357.3M157.1 291.4L151.4 273.8M139 289.2L130.5 270M219.8 298.8L226.3 291.1M150 342.2L145.3 352.4M168.2 294.6L167 277.3M208.8 308.1L214.1 300M193.6 319.6L195.1 325.4M116.4 316.4L101.5 319.8M119.9 318.7L103 323.6M241.2 307.6L256.8 303.5M124.2 328.2L115.2 339.1M203.6 343L206.9 355.1M174.9 344.9L171.8 354.4M154.9 312.1L147.3 311.7M123.8 329.3L111.1 338.7M155.5 343.2L155.3 356.4M173.3 285.2L173.3 266.2M173.8 286.5L175.6 272.7M229 335.5L236.9 345.5M200.4 333.3L201.9 343.7M160.2 283.4L156.5 261.8M126.6 297.3L116.2 283.1M167.2 334.2L165.9 343.2M117.9 307.5L99 299M213.7 339L219.3 351.3M203.1 316.8L213 319.5M234 312.7L242.6 309.8M188 283.2L190.2 266.4M140.7 313.9L129.9 311.4M185.2 295.6L189.1 281.4M116.1 315.4L102.6 317M230.1 307.2L242.5 303.2M224.3 302.3L236.1 287.5M172 331.2L171.1 341.9M174.4 339.7L169.9 350.3M236.6 324.2L245.5 329.2M169.8 282.5L172.3 256.9M239.3 315.3L249.8 316.7M147.9 309L140.1 307.5M162.9 334.5L163.6 343.3M119.6 307.2L105.2 302.8M152.5 289.4L144.9 270.5M186.6 313L195.9 313M220.8 318.4L229.3 319.5M170.1 346L168.6 359.6M226.3 330L234.9 338.6M188.1 299.8L193.2 290.7M129.6 333L121.4 343.7M229.8 308.6L236.7 304.7M161.3 334.3L156.2 343.5M149.6 325.7L145.4 335.2M210.4 307.6L219.7 303.7M130.6 333.6L122.5 345.1M149.7 324.6L143.6 331.1M146.4 317.3L140 322.5M177.6 332.4L173.1 339.6M141 309.9L132.2 308.4M204.1 285.2L209.3 261.1M179.6 326.2L177.3 333.6M213.8 335.7L216.8 347.2M209.7 330.2L212 341.3M240.3 327.3L250.2 335.6M230.2 327.4L236.3 335.5M219.7 294.9L224.9 285.7M189.1 343.4L190.6 353.6M148.6 342.2L147.6 354.1M239.5 304.3L257.1 294.1M148.3 336.5L146.6 346M116.8 317.3L102.2 322.4M192.9 343.5L193.2 355.1M191.3 284.8L190.8 267.4M182.9 346.3L184.4 357.8M169.4 345.1L169.6 357M135.4 297.6L124 283.3M177.7 307.5L177.1 298.2M148 289.1L136.7 267.7M184.4 307.5L182.6 299.4M134.3 294.9L125.8 283.1M181.5 288.2L185 273.1M199.8 345.1L201.3 358.8M124.5 300.2L111.8 280.7M139.5 319.3L132.9 325M216.4 296.9L226.5 284.3M218 301.9L225.3 296.8M188.9 346.3L192.7 358M229.5 330.2L238.5 337.7M145.2 318.6L138.7 322.9M187.4 283.7L192 266.6M200.1 331.5L201.2 338.2M214.5 337.2L220 349.4M235.4 312.8L245.6 315M243.4 319.6L254.4 326.3M186.9 289.1L183.9 272.8M144.1 287.4L139.4 265.4M203 321.6L212.5 322.7M129.1 303.1L119 288.1M131.8 324.8L122.9 330.1M214.6 286.7L217.8 262.2M204.5 340.2L206.3 352.2M205.9 335.5L210.7 343.8M218.2 301.3L223.1 294.3M215.4 299.7L217.8 287.9M181.4 295.1L182.5 276.6M138 296L132.2 283.1M132 314.7L120.1 317.1M155.1 327L148.9 334M128.2 332.8L119.6 340.9M156.8 284L153.8 265.5M120.9 320.2L107.2 325.2M181.2 334.9L178.5 343M153.3 290.2L152.9 270.7M206.1 339.2L206.7 348.8M234.9 315.2L246.2 317.3M237.7 326.9L244.6 337.6M204.9 343.6L207.9 354.6M237.5 301.7L249.1 294M167 323.1L161.1 327.7M207.3 286.8L212.2 272.3M133.4 323.8L128.3 330.1M219.1 307.7L225.6 299.4M206.5 305.9L211.8 297.2M150.8 342.6L148.2 354.2M159.9 295.3L155.9 280.2M200.1 311.3L209.3 310.2M189.7 325.3L192.2 331.6M227.7 304.8L237.3 299.3M206.9 290.3L212.1 279.2M165.8 338.7L165.6 350.4M127.2 297.2L116.3 278M234.3 300.8L243.6 290.5M177.9 345.7L175.3 358.8M198.2 289.6L201.8 277.9M139.8 292.7L132.4 278.8M155.7 319.7L151.8 326M116.6 311.4L98.7 310.8M182 311.9L185.9 309.8M147.1 341.3L144.8 354.1M230.8 325.3L236.6 330.2M226 313.1L234 311.4M189 282.1L194.1 262M222.7 327.3L227.5 334.7M180.9 310.8L181.1 305.5M177 346.3L176.6 357.2M163.7 287.9L158.4 269.8M152.6 289.5L150.6 273.2M239.8 306.9L253.1 299.5M211.8 341.4L212.8 352.5M210.7 290L213.3 271M222.8 315.2L232.9 315M236.4 297.6L247 283.1M203.2 289.8L202.8 272.8M227.8 329.3L236.9 337.5M135.6 292.6L127.9 274.8M226.6 318L239.3 319M133.2 298.9L124.7 280.8M241.8 305.4L258.3 296.2M171.3 345.9L169.1 356.2M208.9 341.6L215 354M161.7 342L160.2 354.8M219.6 308.9L226.6 301.4M119.4 303.8L103.8 296.1M197.9 282.8L204.9 258.5M185.7 343.7L187.1 356M198.7 309.4L205.3 300.6M130.4 296L122.1 279.2M224.7 305.9L232.8 299.4M153 316.5L145.1 317.7M124.4 315.2L115.8 314.3M162.3 297.5L158.2 289.6M156.1 286.6L152.4 266.4M165.1 284.9L161.5 261.4M167.5 307.2L163.1 298.2M138.6 296L134.3 280.6M214.5 338.1L215.8 350.2M214.2 286.4L223.1 268.3M141.9 317.4L134 318.5M152.2 297.1L143.8 289.1M159 328.6L158.5 335.6M128.8 294.9L116.7 274.7M227.9 326.2L233.8 330.7M121.3 326.8L109.9 335.7M185.4 338.3L188.9 346M127.1 329.2L117.5 337.4M188.7 284.7L190.3 265.1M230.1 296.4L244 278.4M118.8 307.4L102.9 298.8M213.1 342.2L215.7 353M219.8 333.5L226.7 343.6M140.9 304.7L133.1 298.3M128.4 302.9L119 291.7M120.8 326.2L107.2 335.3M120.7 325.9L112.4 333.1M237.3 297.7L250.3 286.6M149.1 286.6L144.2 268.6M223.5 300.1L231.8 289.5M220.9 320.9L227.6 324.5M188.7 283.6L193.1 264.1M141 302.6L131.6 296.4M157 290.6L152.5 269.1M211.7 299.5L219.9 287.5M176.8 341.2L174.8 350.3M198.3 283L199.4 264.6M185.8 344.7L185.4 354.4M154.3 284.4L147.5 266.8M121.6 305.7L107.6 296.7M216.6 337.4L218.1 349.9M177.5 339.9L174.1 351.7M166.7 284.2L169 268.5M167.1 285.3L165.3 264.2M227.8 336.2L233.2 348M230.6 322.5L238.3 326M128.8 332.7L122.8 342.8M187.8 286.6L189.3 267.9M141.1 335.6L135.9 344.7M234.9 332.1L242.4 343.2M215.1 341.1L221.5 353.6M209.9 287.7L215.6 264.9M130.9 333.7L124.1 345.2M158.2 336.5L155.2 345.4M120.8 322.1L107.2 329.4M161 320.6L152.1 324.9M233.2 330.1L239.9 341.9M177 314.4L166.1 314.8M161.5 286L158.6 270.8M155.8 339.8L151.7 351.6M160.3 286.5L152.5 267.4M242 311.2L255.8 311.5M164.7 336.4L160.4 344M229.2 305L236.4 298.1M155.4 285L152.5 264.3M235.5 308.1L245.7 307.9M149.8 338.3L147.3 348.4M143.5 340.5L136.8 351.5M185.9 282.2L183.2 263.1M235 330.5L241.2 340.1M192.9 345L195.2 356.3M140.6 309.7L129.9 307.6M141.5 295.1L131.3 284.7M142.2 313.7L132 310M123.2 328.9L113.4 338.7M156.9 292.6L156.1 275.6M146.6 337.5L143.1 346.1M148.4 341L145.7 352.8M213.6 287L215.8 264.3M223.4 289.8L232.8 269.5M191.3 317L198.2 323M241.4 306L256.7 300.7M217.6 296.8L224.1 280.8M210.4 305.3L215.5 298M134.3 292.4L126.6 275.3M236.6 299.4L246.2 288M163.4 289.9L159.7 279M218.6 302.2L221.4 290.3M121 326.5L107.8 335.2M223 333.6L228.8 344.4M161.7 315.9L153.3 315.6M162.8 345.1L162 357.4M204.5 288.7L208 271.2M211.7 337.1L215 349.5M163.8 283L158 258.8M198.8 306.4L199.8 297.6M150.7 299.5L142.4 288.7M155 293.5L154 282M120.6 325.7L108.9 333.8M153.7 309.3L144.7 305.6M234.7 332.3L242.7 339.9M119.6 305.3L99.6 296.2M122.5 303.4L107.8 295.9M147.2 333.1L141.1 341.7M135.8 307.6L123.3 305.7M162 330.6L157 339.2M160.4 340.1L158.1 352.5M229 316.4L238.4 314.7M145.4 340L143.4 352.5M150 328.8L145.8 336.3M185 282L189.6 262M212 339.5L217.7 351.8M143 339.8L140.9 352M228.6 336.1L233 347.1M145.7 326.7L140.4 335.9M220.9 336.4L225 348.7M238.8 301.5L256.3 289.4M223 289.2L230.3 266.8M195.6 304.5L203.6 298.7M204.4 288.3L209.7 266M184.6 295.3L181.5 282.6M171.4 337.4L172.3 345.9M139.4 303.1L130.4 297.5M167.5 334.9L167.6 344.5M129.2 294.6L118.2 273.6M120.9 305.5L106.2 294.7M207.6 326.5L213.7 331.7M227.2 298.8L232.9 284.2M238.2 313.7L249.3 312.4M128.7 330.1L120.6 340.8M202.1 294L204.1 278.9M227.8 325.7L235.2 336M199.5 300.6L203.7 288.9M227.2 320.9L235.9 327.8M239.7 300.2L255.9 285.8M178.2 284.1L178.7 258.6M159.1 342L157.6 353.7M211.6 342.7L213.2 356.1M241.8 322.4L251.4 329.5M225 323.2L233.9 331.2M235.4 296.9L247.4 277.7M230.8 296.2L239.3 278.1M191.9 339.2L190.1 350.8M159.7 336.9L157.4 346.8M150.4 285.8L145.5 266M158.2 284.1L150.5 264.3M188.6 287.8L189.9 267.6M127.9 324.3L117.5 332.9M191.8 308.9L200.1 305.4M222.6 293.9L230.5 278.3M152.3 343.1L150.9 354.9M237.6 329.3L243.1 338.3M146.9 330.9L144.9 342.7M170.2 343.7L170.6 356.9M176.9 285.2L173.6 269.1M132.8 326.1L125.3 332.1M204.8 295.6L209.3 284M168.3 329.9L167.5 337.6M172.4 287.1L169.8 269.8M245.1 311.2L259.8 308.2M159.9 285.1L158.1 263.3M166.3 323.6L161.7 332.2M237.6 300.5L254.8 290.1M125.7 300.1L110.1 287.6M151.6 341.4L151.3 353.7M194.8 284.4L197.3 265.8M161.9 286.8L159.2 270.4M203.4 283.5L206.9 260.7M125 330.4L117.8 342.9M207.5 285.3L209.9 267.1M183.9 298.8L185.1 287M186.9 283.4L189.9 264.3M185.5 285.5L182.8 268.6M117.1 318L101.1 320.7M163.6 345.1L162 358.6M169.6 312.6L163.6 312.9M144.7 288.6L134.3 270.7M145.2 306.4L135.9 299.1M227.2 293.6L233.5 273.6M151 342.7L148.1 356.3M130.2 296.6L118.3 278.8" stroke="#32a060" stroke-width="0.9" fill="none"/>
<g clip-path="url(#c21)"><g transform="matrix(1 0 0 -0.6 0 563.8)"><ellipse cx="542" cy="315.7" rx="63" ry="31" fill="#4f9cc8" opacity="0.6"/><g opacity="0.6"><path d="M579.5 324.1L588 328.9M527.9 332.6L529 337.3M592.5 298.1L607 285.2M596.5 327.4L605.2 332.9M594.2 314.8L603.9 312.3M553.6 292.6L553.4 278M603.5 321.7L616.6 323.7M514.4 342.8L513.4 354.8M584.8 293.1L598 274M583.9 311.4L589 306.7M555.2 286.4L561 264.9M602 322.4L611.8 328.7M514.9 293.3L514 278.6M529.7 336.5L527.2 344.2M563.1 337.1L565.5 343.3M600.6 321.1L608.8 326.6M540.8 296.7L544 283.4M505 339.5L503.2 350.3M572.1 299.1L578.1 290.7M493.8 335.5L486.2 346.6M494.2 295.6L482.1 279.8M486.5 323.8L479.2 328.6M530.8 294L529.8 281.6M485.4 307.5L470.3 301.6M582.1 292.8L592.5 273.3M507.3 329.5L502.4 333.9M534 286.5L531.6 270.1M585.7 305.6L591.4 295.6M519.9 307.8L515.1 305.9M603.5 309.1L618.7 306.2M549.5 319.9L551.8 320.2M547.3 321.4L546.4 326M597.5 318.8L607.3 324.4M555.7 305.1L558.5 299.4M505 339.9L501.5 349.1M481.5 323.6L470.8 332.4M556.8 332.6L557.2 339.4M533.9 293.9L529.4 277.2M566.7 340.3L568.4 350.6M587.2 337.2L593.6 347.9M489.5 331.4L482.5 342.6M496.1 296.7L486 283.8M568.7 293.5L573.8 278.7M584.5 303.5L591.6 295.5M554.9 332.4L554.7 338.7M493.9 319L485.4 320M567.8 319.3L568.7 321.4M523.9 344.1L523.7 353.1M545.3 285L549.5 260.8M566.8 344.2L568.9 356.5M562.9 324.9L566.1 325.5M504.9 334.8L501.2 342.8M489.2 330.4L483.5 337.6M530.2 338.5L529.6 346.6M480.3 318.9L467.5 318.8M534 290.2L536 275.5M526 290.9L528 274.6M585.8 293.6L590.6 275.8M507.7 329.8L505.8 334.7M600.9 325.4L610 329.9M542.1 301.7L540.6 293.9M601.2 307.2L616.6 300.6M596.5 306L606.3 296.7M571.9 337.9L576.9 345M580.5 323.2L582.2 328.3M558.7 290.9L560.1 274.7M521.5 292L516 278M498.6 329.1L492.8 333.8M600.1 303.8L611.7 287.1M534.1 292.1L534.3 273.9M586.6 306.9L593 302.9M576 290.9L584.3 271.6M571.6 311.6L577.3 307.9M604.6 314.7L622.1 313.9M520.5 328.8L519.5 333.2M534.5 310L532.6 310.4M498.8 319.5L492.6 321.6M556.9 331.5L557.8 340.5M565.5 343.3L569.9 355.1M492.4 332.9L486.4 341M503 332.6L496.8 340.2M565 338.4L566 348M563.4 329.5L567.4 336.9M581.8 338.5L587.8 348.3M588.3 334.7L594.4 342.5M498.8 302.9L488.2 293.5M527.5 304.2L527.1 297.6M545.3 299.6L549.1 288.7M524.7 287L522.4 263.7M593.8 302.8L603.2 287.8M513.9 294.1L511.1 276.8M504 340.1L498 351.2M505.1 340.7L498.9 352.4M479 316.9L466.5 320.6M530.7 307.1L527 305.6M492 320.4L486.6 325.4M545.2 341.7L544.2 350.7M542.1 285.9L546 266.5M502.8 306.1L495.1 299M556.7 326.6L560 330.3M544.8 287.6L548.8 270.3M518.1 304.3L513.8 294.6M539.4 328.9L541.6 334.2M566.4 287.9L567.1 268.3M498.8 297.6L493.1 284.9M481 318.5L468.6 323.4M541.5 313.9L540.4 310.5M483 326.5L473.5 335.4M578.9 324.5L582.8 329M499.9 307.4L493.2 305.2M543.2 323.3L545 325.1M555.4 345.2L557.1 354.3M525 335L521.3 341.3M572.5 332L575.2 339.6M528.8 285.5L529.6 266.6M598.8 326.9L609.5 335.9M599.9 305L616 296M523 298.3L524 289M513.7 342.6L510.3 351.6M533.9 297.9L533.2 287.8M547.9 288.6L549 274.1M483.6 313.5L471.8 313.9M587.1 294.4L599.9 274.6M604.1 315.5L624 312.4M486.9 311L472.8 307.3M565.4 312.7L568.5 312M484.5 322.5L472.1 328.6M555.9 311.3L555.1 305.9M559.9 311.9L562.6 310.6M603.6 321.5L614.3 326.7M507.8 340.2L503 349.9M490.3 309.7L481.2 307.3M582.3 296L591.2 276.9M502 302.1L498.1 292.5M566.6 330.8L570.6 336.9M527.1 319.2L526.1 322.2M489.8 303.9L481 293.1M572.5 316.4L576.3 318.5M486.2 322.7L479.3 329.4M513.5 289.3L509 271.9M506.7 314.2L504.9 313M547.9 285.2L547.3 266.9M523.5 333.6L521.6 339.6M495.6 309.6L485.8 303.1M596.7 313.5L605.5 312.9M602.6 315.4L613.2 313.5M498.9 302.2L494.9 295.2M577.5 334L583.4 343.3M516.5 307.7L511.7 304.1M556.7 288.4L557.3 271.1M485.1 302.6L469.8 284.4M525.4 312.4L520.9 308.5M597.9 313L611.2 308.9M486.7 307.3L472.9 296.3M584.6 294.7L591.9 282.4M541.2 326.3L539.1 331.1M553.9 334.7L557.9 343.5M487.1 311L477.5 304.1M572.9 298.1L577.2 287.3M589.6 300.6L594.6 287.8M583 329.2L588.5 336.3M585 317.6L593.3 315.5M517.8 339L513.5 348M560.6 326.2L560.2 330.6M565 332.4L569.4 338.9M591.1 333.6L596.2 341.7M555.2 287.5L560.1 269.7M484.3 328.1L475.2 337.8M581 302.6L588.3 289.5M604.6 319.2L619.5 320.3M481.9 322.5L470.3 326.8M500.2 338.5L494.1 348.8M580.5 304.8L584.6 296.8M550.5 304.1L554.1 298.3M497 331.6L490.7 341.7M493 324.1L488.7 330.4M480.3 310.1L462.6 306.6M582.4 296.7L589.6 282.7M577.4 308.1L580.6 303.8M602.7 323L616.6 328.8M496.5 335.9L492.1 346.1M528 298.9L527.4 286.7M556.7 310.5L558 309.7M520.3 290.8L521 271M528 286.6L524.9 265.3M567.5 299L572.2 287.7M496.3 332.2L489.8 337.4M539.7 331.3L539.4 336.5M487.4 301.1L471.1 288.2M555.3 345.9L555.6 358.7M562.5 337.2L565.9 343.6M595.5 328L603 334.3M568.5 296.4L576.5 282.9M564.3 298.6L564.6 282.7M540.7 322.8L537.7 325.8M597.1 302.2L611.8 290.3M534.1 345L534.6 357.9M566 318.7L566.2 319.7M521.8 334.7L518.7 342M526.9 345.3L526.3 357.6M520 302.6L517.7 298.3M595.9 300.8L606.8 288M592.3 297L602 281.9M545.4 289.8L544.3 269.1M537.7 336.1L534.7 344.8M524.1 333L522.9 339.6M501 294.6L492.6 278M493.9 303.1L481.5 294.2M594 327.6L602.1 332.8M514.8 343.5L513.4 352.8M561.1 312.4L566.8 312.5M577.6 290.9L588.3 272.2M493.9 332.1L488.5 340.4M496.7 337.2L490.6 349.7M603.6 309.5L618 301.3M558.3 315.6L559.6 312.4M587.3 304.8L597.2 296.5M512.3 316.3L507.4 318M584.4 298.6L596.4 285.7M586.5 293.8L598.2 278.8M484.2 309L472.3 301.8M600.4 315L614.5 312.5M538.6 285L540.1 260.5M583.1 293.6L587.8 278.2M550.3 314.3L551.9 314.6M590.8 329.9L595.3 337.7M558.1 320L557.2 319.5M499.1 297.5L490 284.1M483.8 306.6L468.6 299.7M569.2 337L570.9 344.3M488.2 315.4L479.5 316.4M528.2 310.3L529.9 306.1M553 294.7L553.6 282.7M564.6 310.6L564.2 305.6M589.3 329.6L596.7 335.8M514.2 288.9L507 270.4M520.8 310.5L515.2 309.9M529.1 311.2L525.2 308.3M592.4 321.3L600.3 325.1M522.1 344.5L520 353.5M543.6 346.2L544.5 358.3M602.2 312.9L617.4 310.3M569.3 293.1L571.4 278.9M522.6 286.2L516 264.4M558.3 302.1L558.8 294.8M531.7 286L533 263.5M587.3 308.8L598.6 304.4M594.9 331.2L600.1 339.3M504.1 320.2L499.5 324.9M601.2 325.8L612 330.9M523.2 302.4L519 298.7M530.9 293.8L529.4 278.7M494.8 298.2L482.8 283.1M510.5 326.4L506.7 330.2M563.3 288.2L562.6 270M516 308.5L511.6 304.5M572.5 289.2L575.6 264.2M534.4 346.5L531.4 355.8M484.5 304L469.9 293.4M594.2 304.2L604.7 287.4M591.5 332.6L600.1 342.8M560 290L559.8 272.1M527.2 290.5L527.8 269.1M580.9 338.4L587.8 348M558 344.5L559.3 353.6M550.1 299.2L553.5 293.1M519.2 325L515.7 328.4M558.6 337.5L558.2 346M540.6 307L536.6 304M540.7 344.1L539.3 352.3M480.3 310.2L466.4 305.2M554.1 305.4L559.1 302.6M519.5 342.5L517.9 354.3M558.2 286.6L556.8 267.6M569.5 288L572.1 262.7M573.3 342.4L574.1 354.2M553.3 335.1L555.3 344.2M584 292.7L589.2 269.3M574 317.7L575.8 320M547.4 310.5L549.9 305.4M544.6 296L541.4 284.7M525 343.3L521.2 354M548.7 324.5L549.7 327.2M494.5 317.2L485.7 318.8M515.1 321.7L510.3 322.1M490.5 299.7L475.7 286.2M586.2 296.9L589.9 282.2M546.2 342.8L545.3 353.8M551.9 285.6L549.5 266.4M594 299.5L602.3 283.9M563.1 339.6L567.7 350.4M486.9 330.5L480 338.8M568.2 318.4L570.9 316.9M488.7 299.3L479.9 283M581 291.4L590.8 270.1M572.1 298.5L576.4 284M538.6 321L540.7 322.6M587.2 336.8L593.4 347.4M597.8 322.5L605.5 328.6M493.4 308L484.7 300.3M576.1 296.2L584.2 284.2M550.8 291.8L553.9 277.1M571.2 322.1L576 326.4M573.4 319.6L579.6 318.1M498.7 336.4L494.3 347.1M580.1 302.6L592.6 288.9M557 292.3L559.7 281.3M545.5 294.3L546.2 282.3M486.9 309.7L475.4 307M493.3 303.6L485.4 291.8M559.4 342.7L562.9 351.9M540.4 286.9L543.3 266.1M532.5 293.3L528.6 278.9M583 294.4L591 278.4M486.5 329.8L477.1 339.8M537.5 284.8L537.5 267.1M564 341.3L564.5 349.5M489.9 317.5L483.1 316M600.8 305.5L617.7 298.2M561.9 328L564.5 334.6M549.2 296.8L551.3 287.5M558.5 292.7L558.9 280M492.8 330.9L487.6 339.4M511.4 339.9L507.3 350.1M550.7 297.5L548.5 290.2M591.5 332.1L598.2 340.3M597.5 318.5L606.8 322.3M507.7 341.5L501.5 354M532.1 286.7L530.9 266.3M580.3 300.8L588.4 290.6M547.3 286.2L549.8 265.9M488.7 299.2L477.1 282.6M541.6 313.9L543.8 314.9M509.5 336.1L507.2 346.1M576.9 289.9L588.6 270M486.9 306.2L477.1 296M481.3 307.9L463.2 297.8M586 337.8L591 349.9M597.8 321L605.2 326.6M574.4 338.6L575.9 348.7M566.4 287.4L572.7 266M509.7 342L506.7 353.6M528 321L527.6 320.8M591 297L602.9 280.5M536.4 340L535.7 349.8M564.1 344.6L566.3 356.9M549.7 299.1L546.4 289.1M534.4 335.9L533 342.9M489.9 333.1L484.6 342.5M537.4 328.2L538.9 331.4M514 322.7L509.8 327.2M540.7 285.9L539.6 263.2M602.1 317.6L617.3 321.5M576.3 295.9L580.4 282.4M520.8 339.1L517.3 345.8M550.7 285.2L551.4 267.5M589.6 304.8L599.5 290.7M558.4 318.6L560.7 320.1M539.2 335.4L537.1 342.4M569.7 300.4L574.7 295.4M553.9 321.1L554.1 325.6M583.7 315.4L588.2 314.5M550.3 321.3L551 322.8M489.8 298.6L479.8 284.2M551.9 317.7L552.6 317M533.6 296.8L533 288.1M486.6 321.4L481.4 326.8M533.6 291.9L529.1 272M587.2 296.2L596.5 277.1M565.8 304.2L571.3 296.2M578.2 324.2L585.3 327.3M574.9 289.3L581.5 272.2M529.3 338.8L528.2 347.9M535.4 313.9L536.1 312.7M501.7 336.5L499.2 345.9M580.1 302.3L590.6 294.9M559.9 334.7L560.6 340.9M572.7 291.5L578.4 276.9M593.4 333.1L600.4 343.6M591.1 297.4L597.5 281.1M507.4 304.6L501.1 300.5M565.7 332.4L569.8 340.8M598.9 310.2L609.8 302.8M488.6 330.4L482.1 340.1M521.6 286.7L516.6 269.7M508 339.3L505.7 348.7M512.4 336.3L511.3 345.1M523.7 334.3L522.9 344.3M511.5 317.5L508.4 319.6M566.4 294.9L572.4 280.4M495 305.4L485.7 300.5M485.8 311L472.3 307.9M492.8 324.8L486.4 331.2M507.1 338.1L501.6 348.6M491 316.7L481 314.7M543.8 295L540.9 286.1M529.4 295.7L527.3 284.8M546.2 323.9L546.6 327.4M486 307.3L473.2 300.1M490.3 323.8L481.5 328.5M547.7 284.8L546.4 262.3M513 342.9L511.8 352.1M480.1 310.3L465 305.9M566.6 316.7L571.9 319.7M503.7 299.2L494.9 285.1M499.7 300.5L494.1 293.3M560.1 327.1L559.5 331.6M595.7 302.2L608.9 293M540.5 331.1L541.7 334.6M575.7 338.6L580.2 347.6M522.6 331L521.7 337.9M547.3 285L550.1 264.2M494.5 296.4L485.3 277.8M547.9 346.6L549.8 356.2M527.3 345.7L524.4 357.9M594.4 307.7L603.2 302.9M481.6 323.6L468.6 328.3M496 310.3L492.1 303.8M564 344.4L566.8 354.9M481 309.5L463.2 298M567.9 343.5L569.7 354.8M527.7 290.3L526.2 276.2M525.7 307.8L526.4 305.1M564.9 289.9L570.3 273.8M549.5 345.1L549 356.6M564 339.3L569.2 350.8M559.4 337L560.8 345.8M534 329.1L531.8 335.8M508.4 340.4L507.4 350.8M530.1 344.3L527.3 353.5M504.3 321.9L498.9 326.5M490.6 298.6L477.8 280.1M559.5 343.5L561.1 352.3M589.2 316.9L597 314.5M578.4 341L581 352M503.4 292.3L499.2 274.1M485.6 315.4L474.7 318.4M596.4 329.7L601.9 338.1M601.9 316.1L615.3 316.9M565.4 341.9L567.5 353.7M589 316L593.2 317.3M515.9 326.8L514.4 332.2M569.4 304.6L574.2 297.1M515.1 293.8L509.8 281.3M503.2 291.3L494.5 275.6M560.1 344.5L564.4 356.9M495.1 334.5L490.7 343.1M536.9 327.7L538.3 335.1M518.9 338.1L515.2 346.6M539.6 344.3L542.2 356.6M568.1 310.4L569.8 307.3M498.5 294.6L493.9 276.4M551.9 330.2L551.6 335.6M590.3 332.1L598.9 341.2M505.2 300.3L498.5 289M487 319.5L476.7 322.4M484.5 305.6L468.6 295M511.9 300.7L509.2 291.4M490 330.9L484.4 340.9M583.5 330.9L586.1 339.5M543.3 346.4L543.9 357.3M493.8 302.5L483.4 291.1M517 293L511.8 279.1M601.6 321.8L613.1 324.9M595.5 316.1L604.5 313.4M553.5 345.4L555.3 354.9M503.9 297.3L498.8 284.2M564.9 312.8L570.7 310M539.8 340.6L537.9 350.1M588.4 335.2L596.6 346M544.8 293.8L545.9 280.6M518.7 306.3L518 302.7M491.9 298.5L481.9 282.9M520.9 286.6L518.9 261.7M549.9 339.7L550.7 348.8M538.5 287.8L540.4 266.9M578.6 336L582.2 345.1M483.5 304.5L469.6 291.4M491.4 300.6L480.3 287.5M558.5 343.9L559 354.5M548.7 300.5L551.2 286.8M512 309.8L509.4 305.4M494.8 328.6L486.7 337.8M514.8 326.2L509.3 329.9M549.8 340.2L549.5 348.6M565.6 290.2L566.7 273M569.2 338.5L571.4 347.8M550.8 326.8L552.5 332.2M566.5 337.2L567.3 345.6M501.5 293.2L496.3 276.2M518.3 342.5L517.3 352.5M486 329.7L475.3 337M573 342.7L574.7 355.8M575.1 337.5L578.6 346.5M581.8 335.1L584.7 343.5M490.1 333.2L483.9 342.5M548.8 293.2L551.1 275.9M573.2 339L576.8 348.3M496.4 326.4L491.1 331.7M596.7 330.6L603.1 340.3M481 310.5L462.6 302.5M548.2 287.2L550.8 268.1M557.2 304.4L560.4 295.6M587.7 300.4L596.4 284.5M499.2 319.4L494.2 321.1M484.5 318.7L473.4 321M495 327.9L489.5 334.4M504.9 297.9L501.6 285M521 295.7L521.1 284.6M539.5 297.3L541.2 282.9M604.3 313.5L622.4 308.6M564.1 299.1L565.8 290.2M539.4 339.1L539.1 349.3M537.4 295.9L537.9 285.1M586.4 304L596.5 293.3M521.1 292.4L517.9 274.3M580.2 291.1L590 274.3M537.5 314.2L536.7 312.8M586.8 311.4L594.6 308.5M552.2 295.7L549.8 285.6M518.1 343.8L517.5 355M550.6 324L551.3 327.6M498.7 303.3L493.6 296.1M549 288.7L546.1 268.9M568.7 340.3L569.7 350.1M586.8 335.7L589.6 343.4M590.8 310.3L599 309.7M507.3 340.7L505 352.4M480.2 320.7L466.9 324M548.1 313.1L546.2 314M590.3 313.5L596.7 313.6M503 339.7L497.2 351.6M582.4 294.9L591.3 276.3M514.6 289.1L512.8 268.7M570 339.6L573.6 347.2M536 296.5L536.5 289M576.4 341.3L580.4 351.3M515.7 288.2L511.1 267.5M601.8 323.5L609.8 329.2M572.4 289.1L582 269.1M515.6 326.4L513 331.9M502.2 296.7L494.5 282.9M548.6 287.1L546.9 270.8M587.6 333.1L593.2 341M562 286.3L566.1 264.7M534.3 330.4L534.4 336.2M530.1 288.6L529.4 271.9M499.9 337.7L494.4 349.2M574.3 320.6L580.4 321.7M519.1 315.6L516.2 316.8M578.4 338L580.9 346.6M494.3 297.1L484.4 284.8M600.1 316.6L610.9 316.2M527.3 336L524.9 346M486.1 303.4L471.4 289.4M509.6 336.6L506.8 345.6M530.2 322.4L531.3 324.5M506.2 323.7L503.3 324.7M494.3 295.9L480.3 282" stroke="#3a86b0" stroke-width="0.9" fill="none"/><path d="M551.2 287.3L549.9 269.3M517.1 326.5L516.1 333.4M522 328.5L515.3 334.3M539.7 302.4L537.5 292.5M530.5 292.6L526.5 274.5M487.6 331.1L477.5 341.5M591 334.4L598.6 346M589.4 305L599.5 291.5M509.6 320.5L499.9 323.2M498 308.9L488.2 306M552.5 313.8L555.1 310.8M524.5 298.2L525.8 285.9M564.4 297.9L567.2 282.5M594.8 299.8L604 285.8M580.5 303.4L586.5 297.6M480 321.1L463.7 326.3M508 317L497.5 318.7M505.6 325.1L500.4 331.9M503.2 294.8L493.3 280.9M576.9 291.1L586.5 272.2M603.5 321.9L616 327.1M519 331.7L516.5 341.6M568.4 333.9L570.5 341.9M528.7 302.5L526.3 294.6M539.8 346.6L541.1 359.3M497.6 294.4L488.3 279.5M602.1 317.6L614.8 321.6M525.9 288.3L521.6 268.1M483.8 311.8L471.2 304.4M510.6 295.7L508.2 284.5M552.6 312.9L558.9 312M573.4 293.7L580.5 277.8M536.5 333.3L536.3 341.8M492.2 329.6L485.3 340.1M484 310.8L469.9 308.1M538 309.6L538.5 299.5M552.7 338.6L553.1 349.8M518.1 307.1L514.5 297.4M595 332.4L601.9 343.9M549 295.7L552.4 276.3M527 316.7L520.1 320.1M550.2 326.8L549.3 334.4M548.7 339.4L549.7 349.4M587 334.6L591.5 345.3M480.5 317.2L467 320.7M541.5 344.3L543.4 354.5M499.3 335.6L496.2 347.7M598.3 316L612.4 311.9M582.8 302L592.5 294.1M559.5 327.1L561.5 333.8M574.7 325.3L582.5 330.2M524.3 297L517.9 284.3M594.7 309.6L607.3 306.5M599.6 310.2L613.3 304.6M575.9 318.1L582.9 320.2M558 290L560.2 271M490.4 299.5L476.1 288.6M560 307.6L566.4 303.4M530.1 302.9L530.2 288.7M530.6 295.3L531.8 276.9M536 296.5L536 285.4M578.4 334L584.5 344.7M493.4 321.6L487.2 326.2M587.2 298.3L593.9 276.7M534.6 344.3L535.2 354M516.1 291.8L512.2 270.1M570 343.2L574.4 352.7M515.9 302.1L512.4 292.4M550.7 345.1L553.2 357.7M504.9 340.7L502.6 354M533.7 344.8L533 358.3M558.8 300.6L562 286.9M582.9 335.5L589.1 346.8M490.4 301.2L478.1 285.9M565.9 325.4L572.6 330.9M481.2 309.7L462.2 305.1M520.9 312.8L511.6 312.9M518.9 302.6L512.3 292.8M485.2 329.1L477.9 337.7M575.3 340.8L580 349.8M573.9 294.1L580.6 280.2M590 300L600.3 283.4M570.2 342.6L575.9 353.7M574.7 296L580.2 281.1M569.6 288L571.1 266.5M578.2 294.9L584.4 278.3M520.2 307L511 300.9M590.2 300.8L601.2 288.4M602.5 319.1L620.5 321.4M538.3 341L537.9 352.5M549.6 337.6L551.9 347.1M532.6 345.2L532.6 358.5M559.8 286L566.2 261.6M565.2 310.9L573 309.4M502.2 332.1L497.7 340.7M521.7 343.2L521.5 354.6M544.9 332.1L543.3 340.6M511.5 290.8L506.8 273.8M510.7 298L502.3 282.4M554.9 345.9L557 358.4M480.6 322.4L464.6 327.5M600.8 314.3L614.6 313.4M503.7 340L495.4 351.1M522.5 288.4L521.4 266.4M555.2 292.1L558 277.4M547.5 309.1L554.4 302M507.7 311.3L498.3 308.3M564.6 291.5L572.8 272.5M544.1 289.8L546.3 269.5M496.6 312.4L486.1 310.5M603.2 317L616.5 321.3M520.1 343.1L518.8 353.2M505.7 301.5L501.7 286.6M550.4 316L558.2 317.9M483.8 303.8L469.8 292.8M547.6 289.7L545.8 275.9M505.5 300.5L496.5 288.5M546.7 325L545.9 331.9M519.8 286.7L513.3 263.4M573.5 336.2L578 345.1M569.4 295.9L570.7 282.4M533.7 290.7L526.5 275M564.6 343.6L567 356.4M513.1 308.7L505.2 302.5M539.9 292.7L537.6 277M571.3 332.7L571.6 341.1M542.4 293.3L542.6 277.6M564.6 313L571.4 309.6M570 307.9L577.5 306.2M518.8 301.9L515.5 289.7M537.1 300L538 288.6M517.1 344.1L513.7 354.4M597.7 321.6L609.3 327.6M601.2 308.9L615.2 300.1M583.1 336.3L587.4 346.1M487 329.5L476.6 340.1M521.1 303.9L520.4 294.1M545.3 290.8L546.3 269.2M584 336.8L587.3 348.3M479.9 313.1L467.2 308.1M581.6 329L586.2 337.5M556.1 286.6L563.4 263.3M567.2 306.4L576.7 294.9M547.4 293.5L553.3 272.1M588.4 323.9L592.6 330.7M582.7 313.5L590.6 310.1M488.3 327.5L482.6 335.1M494.3 323.1L489.2 329.6M569.8 288.3L576.6 269.7M481.4 308L466.2 297M567.7 343.2L571.3 356.4M589.1 309.7L598 305.6M604.3 319.4L621.8 321.1M529.2 321.2L521.9 325.2M596 310.9L605.3 308.8M483.8 317.7L471.5 320.6M546.2 287.6L548.1 267M565.2 339.8L570.5 350.9M510.9 342.3L506.7 351.9M573.9 325.6L578.7 333.6M523.4 342.5L517.2 355.3M593.5 323.5L599.3 329.6M599.2 328.5L606.9 336.7M498.7 294.2L487.8 277.1M558.2 335.7L561.9 342.3M524.4 341.6L522.8 352.6M499.2 338.4L495 349.9M481.8 320.7L469.8 327.2M565.1 286.9L569.7 268.8M569.3 340.9L571.5 350.5M542.4 318.4L540.8 320.8M487.5 313.9L475.4 315.9M596.5 310.1L612 302.3M554.5 296.2L555.2 283.8M503.5 296.9L494.7 283.8M505.5 312.3L495.9 306M583.5 298.4L595.7 286.7M604.1 320.7L616 328.3M597.7 304.8L615.4 291.6M566.8 339.7L572.7 351M512.7 340L507.4 352.7M602 324.8L614.6 334.3M494.6 336.1L490.7 345.8M568 324.4L574.9 327.5M561.1 289.5L563.9 272.7M514.4 309.9L504.6 307M577.8 311.2L586.6 305.9M522.6 313.4L513.9 311.9M598.5 327.6L608.3 335.2M549 295.4L548 281.7M508.4 290.2L506.2 265M480.8 309.3L466.4 301M495.8 335L490.7 345.1M544.7 289.6L542.4 270.3M495.7 295L488.8 277.6M552 346.3L552.1 357.5M509.9 311.4L503.3 306.4M505.4 293.2L499.4 277M501.1 335.3L493.1 346.1M536 328.8L536.6 335.3M559.8 292.3L561.8 277.7M487.9 329.7L476.3 339.6M592.2 330L599.2 338.1M561.5 337.7L565.6 345.1M601.3 312.3L615.3 306.5M500.8 336.4L498 348.4M585.3 294.1L593.1 275.4M522 291L515 277.8M570.9 288.6L580.3 264.8M600.9 306.8L618.2 294.8M524.6 345L524.8 357.5M583.8 314.5L592.1 313.7M568.7 332.9L571.3 343M552.8 345.3L557.5 358.3M552.8 302.2L555.4 293.6M557.1 344.1L557.6 354.3M535.2 324.8L536.7 332.1M508.4 338.6L503.9 349.7M511.7 288.7L502.1 266.8M556.1 285.6L559.3 266.7M493.8 324.6L485.9 329.6M482.4 325.7L467.5 333.5M599.9 323.5L608 331.5M559.6 316.6L569.8 318M523.3 344.9L522.3 358.6M520.1 319.7L514.1 325.5M568.4 343.5L572.9 355.7M493.7 314.7L484.2 310.8M578.8 332.6L589.4 341M533.6 305.8L528.1 299M511 321L503.9 327.4M539 305.3L536.7 293.8M603.8 317.2L617.2 318.3M514 318.5L505.3 316.5M572.5 289.8L582.6 272.8M508.1 314.8L500.3 318.7M525 338.3L522.9 348.1M566.7 305.6L573.4 297.4M594.3 298.8L601.7 282.1M603.2 323L617.9 329.8M581.6 329.6L587.3 336.9M524 325.2L520.5 333.3M487.7 320.7L475.5 326.8M549.1 325.7L548.8 333.1M542.2 304L543.8 294.8M483.4 312L468 307.4M558.9 319.8L564.4 322.3M588.2 314.6L597.9 316.3M566.6 330.9L573.1 339.9M515.8 326.6L511.8 332.8M524.6 320.5L514.9 323.7M574.1 336L579.5 343.8M506.8 335.9L503.8 344.5M556 344.9L558.8 357.9M574 341.8L576.4 354M513.8 288L508 270.9M496.1 299.3L490.1 289.6M527.4 294.1L521.8 282.5M548.5 346.5L548.7 356.3M534.6 334.4L530.7 344.2M603.1 319L616.5 322.1M526.1 343.8L525.2 355.4M577.5 341.3L580.2 354.4M569 301.6L576.7 296.2M506.6 328.9L502.4 335.6M557 338.2L560 347.3M484.2 310L468.6 307M555.6 306L557.1 297.1M594.8 330L602.3 338.3M550.5 329.6L550.4 338.5M517.1 288.3L514.9 269.8M539.9 317.4L532.8 321.4M587 337.3L591.7 349.4M499.3 338.2L491.8 348.1M600.1 321.3L612.1 328.3M522.8 289L515.6 272.3M573.8 326.3L575.1 334.3M571.7 289.8L576.6 267.7M585.9 294.4L595.6 277M505.8 341L503.7 352.1M482 316.9L468.7 313.1M497.4 329.9L491 337.7M596.6 321.3L604.8 326.2M589 301.3L598.4 290.3M516.6 321.5L508.4 324.9M563 332L568.5 337.3M536.9 328.6L534.1 336.8M480.1 312.4L460.5 308.1M527.2 332.3L523.5 341.5M480.8 313.9L461.5 309M589.2 301.3L597.3 285.5M485.8 329.6L475.2 340.7M537.3 286.6L540.4 269.6M590.1 328.6L597.4 334M550.8 285.7L550.3 267M560.4 286.1L559.5 266.1M578.3 292.7L584.7 271.6M572.6 288.9L579.4 269.7M495.5 296.7L485.7 281M527.7 293.6L527.5 280.5M512.7 343.1L510.4 352.8M492.4 333.3L486.8 343.6M521 336.2L516.3 344.8M524 288.9L521.2 274.1M604.3 311.3L625 304.8M543.4 341.9L546.5 353.1M483.3 324.1L469 329M582 292.3L585.4 275M551.1 308.1L556 301.3M514.4 288L513.3 266.9M484.1 327.9L473.8 334.1M482.2 318.1L468.4 322.6M487.8 320.4L478 325.2M562 293.8L561.2 274.5M521.8 314.3L513.7 315.8M535.8 300.3L535.2 292.2M552.8 345.5L555.3 358.5M564.7 325.9L569 331.5M479.9 312L463.9 306.2M515.7 317.1L505.3 318.4M480 316.3L463.5 315.9M593.7 320.3L601.5 321.1M544 284.9L544 263.2M553.8 345.9L554.7 356.1M564.3 290L564.7 267.6M556.4 290.8L559.9 270.3M510.7 336.2L504.7 345.8M566.3 339.8L566.1 351.4M505.2 302.4L497.3 291.7M554.2 316.4L565 316M500 329.3L491.4 338.1M591.6 323.1L600.2 326.6M582.5 291.9L589.9 272.1M550.3 297.4L553 280.7M487.1 330.9L480.6 340.1M563 342.4L567 352.2M502.1 305.4L494.2 299M515.6 310.9L508.5 304.1M561 318.4L567 322.2M573 305.5L580.9 298.9M515.8 306.1L507.1 300.2M496.4 304.6L488.2 294.4M542 301L538.7 292.1M596.5 302.6L609 286.5M552.3 341.6L555.6 351.9M577.5 341.2L580.8 354.6M561.1 339.9L561.4 352.4M485.5 327.5L477 335.2M598.7 322.4L610.3 330M494.2 334.2L485 344.8M505.7 339.2L501.7 348.7M544.8 285L543.2 261.7M596.2 300.8L612.9 288.9M585.6 320.4L590.7 326.1M595.3 317.9L605.3 316.2M503.6 340L500.7 351.8M511.2 317.6L506.6 322M508.7 289.8L503.8 270.4M578.9 298.8L583.5 284.4M549.6 335.7L552.6 343.8M591.6 306.8L604.8 296M588.2 300.7L596.2 288.2M515.2 307.5L507.2 303.4M493 305.9L480.4 294.1M565.8 291.1L573.1 278.1M559.1 321.7L565.9 328.1M568 318.8L578.5 320.9M582.6 292.1L594.6 274.7M557.1 286.1L563.1 261.5M551.8 299.6L551.5 289.8M520.9 344.1L520 357.9M556.5 328.8L561.2 334.9M523.8 344.2L523.8 357.9M510.6 342.6L507.4 354.5M529.7 296.9L527 280.5M581.4 324.6L588.8 332.1M515.2 342.3L512.9 354.2M523.5 331.3L522.1 340.7M576.4 320.8L582.3 325.7M502.6 329.3L498 340.1M561.5 287L563.2 266.7M494 327.4L481.7 335.4M516.2 330L509.7 337.3M556.6 334.4L558.4 343.6M580.2 305.2L590 298.5M553.8 292.5L556.4 277.8M488.8 299.1L474 280.3M505 339.9L501.1 351.4M524.7 345.3L521.9 354.9M539.2 338.8L541.1 349.3M539 319.7L539 328.4M596.7 305.9L608.6 298.8M547.9 303.8L552 295.6M537.3 326.6L538.4 332.7M562.4 309.1L570.7 301.3M479.8 314L464.3 309.5M486.8 318.2L473.6 318M529.9 341.2L527.5 351.9M486.9 311.8L470.8 303.3M520.1 321.7L512.2 325.4M551.1 346L551.2 357.6M533.5 287.9L530.1 263.4M571.7 302.6L578.1 291M515.3 310.8L506.6 307.4M577.2 341.2L579.1 352.3M598.9 329L607.2 339.5M518.2 329.5L510.9 335.2M493 323.1L482 327.3M482.9 305L468.2 297.8M518.2 308.9L510.1 303.5M601.6 325.7L613.1 335.3M505.6 331.6L498.3 339.8M582.7 327.2L587.4 333.2M588.5 303.7L596.4 289.9M532.5 296L530.6 280.6M555.2 287.3L556.8 267.3M597.1 315.2L607.9 312.5M590.2 312.8L598.1 310.6M546.2 310.5L550.1 302.2M524.5 326.7L520.2 332.2M584.7 300.4L590.4 289.4M505.4 317.5L496.6 321M541 294.8L537.2 282.2M552.3 285.1L549.6 263.2M487.1 301.3L474 286.5M557.2 306.9L563 301.5M570.9 314.2L579.7 314M480 316.9L463.4 314.3M500.6 293.4L494 275.6M595 320.1L606.1 326.9M541.1 288.8L540.4 272.2M528.5 286.5L527.3 266.1M500.5 326.5L495.6 335.7M570.7 342.3L572.8 352.7M577.3 300.1L583.6 291M511.1 335.1L510.2 347.5M513.2 289.3L502.7 268.2M555.3 286.1L556.2 263.6M560.8 291.2L559.6 275.1M590.7 332.8L594.3 343.2M581.3 294.7L589.5 275.3M490.5 316.5L477.8 313M492.1 332.5L482 342.6M496.6 295.4L491.1 272.7M483.4 324.8L472.2 330.3M488.5 304.6L478.5 290.5M542.5 333.8L542.8 341.6M551.7 299.4L551.5 287.8M511.8 322.2L503.6 324M542.9 345.9L545.3 358.5M515.7 306.7L510.1 300M593.1 301.8L603.4 286.5M534.3 343.9L530.8 354.6M577.2 338.3L581 350.9M595 300L606 285M554.2 337.3L553.4 347.9M511.6 331L508.9 341.2M575.3 294.8L587.8 278.1M496.5 337.1L489.4 347.3M556.5 305.9L557.3 296.5M568.7 288.7L573.3 267M604.1 320.3L618.4 326.2M508.1 318L500.1 319.8M480.5 318.3L463.4 318.2M515.4 306.1L506.8 295.4M484 313L470.2 310.4M492.2 307L485.3 295.6M581.2 318.6L588.5 322.2M526.1 294.2L526.2 281.9M507.2 338.9L501.4 350.6M485.2 316.4L471.4 316.7M587.5 317.5L595.3 319.4M497.2 321.1L490 326.2M505.3 307L497.4 300.8M518.2 318.8L509.3 321M582.6 314.6L591.7 312.2M563.6 329.6L564.1 337.4M484.1 306.8L472 298.4M568.9 289.1L576.9 274M485.9 326.6L475.8 331.8M598.6 317.4L615.7 315.6M529 343.2L530.4 352.3M585.9 314.3L600.8 312.9M492.9 332.9L487.3 344.4M573.6 324.9L579.1 330.8M536 287.3L538.1 265.5M498 325.6L489.5 329M514 315.3L507.7 318.4M594.1 333L599.7 342.5M527.7 335.6L527.6 345.7M583.2 299.7L586.9 287.4M505.1 327.9L501.5 335.1M553.2 344.7L552.5 354.4M493.1 327.9L480.5 334.4M575.3 305.9L585 300.3M504.5 313L494.9 312.7M536.5 313.7L529.6 310.1M533.6 285.1L534.8 263.9M552.6 337.8L552.2 347.5M503.3 334.4L501.3 344M585 334.3L590.2 344.4M528.3 320.2L524.1 322.4M556.9 307.5L561.8 298.2M595.4 318.3L606.1 322.7M587.3 337L594 345.8M536.4 289.5L531.8 268.8M547.8 345.2L546.4 355.3M592.8 334.1L600.1 343.4M553.6 291L559.3 275.4M568.4 320.8L574.6 324.7M597.4 315.6L607.5 314.8M518 288.5L517.9 269.4M564.6 297.9L568.6 286.2M539.7 287.2L540.6 268.5M571.3 300.4L577.2 288.2M490.8 332.4L485.6 345.2M569 334.3L575.4 343.9M524.1 293.5L520.8 273M545.3 343.7L545.6 353M501.8 332.3L495.6 340.4M585.4 313.8L598.1 312M508.6 308.4L502.1 301.4M520.2 326.6L516.5 332M573.7 333L576.4 343.3M512.8 333.6L510.1 340.7M483.9 303.7L470.2 289.3M524.2 345.4L522.8 356.9M581.7 334.2L588 344.3M564.8 343.2L566.6 355.5M523.9 286.8L521.2 262.4M560.6 331.4L562.5 340M593.7 315L602.5 315.1M571.7 339.6L573.1 351.9M495.5 326L487.8 334M593 303.6L600.5 290.2M583.3 300.1L587.9 289.8M487.5 319L471.5 322.6M485.2 305.2L475.1 292.3M522.7 290.7L522 273.5M599.4 317.8L613.9 314.1M503.2 312.4L495.2 313.1M539.9 284.7L541.1 265.8M490 333.2L482.4 345.4M546 290.5L550.7 273.5M555 288.4L561.3 270.9M534.5 330.3L534.2 340.4M532.2 291.3L529 276.1M582.2 326.8L585.4 334.4M560.5 343.5L560.6 354.3M587.7 305.1L594.6 299.5M504.8 290.7L497.9 271.2M485.3 318.8L471.8 324M553 296.3L552.1 279.6M552.8 301.6L559.9 292.6M480.2 319.4L461.6 320.6M512.3 336.5L508.5 347.8M555.4 291.6L556.4 271.5M546.4 332.9L549.6 344M500.4 323.6L491.2 328.2M580.4 291.1L586.7 273.2M533.2 333.8L532.6 343M543.6 346.7L540.7 360.2M497.4 312.6L490 313.5M501.7 299.9L496.9 284.2M584 314.3L594.2 314.7M572.5 325.9L577.2 331.8M601.6 305.7L620.6 296.4M507.3 295.7L505.5 284.4M503.1 304.3L498.2 292.2M584 294.7L593.8 275.8M503.6 334.6L495.8 342.9M558 288.4L566.7 266.5M545.8 310.2L545.6 299.3M503.4 297.6L498.7 282.1M553.6 289.3L558.6 271.7M493.5 309L481.8 301.8M517.4 307.2L516 298.7M546.1 305.9L543.3 297.1M566.8 341.8L570.1 351.6M520.7 323.5L515.5 328.9M540.6 342.1L537.9 353.7M523.2 336.7L520 345.8M579.4 326.4L585.7 333.4M496.5 330.9L487.9 339.5M598.4 302.7L612 293.6M577.4 297.2L587.1 284.6M596.2 314.4L608.7 310.1M555.3 316.3L562 318.6M583.3 329.9L589.3 339.7M530.8 320.3L526.2 326.2M481.2 309.6L466.2 298.7" stroke="#3a86b0" stroke-width="0.9" fill="none"/></g></g></g>
<path d="M579.5 324.1L588 328.9M527.9 332.6L529 337.3M592.5 298.1L607 285.2M596.5 327.4L605.2 332.9M594.2 314.8L603.9 312.3M553.6 292.6L553.4 278M603.5 321.7L616.6 323.7M514.4 342.8L513.4 354.8M584.8 293.1L598 274M583.9 311.4L589 306.7M555.2 286.4L561 264.9M602 322.4L611.8 328.7M514.9 293.3L514 278.6M529.7 336.5L527.2 344.2M563.1 337.1L565.5 343.3M600.6 321.1L608.8 326.6M540.8 296.7L544 283.4M505 339.5L503.2 350.3M572.1 299.1L578.1 290.7M493.8 335.5L486.2 346.6M494.2 295.6L482.1 279.8M486.5 323.8L479.2 328.6M530.8 294L529.8 281.6M485.4 307.5L470.3 301.6M582.1 292.8L592.5 273.3M507.3 329.5L502.4 333.9M534 286.5L531.6 270.1M585.7 305.6L591.4 295.6M519.9 307.8L515.1 305.9M603.5 309.1L618.7 306.2M549.5 319.9L551.8 320.2M547.3 321.4L546.4 326M597.5 318.8L607.3 324.4M555.7 305.1L558.5 299.4M505 339.9L501.5 349.1M481.5 323.6L470.8 332.4M556.8 332.6L557.2 339.4M533.9 293.9L529.4 277.2M566.7 340.3L568.4 350.6M587.2 337.2L593.6 347.9M489.5 331.4L482.5 342.6M496.1 296.7L486 283.8M568.7 293.5L573.8 278.7M584.5 303.5L591.6 295.5M554.9 332.4L554.7 338.7M493.9 319L485.4 320M567.8 319.3L568.7 321.4M523.9 344.1L523.7 353.1M545.3 285L549.5 260.8M566.8 344.2L568.9 356.5M562.9 324.9L566.1 325.5M504.9 334.8L501.2 342.8M489.2 330.4L483.5 337.6M530.2 338.5L529.6 346.6M480.3 318.9L467.5 318.8M534 290.2L536 275.5M526 290.9L528 274.6M585.8 293.6L590.6 275.8M507.7 329.8L505.8 334.7M600.9 325.4L610 329.9M542.1 301.7L540.6 293.9M601.2 307.2L616.6 300.6M596.5 306L606.3 296.7M571.9 337.9L576.9 345M580.5 323.2L582.2 328.3M558.7 290.9L560.1 274.7M521.5 292L516 278M498.6 329.1L492.8 333.8M600.1 303.8L611.7 287.1M534.1 292.1L534.3 273.9M586.6 306.9L593 302.9M576 290.9L584.3 271.6M571.6 311.6L577.3 307.9M604.6 314.7L622.1 313.9M520.5 328.8L519.5 333.2M534.5 310L532.6 310.4M498.8 319.5L492.6 321.6M556.9 331.5L557.8 340.5M565.5 343.3L569.9 355.1M492.4 332.9L486.4 341M503 332.6L496.8 340.2M565 338.4L566 348M563.4 329.5L567.4 336.9M581.8 338.5L587.8 348.3M588.3 334.7L594.4 342.5M498.8 302.9L488.2 293.5M527.5 304.2L527.1 297.6M545.3 299.6L549.1 288.7M524.7 287L522.4 263.7M593.8 302.8L603.2 287.8M513.9 294.1L511.1 276.8M504 340.1L498 351.2M505.1 340.7L498.9 352.4M479 316.9L466.5 320.6M530.7 307.1L527 305.6M492 320.4L486.6 325.4M545.2 341.7L544.2 350.7M542.1 285.9L546 266.5M502.8 306.1L495.1 299M556.7 326.6L560 330.3M544.8 287.6L548.8 270.3M518.1 304.3L513.8 294.6M539.4 328.9L541.6 334.2M566.4 287.9L567.1 268.3M498.8 297.6L493.1 284.9M481 318.5L468.6 323.4M541.5 313.9L540.4 310.5M483 326.5L473.5 335.4M578.9 324.5L582.8 329M499.9 307.4L493.2 305.2M543.2 323.3L545 325.1M555.4 345.2L557.1 354.3M525 335L521.3 341.3M572.5 332L575.2 339.6M528.8 285.5L529.6 266.6M598.8 326.9L609.5 335.9M599.9 305L616 296M523 298.3L524 289M513.7 342.6L510.3 351.6M533.9 297.9L533.2 287.8M547.9 288.6L549 274.1M483.6 313.5L471.8 313.9M587.1 294.4L599.9 274.6M604.1 315.5L624 312.4M486.9 311L472.8 307.3M565.4 312.7L568.5 312M484.5 322.5L472.1 328.6M555.9 311.3L555.1 305.9M559.9 311.9L562.6 310.6M603.6 321.5L614.3 326.7M507.8 340.2L503 349.9M490.3 309.7L481.2 307.3M582.3 296L591.2 276.9M502 302.1L498.1 292.5M566.6 330.8L570.6 336.9M527.1 319.2L526.1 322.2M489.8 303.9L481 293.1M572.5 316.4L576.3 318.5M486.2 322.7L479.3 329.4M513.5 289.3L509 271.9M506.7 314.2L504.9 313M547.9 285.2L547.3 266.9M523.5 333.6L521.6 339.6M495.6 309.6L485.8 303.1M596.7 313.5L605.5 312.9M602.6 315.4L613.2 313.5M498.9 302.2L494.9 295.2M577.5 334L583.4 343.3M516.5 307.7L511.7 304.1M556.7 288.4L557.3 271.1M485.1 302.6L469.8 284.4M525.4 312.4L520.9 308.5M597.9 313L611.2 308.9M486.7 307.3L472.9 296.3M584.6 294.7L591.9 282.4M541.2 326.3L539.1 331.1M553.9 334.7L557.9 343.5M487.1 311L477.5 304.1M572.9 298.1L577.2 287.3M589.6 300.6L594.6 287.8M583 329.2L588.5 336.3M585 317.6L593.3 315.5M517.8 339L513.5 348M560.6 326.2L560.2 330.6M565 332.4L569.4 338.9M591.1 333.6L596.2 341.7M555.2 287.5L560.1 269.7M484.3 328.1L475.2 337.8M581 302.6L588.3 289.5M604.6 319.2L619.5 320.3M481.9 322.5L470.3 326.8M500.2 338.5L494.1 348.8M580.5 304.8L584.6 296.8M550.5 304.1L554.1 298.3M497 331.6L490.7 341.7M493 324.1L488.7 330.4M480.3 310.1L462.6 306.6M582.4 296.7L589.6 282.7M577.4 308.1L580.6 303.8M602.7 323L616.6 328.8M496.5 335.9L492.1 346.1M528 298.9L527.4 286.7M556.7 310.5L558 309.7M520.3 290.8L521 271M528 286.6L524.9 265.3M567.5 299L572.2 287.7M496.3 332.2L489.8 337.4M539.7 331.3L539.4 336.5M487.4 301.1L471.1 288.2M555.3 345.9L555.6 358.7M562.5 337.2L565.9 343.6M595.5 328L603 334.3M568.5 296.4L576.5 282.9M564.3 298.6L564.6 282.7M540.7 322.8L537.7 325.8M597.1 302.2L611.8 290.3M534.1 345L534.6 357.9M566 318.7L566.2 319.7M521.8 334.7L518.7 342M526.9 345.3L526.3 357.6M520 302.6L517.7 298.3M595.9 300.8L606.8 288M592.3 297L602 281.9M545.4 289.8L544.3 269.1M537.7 336.1L534.7 344.8M524.1 333L522.9 339.6M501 294.6L492.6 278M493.9 303.1L481.5 294.2M594 327.6L602.1 332.8M514.8 343.5L513.4 352.8M561.1 312.4L566.8 312.5M577.6 290.9L588.3 272.2M493.9 332.1L488.5 340.4M496.7 337.2L490.6 349.7M603.6 309.5L618 301.3M558.3 315.6L559.6 312.4M587.3 304.8L597.2 296.5M512.3 316.3L507.4 318M584.4 298.6L596.4 285.7M586.5 293.8L598.2 278.8M484.2 309L472.3 301.8M600.4 315L614.5 312.5M538.6 285L540.1 260.5M583.1 293.6L587.8 278.2M550.3 314.3L551.9 314.6M590.8 329.9L595.3 337.7M558.1 320L557.2 319.5M499.1 297.5L490 284.1M483.8 306.6L468.6 299.7M569.2 337L570.9 344.3M488.2 315.4L479.5 316.4M528.2 310.3L529.9 306.1M553 294.7L553.6 282.7M564.6 310.6L564.2 305.6M589.3 329.6L596.7 335.8M514.2 288.9L507 270.4M520.8 310.5L515.2 309.9M529.1 311.2L525.2 308.3M592.4 321.3L600.3 325.1M522.1 344.5L520 353.5M543.6 346.2L544.5 358.3M602.2 312.9L617.4 310.3M569.3 293.1L571.4 278.9M522.6 286.2L516 264.4M558.3 302.1L558.8 294.8M531.7 286L533 263.5M587.3 308.8L598.6 304.4M594.9 331.2L600.1 339.3M504.1 320.2L499.5 324.9M601.2 325.8L612 330.9M523.2 302.4L519 298.7M530.9 293.8L529.4 278.7M494.8 298.2L482.8 283.1M510.5 326.4L506.7 330.2M563.3 288.2L562.6 270M516 308.5L511.6 304.5M572.5 289.2L575.6 264.2M534.4 346.5L531.4 355.8M484.5 304L469.9 293.4M594.2 304.2L604.7 287.4M591.5 332.6L600.1 342.8M560 290L559.8 272.1M527.2 290.5L527.8 269.1M580.9 338.4L587.8 348M558 344.5L559.3 353.6M550.1 299.2L553.5 293.1M519.2 325L515.7 328.4M558.6 337.5L558.2 346M540.6 307L536.6 304M540.7 344.1L539.3 352.3M480.3 310.2L466.4 305.2M554.1 305.4L559.1 302.6M519.5 342.5L517.9 354.3M558.2 286.6L556.8 267.6M569.5 288L572.1 262.7M573.3 342.4L574.1 354.2M553.3 335.1L555.3 344.2M584 292.7L589.2 269.3M574 317.7L575.8 320M547.4 310.5L549.9 305.4M544.6 296L541.4 284.7M525 343.3L521.2 354M548.7 324.5L549.7 327.2M494.5 317.2L485.7 318.8M515.1 321.7L510.3 322.1M490.5 299.7L475.7 286.2M586.2 296.9L589.9 282.2M546.2 342.8L545.3 353.8M551.9 285.6L549.5 266.4M594 299.5L602.3 283.9M563.1 339.6L567.7 350.4M486.9 330.5L480 338.8M568.2 318.4L570.9 316.9M488.7 299.3L479.9 283M581 291.4L590.8 270.1M572.1 298.5L576.4 284M538.6 321L540.7 322.6M587.2 336.8L593.4 347.4M597.8 322.5L605.5 328.6M493.4 308L484.7 300.3M576.1 296.2L584.2 284.2M550.8 291.8L553.9 277.1M571.2 322.1L576 326.4M573.4 319.6L579.6 318.1M498.7 336.4L494.3 347.1M580.1 302.6L592.6 288.9M557 292.3L559.7 281.3M545.5 294.3L546.2 282.3M486.9 309.7L475.4 307M493.3 303.6L485.4 291.8M559.4 342.7L562.9 351.9M540.4 286.9L543.3 266.1M532.5 293.3L528.6 278.9M583 294.4L591 278.4M486.5 329.8L477.1 339.8M537.5 284.8L537.5 267.1M564 341.3L564.5 349.5M489.9 317.5L483.1 316M600.8 305.5L617.7 298.2M561.9 328L564.5 334.6M549.2 296.8L551.3 287.5M558.5 292.7L558.9 280M492.8 330.9L487.6 339.4M511.4 339.9L507.3 350.1M550.7 297.5L548.5 290.2M591.5 332.1L598.2 340.3M597.5 318.5L606.8 322.3M507.7 341.5L501.5 354M532.1 286.7L530.9 266.3M580.3 300.8L588.4 290.6M547.3 286.2L549.8 265.9M488.7 299.2L477.1 282.6M541.6 313.9L543.8 314.9M509.5 336.1L507.2 346.1M576.9 289.9L588.6 270M486.9 306.2L477.1 296M481.3 307.9L463.2 297.8M586 337.8L591 349.9M597.8 321L605.2 326.6M574.4 338.6L575.9 348.7M566.4 287.4L572.7 266M509.7 342L506.7 353.6M528 321L527.6 320.8M591 297L602.9 280.5M536.4 340L535.7 349.8M564.1 344.6L566.3 356.9M549.7 299.1L546.4 289.1M534.4 335.9L533 342.9M489.9 333.1L484.6 342.5M537.4 328.2L538.9 331.4M514 322.7L509.8 327.2M540.7 285.9L539.6 263.2M602.1 317.6L617.3 321.5M576.3 295.9L580.4 282.4M520.8 339.1L517.3 345.8M550.7 285.2L551.4 267.5M589.6 304.8L599.5 290.7M558.4 318.6L560.7 320.1M539.2 335.4L537.1 342.4M569.7 300.4L574.7 295.4M553.9 321.1L554.1 325.6M583.7 315.4L588.2 314.5M550.3 321.3L551 322.8M489.8 298.6L479.8 284.2M551.9 317.7L552.6 317M533.6 296.8L533 288.1M486.6 321.4L481.4 326.8M533.6 291.9L529.1 272M587.2 296.2L596.5 277.1M565.8 304.2L571.3 296.2M578.2 324.2L585.3 327.3M574.9 289.3L581.5 272.2M529.3 338.8L528.2 347.9M535.4 313.9L536.1 312.7M501.7 336.5L499.2 345.9M580.1 302.3L590.6 294.9M559.9 334.7L560.6 340.9M572.7 291.5L578.4 276.9M593.4 333.1L600.4 343.6M591.1 297.4L597.5 281.1M507.4 304.6L501.1 300.5M565.7 332.4L569.8 340.8M598.9 310.2L609.8 302.8M488.6 330.4L482.1 340.1M521.6 286.7L516.6 269.7M508 339.3L505.7 348.7M512.4 336.3L511.3 345.1M523.7 334.3L522.9 344.3M511.5 317.5L508.4 319.6M566.4 294.9L572.4 280.4M495 305.4L485.7 300.5M485.8 311L472.3 307.9M492.8 324.8L486.4 331.2M507.1 338.1L501.6 348.6M491 316.7L481 314.7M543.8 295L540.9 286.1M529.4 295.7L527.3 284.8M546.2 323.9L546.6 327.4M486 307.3L473.2 300.1M490.3 323.8L481.5 328.5M547.7 284.8L546.4 262.3M513 342.9L511.8 352.1M480.1 310.3L465 305.9M566.6 316.7L571.9 319.7M503.7 299.2L494.9 285.1M499.7 300.5L494.1 293.3M560.1 327.1L559.5 331.6M595.7 302.2L608.9 293M540.5 331.1L541.7 334.6M575.7 338.6L580.2 347.6M522.6 331L521.7 337.9M547.3 285L550.1 264.2M494.5 296.4L485.3 277.8M547.9 346.6L549.8 356.2M527.3 345.7L524.4 357.9M594.4 307.7L603.2 302.9M481.6 323.6L468.6 328.3M496 310.3L492.1 303.8M564 344.4L566.8 354.9M481 309.5L463.2 298M567.9 343.5L569.7 354.8M527.7 290.3L526.2 276.2M525.7 307.8L526.4 305.1M564.9 289.9L570.3 273.8M549.5 345.1L549 356.6M564 339.3L569.2 350.8M559.4 337L560.8 345.8M534 329.1L531.8 335.8M508.4 340.4L507.4 350.8M530.1 344.3L527.3 353.5M504.3 321.9L498.9 326.5M490.6 298.6L477.8 280.1M559.5 343.5L561.1 352.3M589.2 316.9L597 314.5M578.4 341L581 352M503.4 292.3L499.2 274.1M485.6 315.4L474.7 318.4M596.4 329.7L601.9 338.1M601.9 316.1L615.3 316.9M565.4 341.9L567.5 353.7M589 316L593.2 317.3M515.9 326.8L514.4 332.2M569.4 304.6L574.2 297.1M515.1 293.8L509.8 281.3M503.2 291.3L494.5 275.6M560.1 344.5L564.4 356.9M495.1 334.5L490.7 343.1M536.9 327.7L538.3 335.1M518.9 338.1L515.2 346.6M539.6 344.3L542.2 356.6M568.1 310.4L569.8 307.3M498.5 294.6L493.9 276.4M551.9 330.2L551.6 335.6M590.3 332.1L598.9 341.2M505.2 300.3L498.5 289M487 319.5L476.7 322.4M484.5 305.6L468.6 295M511.9 300.7L509.2 291.4M490 330.9L484.4 340.9M583.5 330.9L586.1 339.5M543.3 346.4L543.9 357.3M493.8 302.5L483.4 291.1M517 293L511.8 279.1M601.6 321.8L613.1 324.9M595.5 316.1L604.5 313.4M553.5 345.4L555.3 354.9M503.9 297.3L498.8 284.2M564.9 312.8L570.7 310M539.8 340.6L537.9 350.1M588.4 335.2L596.6 346M544.8 293.8L545.9 280.6M518.7 306.3L518 302.7M491.9 298.5L481.9 282.9M520.9 286.6L518.9 261.7M549.9 339.7L550.7 348.8M538.5 287.8L540.4 266.9M578.6 336L582.2 345.1M483.5 304.5L469.6 291.4M491.4 300.6L480.3 287.5M558.5 343.9L559 354.5M548.7 300.5L551.2 286.8M512 309.8L509.4 305.4M494.8 328.6L486.7 337.8M514.8 326.2L509.3 329.9M549.8 340.2L549.5 348.6M565.6 290.2L566.7 273M569.2 338.5L571.4 347.8M550.8 326.8L552.5 332.2M566.5 337.2L567.3 345.6M501.5 293.2L496.3 276.2M518.3 342.5L517.3 352.5M486 329.7L475.3 337M573 342.7L574.7 355.8M575.1 337.5L578.6 346.5M581.8 335.1L584.7 343.5M490.1 333.2L483.9 342.5M548.8 293.2L551.1 275.9M573.2 339L576.8 348.3M496.4 326.4L491.1 331.7M596.7 330.6L603.1 340.3M481 310.5L462.6 302.5M548.2 287.2L550.8 268.1M557.2 304.4L560.4 295.6M587.7 300.4L596.4 284.5M499.2 319.4L494.2 321.1M484.5 318.7L473.4 321M495 327.9L489.5 334.4M504.9 297.9L501.6 285M521 295.7L521.1 284.6M539.5 297.3L541.2 282.9M604.3 313.5L622.4 308.6M564.1 299.1L565.8 290.2M539.4 339.1L539.1 349.3M537.4 295.9L537.9 285.1M586.4 304L596.5 293.3M521.1 292.4L517.9 274.3M580.2 291.1L590 274.3M537.5 314.2L536.7 312.8M586.8 311.4L594.6 308.5M552.2 295.7L549.8 285.6M518.1 343.8L517.5 355M550.6 324L551.3 327.6M498.7 303.3L493.6 296.1M549 288.7L546.1 268.9M568.7 340.3L569.7 350.1M586.8 335.7L589.6 343.4M590.8 310.3L599 309.7M507.3 340.7L505 352.4M480.2 320.7L466.9 324M548.1 313.1L546.2 314M590.3 313.5L596.7 313.6M503 339.7L497.2 351.6M582.4 294.9L591.3 276.3M514.6 289.1L512.8 268.7M570 339.6L573.6 347.2M536 296.5L536.5 289M576.4 341.3L580.4 351.3M515.7 288.2L511.1 267.5M601.8 323.5L609.8 329.2M572.4 289.1L582 269.1M515.6 326.4L513 331.9M502.2 296.7L494.5 282.9M548.6 287.1L546.9 270.8M587.6 333.1L593.2 341M562 286.3L566.1 264.7M534.3 330.4L534.4 336.2M530.1 288.6L529.4 271.9M499.9 337.7L494.4 349.2M574.3 320.6L580.4 321.7M519.1 315.6L516.2 316.8M578.4 338L580.9 346.6M494.3 297.1L484.4 284.8M600.1 316.6L610.9 316.2M527.3 336L524.9 346M486.1 303.4L471.4 289.4M509.6 336.6L506.8 345.6M530.2 322.4L531.3 324.5M506.2 323.7L503.3 324.7M494.3 295.9L480.3 282" stroke="#26844d" stroke-width="0.9" fill="none"/>
<ellipse cx="542" cy="315.7" rx="63" ry="31" fill="url(#B22)"/>
<path d="M551.2 287.3L549.9 269.3M517.1 326.5L516.1 333.4M522 328.5L515.3 334.3M539.7 302.4L537.5 292.5M530.5 292.6L526.5 274.5M487.6 331.1L477.5 341.5M591 334.4L598.6 346M589.4 305L599.5 291.5M509.6 320.5L499.9 323.2M498 308.9L488.2 306M552.5 313.8L555.1 310.8M524.5 298.2L525.8 285.9M564.4 297.9L567.2 282.5M594.8 299.8L604 285.8M580.5 303.4L586.5 297.6M480 321.1L463.7 326.3M508 317L497.5 318.7M505.6 325.1L500.4 331.9M503.2 294.8L493.3 280.9M576.9 291.1L586.5 272.2M603.5 321.9L616 327.1M519 331.7L516.5 341.6M568.4 333.9L570.5 341.9M528.7 302.5L526.3 294.6M539.8 346.6L541.1 359.3M497.6 294.4L488.3 279.5M602.1 317.6L614.8 321.6M525.9 288.3L521.6 268.1M483.8 311.8L471.2 304.4M510.6 295.7L508.2 284.5M552.6 312.9L558.9 312M573.4 293.7L580.5 277.8M536.5 333.3L536.3 341.8M492.2 329.6L485.3 340.1M484 310.8L469.9 308.1M538 309.6L538.5 299.5M552.7 338.6L553.1 349.8M518.1 307.1L514.5 297.4M595 332.4L601.9 343.9M549 295.7L552.4 276.3M527 316.7L520.1 320.1M550.2 326.8L549.3 334.4M548.7 339.4L549.7 349.4M587 334.6L591.5 345.3M480.5 317.2L467 320.7M541.5 344.3L543.4 354.5M499.3 335.6L496.2 347.7M598.3 316L612.4 311.9M582.8 302L592.5 294.1M559.5 327.1L561.5 333.8M574.7 325.3L582.5 330.2M524.3 297L517.9 284.3M594.7 309.6L607.3 306.5M599.6 310.2L613.3 304.6M575.9 318.1L582.9 320.2M558 290L560.2 271M490.4 299.5L476.1 288.6M560 307.6L566.4 303.4M530.1 302.9L530.2 288.7M530.6 295.3L531.8 276.9M536 296.5L536 285.4M578.4 334L584.5 344.7M493.4 321.6L487.2 326.2M587.2 298.3L593.9 276.7M534.6 344.3L535.2 354M516.1 291.8L512.2 270.1M570 343.2L574.4 352.7M515.9 302.1L512.4 292.4M550.7 345.1L553.2 357.7M504.9 340.7L502.6 354M533.7 344.8L533 358.3M558.8 300.6L562 286.9M582.9 335.5L589.1 346.8M490.4 301.2L478.1 285.9M565.9 325.4L572.6 330.9M481.2 309.7L462.2 305.1M520.9 312.8L511.6 312.9M518.9 302.6L512.3 292.8M485.2 329.1L477.9 337.7M575.3 340.8L580 349.8M573.9 294.1L580.6 280.2M590 300L600.3 283.4M570.2 342.6L575.9 353.7M574.7 296L580.2 281.1M569.6 288L571.1 266.5M578.2 294.9L584.4 278.3M520.2 307L511 300.9M590.2 300.8L601.2 288.4M602.5 319.1L620.5 321.4M538.3 341L537.9 352.5M549.6 337.6L551.9 347.1M532.6 345.2L532.6 358.5M559.8 286L566.2 261.6M565.2 310.9L573 309.4M502.2 332.1L497.7 340.7M521.7 343.2L521.5 354.6M544.9 332.1L543.3 340.6M511.5 290.8L506.8 273.8M510.7 298L502.3 282.4M554.9 345.9L557 358.4M480.6 322.4L464.6 327.5M600.8 314.3L614.6 313.4M503.7 340L495.4 351.1M522.5 288.4L521.4 266.4M555.2 292.1L558 277.4M547.5 309.1L554.4 302M507.7 311.3L498.3 308.3M564.6 291.5L572.8 272.5M544.1 289.8L546.3 269.5M496.6 312.4L486.1 310.5M603.2 317L616.5 321.3M520.1 343.1L518.8 353.2M505.7 301.5L501.7 286.6M550.4 316L558.2 317.9M483.8 303.8L469.8 292.8M547.6 289.7L545.8 275.9M505.5 300.5L496.5 288.5M546.7 325L545.9 331.9M519.8 286.7L513.3 263.4M573.5 336.2L578 345.1M569.4 295.9L570.7 282.4M533.7 290.7L526.5 275M564.6 343.6L567 356.4M513.1 308.7L505.2 302.5M539.9 292.7L537.6 277M571.3 332.7L571.6 341.1M542.4 293.3L542.6 277.6M564.6 313L571.4 309.6M570 307.9L577.5 306.2M518.8 301.9L515.5 289.7M537.1 300L538 288.6M517.1 344.1L513.7 354.4M597.7 321.6L609.3 327.6M601.2 308.9L615.2 300.1M583.1 336.3L587.4 346.1M487 329.5L476.6 340.1M521.1 303.9L520.4 294.1M545.3 290.8L546.3 269.2M584 336.8L587.3 348.3M479.9 313.1L467.2 308.1M581.6 329L586.2 337.5M556.1 286.6L563.4 263.3M567.2 306.4L576.7 294.9M547.4 293.5L553.3 272.1M588.4 323.9L592.6 330.7M582.7 313.5L590.6 310.1M488.3 327.5L482.6 335.1M494.3 323.1L489.2 329.6M569.8 288.3L576.6 269.7M481.4 308L466.2 297M567.7 343.2L571.3 356.4M589.1 309.7L598 305.6M604.3 319.4L621.8 321.1M529.2 321.2L521.9 325.2M596 310.9L605.3 308.8M483.8 317.7L471.5 320.6M546.2 287.6L548.1 267M565.2 339.8L570.5 350.9M510.9 342.3L506.7 351.9M573.9 325.6L578.7 333.6M523.4 342.5L517.2 355.3M593.5 323.5L599.3 329.6M599.2 328.5L606.9 336.7M498.7 294.2L487.8 277.1M558.2 335.7L561.9 342.3M524.4 341.6L522.8 352.6M499.2 338.4L495 349.9M481.8 320.7L469.8 327.2M565.1 286.9L569.7 268.8M569.3 340.9L571.5 350.5M542.4 318.4L540.8 320.8M487.5 313.9L475.4 315.9M596.5 310.1L612 302.3M554.5 296.2L555.2 283.8M503.5 296.9L494.7 283.8M505.5 312.3L495.9 306M583.5 298.4L595.7 286.7M604.1 320.7L616 328.3M597.7 304.8L615.4 291.6M566.8 339.7L572.7 351M512.7 340L507.4 352.7M602 324.8L614.6 334.3M494.6 336.1L490.7 345.8M568 324.4L574.9 327.5M561.1 289.5L563.9 272.7M514.4 309.9L504.6 307M577.8 311.2L586.6 305.9M522.6 313.4L513.9 311.9M598.5 327.6L608.3 335.2M549 295.4L548 281.7M508.4 290.2L506.2 265M480.8 309.3L466.4 301M495.8 335L490.7 345.1M544.7 289.6L542.4 270.3M495.7 295L488.8 277.6M552 346.3L552.1 357.5M509.9 311.4L503.3 306.4M505.4 293.2L499.4 277M501.1 335.3L493.1 346.1M536 328.8L536.6 335.3M559.8 292.3L561.8 277.7M487.9 329.7L476.3 339.6M592.2 330L599.2 338.1M561.5 337.7L565.6 345.1M601.3 312.3L615.3 306.5M500.8 336.4L498 348.4M585.3 294.1L593.1 275.4M522 291L515 277.8M570.9 288.6L580.3 264.8M600.9 306.8L618.2 294.8M524.6 345L524.8 357.5M583.8 314.5L592.1 313.7M568.7 332.9L571.3 343M552.8 345.3L557.5 358.3M552.8 302.2L555.4 293.6M557.1 344.1L557.6 354.3M535.2 324.8L536.7 332.1M508.4 338.6L503.9 349.7M511.7 288.7L502.1 266.8M556.1 285.6L559.3 266.7M493.8 324.6L485.9 329.6M482.4 325.7L467.5 333.5M599.9 323.5L608 331.5M559.6 316.6L569.8 318M523.3 344.9L522.3 358.6M520.1 319.7L514.1 325.5M568.4 343.5L572.9 355.7M493.7 314.7L484.2 310.8M578.8 332.6L589.4 341M533.6 305.8L528.1 299M511 321L503.9 327.4M539 305.3L536.7 293.8M603.8 317.2L617.2 318.3M514 318.5L505.3 316.5M572.5 289.8L582.6 272.8M508.1 314.8L500.3 318.7M525 338.3L522.9 348.1M566.7 305.6L573.4 297.4M594.3 298.8L601.7 282.1M603.2 323L617.9 329.8M581.6 329.6L587.3 336.9M524 325.2L520.5 333.3M487.7 320.7L475.5 326.8M549.1 325.7L548.8 333.1M542.2 304L543.8 294.8M483.4 312L468 307.4M558.9 319.8L564.4 322.3M588.2 314.6L597.9 316.3M566.6 330.9L573.1 339.9M515.8 326.6L511.8 332.8M524.6 320.5L514.9 323.7M574.1 336L579.5 343.8M506.8 335.9L503.8 344.5M556 344.9L558.8 357.9M574 341.8L576.4 354M513.8 288L508 270.9M496.1 299.3L490.1 289.6M527.4 294.1L521.8 282.5M548.5 346.5L548.7 356.3M534.6 334.4L530.7 344.2M603.1 319L616.5 322.1M526.1 343.8L525.2 355.4M577.5 341.3L580.2 354.4M569 301.6L576.7 296.2M506.6 328.9L502.4 335.6M557 338.2L560 347.3M484.2 310L468.6 307M555.6 306L557.1 297.1M594.8 330L602.3 338.3M550.5 329.6L550.4 338.5M517.1 288.3L514.9 269.8M539.9 317.4L532.8 321.4M587 337.3L591.7 349.4M499.3 338.2L491.8 348.1M600.1 321.3L612.1 328.3M522.8 289L515.6 272.3M573.8 326.3L575.1 334.3M571.7 289.8L576.6 267.7M585.9 294.4L595.6 277M505.8 341L503.7 352.1M482 316.9L468.7 313.1M497.4 329.9L491 337.7M596.6 321.3L604.8 326.2M589 301.3L598.4 290.3M516.6 321.5L508.4 324.9M563 332L568.5 337.3M536.9 328.6L534.1 336.8M480.1 312.4L460.5 308.1M527.2 332.3L523.5 341.5M480.8 313.9L461.5 309M589.2 301.3L597.3 285.5M485.8 329.6L475.2 340.7M537.3 286.6L540.4 269.6M590.1 328.6L597.4 334M550.8 285.7L550.3 267M560.4 286.1L559.5 266.1M578.3 292.7L584.7 271.6M572.6 288.9L579.4 269.7M495.5 296.7L485.7 281M527.7 293.6L527.5 280.5M512.7 343.1L510.4 352.8M492.4 333.3L486.8 343.6M521 336.2L516.3 344.8M524 288.9L521.2 274.1M604.3 311.3L625 304.8M543.4 341.9L546.5 353.1M483.3 324.1L469 329M582 292.3L585.4 275M551.1 308.1L556 301.3M514.4 288L513.3 266.9M484.1 327.9L473.8 334.1M482.2 318.1L468.4 322.6M487.8 320.4L478 325.2M562 293.8L561.2 274.5M521.8 314.3L513.7 315.8M535.8 300.3L535.2 292.2M552.8 345.5L555.3 358.5M564.7 325.9L569 331.5M479.9 312L463.9 306.2M515.7 317.1L505.3 318.4M480 316.3L463.5 315.9M593.7 320.3L601.5 321.1M544 284.9L544 263.2M553.8 345.9L554.7 356.1M564.3 290L564.7 267.6M556.4 290.8L559.9 270.3M510.7 336.2L504.7 345.8M566.3 339.8L566.1 351.4M505.2 302.4L497.3 291.7M554.2 316.4L565 316M500 329.3L491.4 338.1M591.6 323.1L600.2 326.6M582.5 291.9L589.9 272.1M550.3 297.4L553 280.7M487.1 330.9L480.6 340.1M563 342.4L567 352.2M502.1 305.4L494.2 299M515.6 310.9L508.5 304.1M561 318.4L567 322.2M573 305.5L580.9 298.9M515.8 306.1L507.1 300.2M496.4 304.6L488.2 294.4M542 301L538.7 292.1M596.5 302.6L609 286.5M552.3 341.6L555.6 351.9M577.5 341.2L580.8 354.6M561.1 339.9L561.4 352.4M485.5 327.5L477 335.2M598.7 322.4L610.3 330M494.2 334.2L485 344.8M505.7 339.2L501.7 348.7M544.8 285L543.2 261.7M596.2 300.8L612.9 288.9M585.6 320.4L590.7 326.1M595.3 317.9L605.3 316.2M503.6 340L500.7 351.8M511.2 317.6L506.6 322M508.7 289.8L503.8 270.4M578.9 298.8L583.5 284.4M549.6 335.7L552.6 343.8M591.6 306.8L604.8 296M588.2 300.7L596.2 288.2M515.2 307.5L507.2 303.4M493 305.9L480.4 294.1M565.8 291.1L573.1 278.1M559.1 321.7L565.9 328.1M568 318.8L578.5 320.9M582.6 292.1L594.6 274.7M557.1 286.1L563.1 261.5M551.8 299.6L551.5 289.8M520.9 344.1L520 357.9M556.5 328.8L561.2 334.9M523.8 344.2L523.8 357.9M510.6 342.6L507.4 354.5M529.7 296.9L527 280.5M581.4 324.6L588.8 332.1M515.2 342.3L512.9 354.2M523.5 331.3L522.1 340.7M576.4 320.8L582.3 325.7M502.6 329.3L498 340.1M561.5 287L563.2 266.7M494 327.4L481.7 335.4M516.2 330L509.7 337.3M556.6 334.4L558.4 343.6M580.2 305.2L590 298.5M553.8 292.5L556.4 277.8M488.8 299.1L474 280.3M505 339.9L501.1 351.4M524.7 345.3L521.9 354.9M539.2 338.8L541.1 349.3M539 319.7L539 328.4M596.7 305.9L608.6 298.8M547.9 303.8L552 295.6M537.3 326.6L538.4 332.7M562.4 309.1L570.7 301.3M479.8 314L464.3 309.5M486.8 318.2L473.6 318M529.9 341.2L527.5 351.9M486.9 311.8L470.8 303.3M520.1 321.7L512.2 325.4M551.1 346L551.2 357.6M533.5 287.9L530.1 263.4M571.7 302.6L578.1 291M515.3 310.8L506.6 307.4M577.2 341.2L579.1 352.3M598.9 329L607.2 339.5M518.2 329.5L510.9 335.2M493 323.1L482 327.3M482.9 305L468.2 297.8M518.2 308.9L510.1 303.5M601.6 325.7L613.1 335.3M505.6 331.6L498.3 339.8M582.7 327.2L587.4 333.2M588.5 303.7L596.4 289.9M532.5 296L530.6 280.6M555.2 287.3L556.8 267.3M597.1 315.2L607.9 312.5M590.2 312.8L598.1 310.6M546.2 310.5L550.1 302.2M524.5 326.7L520.2 332.2M584.7 300.4L590.4 289.4M505.4 317.5L496.6 321M541 294.8L537.2 282.2M552.3 285.1L549.6 263.2M487.1 301.3L474 286.5M557.2 306.9L563 301.5M570.9 314.2L579.7 314M480 316.9L463.4 314.3M500.6 293.4L494 275.6M595 320.1L606.1 326.9M541.1 288.8L540.4 272.2M528.5 286.5L527.3 266.1M500.5 326.5L495.6 335.7M570.7 342.3L572.8 352.7M577.3 300.1L583.6 291M511.1 335.1L510.2 347.5M513.2 289.3L502.7 268.2M555.3 286.1L556.2 263.6M560.8 291.2L559.6 275.1M590.7 332.8L594.3 343.2M581.3 294.7L589.5 275.3M490.5 316.5L477.8 313M492.1 332.5L482 342.6M496.6 295.4L491.1 272.7M483.4 324.8L472.2 330.3M488.5 304.6L478.5 290.5M542.5 333.8L542.8 341.6M551.7 299.4L551.5 287.8M511.8 322.2L503.6 324M542.9 345.9L545.3 358.5M515.7 306.7L510.1 300M593.1 301.8L603.4 286.5M534.3 343.9L530.8 354.6M577.2 338.3L581 350.9M595 300L606 285M554.2 337.3L553.4 347.9M511.6 331L508.9 341.2M575.3 294.8L587.8 278.1M496.5 337.1L489.4 347.3M556.5 305.9L557.3 296.5M568.7 288.7L573.3 267M604.1 320.3L618.4 326.2M508.1 318L500.1 319.8M480.5 318.3L463.4 318.2M515.4 306.1L506.8 295.4M484 313L470.2 310.4M492.2 307L485.3 295.6M581.2 318.6L588.5 322.2M526.1 294.2L526.2 281.9M507.2 338.9L501.4 350.6M485.2 316.4L471.4 316.7M587.5 317.5L595.3 319.4M497.2 321.1L490 326.2M505.3 307L497.4 300.8M518.2 318.8L509.3 321M582.6 314.6L591.7 312.2M563.6 329.6L564.1 337.4M484.1 306.8L472 298.4M568.9 289.1L576.9 274M485.9 326.6L475.8 331.8M598.6 317.4L615.7 315.6M529 343.2L530.4 352.3M585.9 314.3L600.8 312.9M492.9 332.9L487.3 344.4M573.6 324.9L579.1 330.8M536 287.3L538.1 265.5M498 325.6L489.5 329M514 315.3L507.7 318.4M594.1 333L599.7 342.5M527.7 335.6L527.6 345.7M583.2 299.7L586.9 287.4M505.1 327.9L501.5 335.1M553.2 344.7L552.5 354.4M493.1 327.9L480.5 334.4M575.3 305.9L585 300.3M504.5 313L494.9 312.7M536.5 313.7L529.6 310.1M533.6 285.1L534.8 263.9M552.6 337.8L552.2 347.5M503.3 334.4L501.3 344M585 334.3L590.2 344.4M528.3 320.2L524.1 322.4M556.9 307.5L561.8 298.2M595.4 318.3L606.1 322.7M587.3 337L594 345.8M536.4 289.5L531.8 268.8M547.8 345.2L546.4 355.3M592.8 334.1L600.1 343.4M553.6 291L559.3 275.4M568.4 320.8L574.6 324.7M597.4 315.6L607.5 314.8M518 288.5L517.9 269.4M564.6 297.9L568.6 286.2M539.7 287.2L540.6 268.5M571.3 300.4L577.2 288.2M490.8 332.4L485.6 345.2M569 334.3L575.4 343.9M524.1 293.5L520.8 273M545.3 343.7L545.6 353M501.8 332.3L495.6 340.4M585.4 313.8L598.1 312M508.6 308.4L502.1 301.4M520.2 326.6L516.5 332M573.7 333L576.4 343.3M512.8 333.6L510.1 340.7M483.9 303.7L470.2 289.3M524.2 345.4L522.8 356.9M581.7 334.2L588 344.3M564.8 343.2L566.6 355.5M523.9 286.8L521.2 262.4M560.6 331.4L562.5 340M593.7 315L602.5 315.1M571.7 339.6L573.1 351.9M495.5 326L487.8 334M593 303.6L600.5 290.2M583.3 300.1L587.9 289.8M487.5 319L471.5 322.6M485.2 305.2L475.1 292.3M522.7 290.7L522 273.5M599.4 317.8L613.9 314.1M503.2 312.4L495.2 313.1M539.9 284.7L541.1 265.8M490 333.2L482.4 345.4M546 290.5L550.7 273.5M555 288.4L561.3 270.9M534.5 330.3L534.2 340.4M532.2 291.3L529 276.1M582.2 326.8L585.4 334.4M560.5 343.5L560.6 354.3M587.7 305.1L594.6 299.5M504.8 290.7L497.9 271.2M485.3 318.8L471.8 324M553 296.3L552.1 279.6M552.8 301.6L559.9 292.6M480.2 319.4L461.6 320.6M512.3 336.5L508.5 347.8M555.4 291.6L556.4 271.5M546.4 332.9L549.6 344M500.4 323.6L491.2 328.2M580.4 291.1L586.7 273.2M533.2 333.8L532.6 343M543.6 346.7L540.7 360.2M497.4 312.6L490 313.5M501.7 299.9L496.9 284.2M584 314.3L594.2 314.7M572.5 325.9L577.2 331.8M601.6 305.7L620.6 296.4M507.3 295.7L505.5 284.4M503.1 304.3L498.2 292.2M584 294.7L593.8 275.8M503.6 334.6L495.8 342.9M558 288.4L566.7 266.5M545.8 310.2L545.6 299.3M503.4 297.6L498.7 282.1M553.6 289.3L558.6 271.7M493.5 309L481.8 301.8M517.4 307.2L516 298.7M546.1 305.9L543.3 297.1M566.8 341.8L570.1 351.6M520.7 323.5L515.5 328.9M540.6 342.1L537.9 353.7M523.2 336.7L520 345.8M579.4 326.4L585.7 333.4M496.5 330.9L487.9 339.5M598.4 302.7L612 293.6M577.4 297.2L587.1 284.6M596.2 314.4L608.7 310.1M555.3 316.3L562 318.6M583.3 329.9L589.3 339.7M530.8 320.3L526.2 326.2M481.2 309.6L466.2 298.7" stroke="#32a060" stroke-width="0.9" fill="none"/>
<g fill="#b060b0"><circle cx="59.4" cy="245.5" r="5.5"/><circle cx="59.1" cy="243.9" r="6.2"/><circle cx="65.5" cy="253" r="5.4"/><circle cx="69.4" cy="253" r="5.4"/><circle cx="75.9" cy="248.3" r="6"/><circle cx="78.6" cy="244.3" r="6.1"/></g>
<g fill="#b060b0"><circle cx="66.6" cy="297.8" r="4.1"/><circle cx="63.9" cy="301.6" r="3.9"/><circle cx="62.8" cy="293.6" r="4.1"/><circle cx="61.2" cy="294.1" r="4.2"/><circle cx="58.9" cy="294.9" r="4.5"/><circle cx="62.2" cy="288.3" r="3.7"/><circle cx="60.1" cy="287.8" r="3.8"/><circle cx="60.3" cy="286" r="4.5"/></g>
<g fill="#d87a84"><circle cx="142.6" cy="267.9" r="4.4"/><circle cx="145.7" cy="269" r="3.9"/><circle cx="138.4" cy="267.3" r="3.9"/><circle cx="138.8" cy="267.3" r="4"/><circle cx="137.6" cy="267.5" r="4.4"/><circle cx="131.2" cy="271.4" r="4.4"/><circle cx="131.8" cy="272.6" r="4.6"/></g>
<g fill="#d87a84"><circle cx="99.7" cy="269.6" r="3.4"/><circle cx="101.6" cy="270.3" r="4"/><circle cx="105" cy="274.2" r="3.9"/><circle cx="105.5" cy="277.2" r="3.6"/><circle cx="103.3" cy="281.9" r="3.5"/><circle cx="103" cy="282.8" r="3.9"/></g>
<g fill="#d87a84"><circle cx="213.4" cy="262" r="3.7"/><circle cx="213.2" cy="261.8" r="3.7"/><circle cx="213.6" cy="260.8" r="3.6"/><circle cx="215.2" cy="267.6" r="3.8"/><circle cx="214.6" cy="267.9" r="3.5"/></g>
<g fill="#d87a84"><circle cx="267.3" cy="292.3" r="3.8"/><circle cx="266.7" cy="292" r="3.7"/><circle cx="263.7" cy="287.2" r="3.3"/><circle cx="262.2" cy="289.1" r="3.7"/><circle cx="258.1" cy="284.4" r="3.8"/><circle cx="258.3" cy="284.6" r="3.6"/><circle cx="257.7" cy="286.4" r="3.8"/></g>
<g fill="#d87a84"><circle cx="258.1" cy="301" r="3.6"/><circle cx="257.7" cy="299.5" r="3.8"/><circle cx="253" cy="298.2" r="3.2"/><circle cx="252.8" cy="295.1" r="3.3"/><circle cx="253.3" cy="296.2" r="3.1"/></g>
<g fill="#d87a84"><circle cx="161.3" cy="314.1" r="4.8"/><circle cx="160.9" cy="316.2" r="4.4"/><circle cx="155.3" cy="311.9" r="3.9"/><circle cx="152.8" cy="309.6" r="4.4"/><circle cx="154" cy="310.1" r="4.4"/><circle cx="152.6" cy="302" r="4.8"/><circle cx="152.1" cy="302.7" r="4.1"/><circle cx="151" cy="305.3" r="4.5"/></g>
<g fill="#d87a84"><circle cx="104.1" cy="341.1" r="3.9"/><circle cx="106.2" cy="340.4" r="3.8"/><circle cx="107" cy="341.1" r="4.3"/><circle cx="99" cy="348.5" r="4.1"/><circle cx="101" cy="344.4" r="4.5"/><circle cx="103.3" cy="355.4" r="4.3"/><circle cx="101.6" cy="352.3" r="4.6"/><circle cx="101.9" cy="352.8" r="4.2"/></g>
<g fill="#d87a84"><circle cx="191.1" cy="346.7" r="3.9"/><circle cx="192" cy="346.6" r="3.8"/><circle cx="190.1" cy="346.3" r="3.7"/><circle cx="195.9" cy="347.1" r="3.9"/><circle cx="195.9" cy="348.3" r="3.9"/></g>
<g fill="#d87a84"><circle cx="208.8" cy="360.9" r="3.8"/><circle cx="207.9" cy="359.4" r="3.5"/><circle cx="205.5" cy="353.5" r="3.9"/><circle cx="205.7" cy="354.3" r="3.8"/></g>
<g fill="#d87a84"><circle cx="125.1" cy="348" r="3.6"/><circle cx="124.5" cy="348.1" r="3.6"/><circle cx="126.2" cy="345.4" r="3.2"/><circle cx="118.9" cy="346.2" r="3.2"/><circle cx="117.1" cy="346.2" r="3.3"/><circle cx="119.5" cy="347.1" r="3.7"/><circle cx="114.3" cy="341.9" r="3.2"/><circle cx="114.3" cy="345.1" r="3.3"/></g>
<g fill="#b24aa4"><circle cx="351.8" cy="228.9" r="3.4"/><circle cx="348.5" cy="228.5" r="3.4"/><circle cx="351" cy="228.7" r="3.5"/><circle cx="346.7" cy="226.7" r="3.3"/><circle cx="346.2" cy="227.9" r="3.7"/><circle cx="343.8" cy="227.3" r="3.9"/></g>
<g fill="#b24aa4"><circle cx="331.5" cy="298" r="3.8"/><circle cx="330.2" cy="297.3" r="4.2"/><circle cx="324.4" cy="302.6" r="4.4"/><circle cx="324" cy="301.5" r="4.4"/><circle cx="327.9" cy="300.6" r="4.5"/></g>
<g fill="#b24aa4"><circle cx="340.3" cy="357.2" r="5.9"/><circle cx="341.9" cy="354.1" r="5.2"/><circle cx="340.8" cy="358.1" r="5.1"/><circle cx="342.4" cy="347.6" r="5.4"/><circle cx="342.9" cy="345.6" r="5.9"/><circle cx="332.8" cy="346.8" r="5.9"/><circle cx="332.3" cy="345.7" r="5.7"/><circle cx="330.6" cy="345.1" r="5.7"/></g>
<g fill="#b24aa4"><circle cx="338.5" cy="345.7" r="4.5"/><circle cx="339.5" cy="342.1" r="4.1"/><circle cx="344.8" cy="342.7" r="4.3"/><circle cx="347.5" cy="343.8" r="4.4"/><circle cx="348.6" cy="334.3" r="4.5"/><circle cx="347.4" cy="336" r="4"/><circle cx="348.7" cy="335.3" r="3.9"/></g>
<g fill="#9c1896"><circle cx="222.2" cy="217.7" r="4.8"/><circle cx="220" cy="214.4" r="4.5"/><circle cx="226.2" cy="212.4" r="4.8"/><circle cx="227.2" cy="214" r="4.4"/><circle cx="233.8" cy="221.8" r="5.1"/><circle cx="233.4" cy="221.7" r="5.1"/><circle cx="233.3" cy="224" r="4.2"/></g>
<g fill="#9c1896"><circle cx="236.4" cy="225.9" r="4.7"/><circle cx="235.1" cy="229.5" r="4.6"/><circle cx="232.3" cy="228.6" r="5.3"/><circle cx="225.4" cy="232.3" r="5.4"/><circle cx="225.9" cy="228.1" r="4.5"/><circle cx="229.4" cy="228" r="5.3"/><circle cx="224.5" cy="237.1" r="5.1"/><circle cx="224.4" cy="238" r="5.3"/><circle cx="227.6" cy="240.7" r="5.4"/></g>
<g fill="#c40e0e"><circle cx="177.8" cy="246.7" r="4.1"/><circle cx="179.6" cy="244.9" r="3.9"/><circle cx="175.6" cy="253.6" r="4"/><circle cx="176.9" cy="252.2" r="4.5"/><circle cx="183.1" cy="260" r="4.8"/><circle cx="181.1" cy="260.6" r="4.7"/></g>
<g fill="#c40e0e"><circle cx="185" cy="264.8" r="4.8"/><circle cx="185.8" cy="263.8" r="4.6"/><circle cx="181.8" cy="270.5" r="4.4"/><circle cx="181.1" cy="270.6" r="4.8"/><circle cx="182.6" cy="270.8" r="4.3"/><circle cx="176.8" cy="265.2" r="4.2"/><circle cx="174.3" cy="264.1" r="4.8"/><circle cx="172.5" cy="266.2" r="4.8"/></g>
<g fill="#9c1896"><circle cx="470.5" cy="224" r="4.2"/><circle cx="469.5" cy="221" r="4.8"/><circle cx="477.1" cy="219.9" r="4.8"/><circle cx="476" cy="220.5" r="4.6"/><circle cx="476.9" cy="220" r="4.5"/><circle cx="482.6" cy="221.4" r="5.1"/><circle cx="482.2" cy="224.2" r="5"/><circle cx="481.3" cy="224.9" r="4.8"/></g>
<g fill="#9c1896"><circle cx="488.1" cy="242.8" r="4.3"/><circle cx="486.3" cy="245" r="4.6"/><circle cx="488.1" cy="243" r="4.9"/><circle cx="484.5" cy="236.7" r="4.8"/><circle cx="484.5" cy="238.8" r="5"/><circle cx="476.7" cy="238.8" r="4.2"/><circle cx="473.4" cy="236.1" r="4.2"/><circle cx="474.4" cy="238.8" r="4.6"/></g>
<g fill="#c40e0e"><circle cx="540.8" cy="250.5" r="4.6"/><circle cx="538.3" cy="251" r="4.9"/><circle cx="536.7" cy="250.4" r="4.5"/><circle cx="546.7" cy="252.2" r="4.7"/><circle cx="542.9" cy="252.2" r="4.7"/><circle cx="544.3" cy="253.6" r="5"/><circle cx="545.1" cy="261.7" r="5"/><circle cx="545.6" cy="260.7" r="4.9"/><circle cx="547.6" cy="260.4" r="4.1"/><circle cx="542.7" cy="265.8" r="4.5"/><circle cx="542.4" cy="268.3" r="4.5"/></g>
<g fill="#c40e0e"><circle cx="541.9" cy="272.7" r="3.9"/><circle cx="538.3" cy="270.1" r="4.2"/><circle cx="545.2" cy="267.6" r="4.2"/><circle cx="546.2" cy="269.1" r="3.5"/><circle cx="545.9" cy="269.7" r="4"/><circle cx="550.2" cy="269.2" r="3.8"/><circle cx="550" cy="271.9" r="3.4"/><circle cx="550.4" cy="269.7" r="3.9"/></g>
<g fill="#b060b0"><circle cx="611.3" cy="222.3" r="4.2"/><circle cx="611" cy="220.8" r="4.4"/><circle cx="608.4" cy="216" r="4"/><circle cx="608.5" cy="217.5" r="4.3"/><circle cx="605.2" cy="221.9" r="4"/><circle cx="603.7" cy="221.3" r="4.5"/></g>
<g fill="#b060b0"><circle cx="612.6" cy="234.5" r="4"/><circle cx="613.5" cy="236.1" r="3.9"/><circle cx="610.8" cy="234.8" r="4"/><circle cx="603.2" cy="237.4" r="4"/><circle cx="605" cy="237.2" r="4.2"/></g>
<g fill="#b060b0"><circle cx="677.4" cy="271.4" r="4.2"/><circle cx="678.5" cy="275.3" r="4.1"/><circle cx="682.7" cy="271.3" r="5.1"/><circle cx="684.7" cy="272.3" r="4.9"/><circle cx="682.7" cy="271.3" r="4.3"/><circle cx="691.2" cy="267.1" r="4.1"/><circle cx="690.8" cy="268.3" r="4.3"/></g>
<g fill="#b060b0"><circle cx="409.2" cy="312.4" r="4.1"/><circle cx="409" cy="308.7" r="4.6"/><circle cx="407" cy="304.5" r="4.3"/><circle cx="407.7" cy="306.7" r="4"/><circle cx="404.5" cy="304.5" r="4.6"/><circle cx="409.5" cy="297.6" r="4.4"/><circle cx="409.1" cy="300.7" r="4.5"/></g>
<g fill="#d87a84"><circle cx="467.4" cy="274.2" r="3.7"/><circle cx="465.3" cy="275.1" r="3.8"/><circle cx="459.2" cy="277.4" r="3.3"/><circle cx="462.3" cy="278" r="4"/><circle cx="460.8" cy="275.3" r="3.5"/></g>
<g fill="#d87a84"><circle cx="504.6" cy="265.2" r="4.2"/><circle cx="501.3" cy="263.2" r="3.9"/><circle cx="504.7" cy="266.3" r="3.9"/><circle cx="502.8" cy="270.8" r="4.6"/><circle cx="501.5" cy="269.5" r="4"/></g>
<g fill="#d87a84"><circle cx="581.5" cy="262.7" r="3.9"/><circle cx="583.9" cy="261.2" r="3.9"/><circle cx="576.7" cy="258.8" r="3.7"/><circle cx="575.3" cy="261.1" r="3.4"/><circle cx="577.1" cy="260" r="3.6"/><circle cx="572" cy="266.4" r="4"/><circle cx="572.5" cy="263.8" r="3.3"/></g>
<g fill="#d87a84"><circle cx="627" cy="282.4" r="4"/><circle cx="625.9" cy="282.4" r="4.3"/><circle cx="623.7" cy="287.9" r="4.1"/><circle cx="621.8" cy="285.2" r="3.5"/><circle cx="625.5" cy="293.1" r="3.6"/><circle cx="625.3" cy="290.7" r="3.6"/><circle cx="625.7" cy="294.3" r="3.8"/></g>
<g fill="#d87a84"><circle cx="618.1" cy="300.2" r="3.9"/><circle cx="619.9" cy="298.1" r="3.4"/><circle cx="614.8" cy="306.2" r="3.4"/><circle cx="615.2" cy="303.6" r="3.9"/></g>
<g fill="#d87a84"><circle cx="517.3" cy="313.7" r="4.6"/><circle cx="519.9" cy="313.3" r="4.2"/><circle cx="515.9" cy="309.6" r="4"/><circle cx="512.8" cy="310.3" r="3.9"/><circle cx="519.7" cy="304.7" r="4.7"/><circle cx="522.4" cy="302.3" r="4.6"/></g>
<g fill="#d87a84"><circle cx="455.3" cy="349.1" r="4.8"/><circle cx="458.8" cy="348.7" r="4.7"/><circle cx="458.4" cy="348" r="4.3"/><circle cx="460.7" cy="344" r="4.7"/><circle cx="463.8" cy="344.3" r="4.1"/><circle cx="469.7" cy="348" r="4.8"/><circle cx="467.3" cy="346.7" r="4.3"/><circle cx="470" cy="347.2" r="4.2"/></g>
<g fill="#d87a84"><circle cx="566.9" cy="349.3" r="4.1"/><circle cx="565.4" cy="346.7" r="4.2"/><circle cx="568.2" cy="349.1" r="4.1"/><circle cx="558.5" cy="351.1" r="3.8"/><circle cx="559.6" cy="350.8" r="3.7"/><circle cx="559.3" cy="353" r="3.9"/></g>
<g fill="#d87a84"><circle cx="472.1" cy="336.6" r="3.3"/><circle cx="471.9" cy="334" r="3.2"/><circle cx="468.2" cy="339.1" r="3.7"/><circle cx="469.9" cy="340.1" r="3.7"/><circle cx="470.5" cy="339.4" r="3"/><circle cx="468.9" cy="346.7" r="3.2"/><circle cx="468.5" cy="344.1" r="3.5"/></g>
<g fill="#d87a84"><circle cx="571.3" cy="363.1" r="3.5"/><circle cx="570.5" cy="363" r="3.8"/><circle cx="578.1" cy="360.4" r="3.5"/><circle cx="578.4" cy="358.7" r="3.9"/><circle cx="575" cy="354.3" r="3.4"/><circle cx="576.1" cy="354.1" r="4"/><circle cx="575.6" cy="352.4" r="4"/></g>
<line x1="188" y1="259" x2="220" y2="238" stroke="#e41a1a" stroke-width="1.8" marker-end="url(#ah)"/>
<line x1="493" y1="233" x2="535" y2="254" stroke="#e41a1a" stroke-width="1.8" marker-end="url(#ah)"/>
<text x="12.8" y="222.9" font-size="17" fill="#1c2a30" stroke="#1c2a30" stroke-width="0.45">(d)</text>
<text x="375.3" y="222.9" font-size="17" fill="#1c2a30" stroke="#1c2a30" stroke-width="0.45">(e)</text>
<text x="102.6" y="377.6" font-size="16.5" fill="#15202c" textLength="213.4" lengthAdjust="spacingAndGlyphs" stroke="#182228" stroke-width="0.35">signal fluctuation (desorption)</text>
<circle cx="335" cy="372.5" r="8.9" fill="none" stroke="#111a22" stroke-width="2.1"/>
<text x="335" y="378.1" font-size="15.5" fill="#111a22" text-anchor="middle" >4</text>
<text x="467.1" y="377.4" font-size="16.5" fill="#15202c" textLength="217" lengthAdjust="spacingAndGlyphs" stroke="#182228" stroke-width="0.35">signal fluctuation (adsorption)</text>
<circle cx="699" cy="372.2" r="8.9" fill="none" stroke="#111a22" stroke-width="2.1"/>
<text x="699" y="377.8" font-size="15.5" fill="#111a22" text-anchor="middle" >5</text></g><rect x="454.5" y="403.3" width="41" height="132.5" fill="#f8a2a2" />
<path d="M496 526.5H685" stroke="#f4a4aa" stroke-width="2" fill="none"/>
<path d="M676 522L686 526.5L676 531" stroke="#f4a4aa" stroke-width="2" fill="none"/>
<path d="M101.2 403.3v4M101.2 535.8v-4M140.4 403.3v4M140.4 535.8v-4M179.6 403.3v4M179.6 535.8v-4M218.8 403.3v4M218.8 535.8v-4M258 403.3v4M258 535.8v-4M297.2 403.3v4M297.2 535.8v-4M336.4 403.3v4M336.4 535.8v-4M375.6 403.3v4M375.6 535.8v-4M414.8 403.3v4M414.8 535.8v-4M62 519.3h4M454 519.3h-4M454 519.3h4M623 519.3h-4M62 502.9h4M454 502.9h-4M454 502.9h4M623 502.9h-4M62 486.9h4M454 486.9h-4M454 486.9h4M623 486.9h-4M62 470.9h4M454 470.9h-4M454 470.9h4M623 470.9h-4M62 454.6h4M454 454.6h-4M454 454.6h4M623 454.6h-4M62 438.4h4M454 438.4h-4M454 438.4h4M623 438.4h-4M62 420.9h4M454 420.9h-4M454 420.9h4M623 420.9h-4M496.2 403.3v4M496.2 535.8v-4M538.5 403.3v4M538.5 535.8v-4M580.8 403.3v4M580.8 535.8v-4" stroke="#333" stroke-width="1.2" fill="none"/>
<polyline points="62,535.8 65.9,529.2 69.8,523.2 73.8,517.7 77.7,512.7 81.6,508.2 85.5,504 89.4,500.3 93.4,496.9 97.3,493.8 101.2,491 105.1,488.4 109,486 113,483.9 116.9,481.9 120.8,480.1 124.7,478.5 128.6,477 132.6,475.6 136.5,474.4 140.4,473.2 144.3,472.2 148.2,471.3 152.2,470.4 156.1,469.6 160,468.9 163.9,468.2 167.8,467.6 171.8,467 175.7,466.5 179.6,466 183.5,465.6 187.4,465.2 191.4,464.9 195.3,464.5 199.2,464.3 203.1,464 207,463.7 211,463.5 214.9,463.3 218.8,463.1 222.7,462.9 226.6,462.8 230.6,462.6 234.5,462.5 238.4,462.4 242.3,462.3 246.2,462.2 250.2,462.1 254.1,462 258,461.9 261.9,461.9 265.8,461.8 269.8,461.8 273.7,461.7 277.6,461.7 281.5,461.6 285.4,461.6 289.4,461.5 293.3,461.5 297.2,461.5 301.1,461.4 305,461.4 309,461.4 312.9,461.4 316.8,461.4 320.7,461.3 324.6,461.3 328.6,461.3 332.5,461.3 336.4,461.3 340.3,461.3 344.2,461.3 348.2,461.2 352.1,461.2 356,461.2 359.9,461.2 363.8,461.2 367.8,461.2 371.7,461.2 375.6,461.2 379.5,461.2 383.4,461.2 387.4,461.2 391.3,461.2 395.2,461.2 399.1,461.2 403,461.2 407,461.2 410.9,461.2 414.8,461.2 418.7,461.2 422.6,461.2 426.6,461.2 430.5,461.2 434.4,461.2 438.3,461.2 442.2,461.2 446.2,461.2 450.1,461.2 454,461.2" stroke="#e6783c" stroke-width="1.6" fill="none"/>
<path d="M454 461.1H623" stroke="#e6783c" stroke-width="1.6"/>
<path d="M69.8 527.6H79.2V519.3H84.7V511.1H90.2V502.9H96.5V494.9H102V486.9H109V478.9H115.3V478.9H121.6V486.9H124.7V494.9H126.3V478.9H129.4V470.9H132.6V462.8H136.5V454.6H140.4V462.8H142.8V454.6H146.7V462.8H148.2V454.6H152.2V462.8H154.5V454.6H156.1V446.5H158.4V429.6H160V420.9H163.9V429.6H166.3V438.4H168.6V446.5H171.8V462.8H183.5V454.6H185.9V462.8H196.8V454.6H199.2V462.8H209.4V454.6H213.3V446.5H216.4V429.6H221.2V438.4H223.5V429.6H226.6V438.4H228.2V420.9H230.6V429.6H234.5V438.4H236.8V446.5H242.3V438.4H247V429.6H251.7V438.4H254.1V446.5H258V454.6H261.9V462.8H267.4V470.9H274.5V478.9H276.8V470.9H286.2V478.9H288.6V470.9H293.3V462.8H295.6V470.9H297.2V478.9H298.8V470.9H304.3V462.8H311.3V470.9H322.3V478.9H340.3V486.9H341.1V478.9H342.7V470.9H345V478.9H359.9V486.9H364.6V478.9H367V486.9H380.3V478.9H382.7V486.9H388.9V494.9H391.3V486.9H396.8V478.9H399.9V486.9H407.7V478.9H410.9V470.9H414.8V454.6H418.7V446.5H422.6V454.6H425.8V446.5H428.9V438.4H433.6V446.5H436V454.6H438.3V462.8H450.1V470.9H452.4V462.8H454V462.8H454" stroke="#3b95d6" stroke-width="1.4" fill="none"/>
<path d="M454.3 470.9H454.6V470.9H454.8V478.9H455.1V478.9H455.3V478.9H455.6V486.9H455.8V470.9H456V478.9H456.4V486.9H456.7V478.9H457.1V478.9H457.4V462.8H457.8V462.8H458.1V462.8H458.4V462.8H458.8V462.8H459.1V446.5H459.5V446.5H459.8V446.5H460.2V454.6H460.5V446.5H460.9V429.6H461.2V438.4H461.5V420.9H461.9V429.6H462.2V412.1H462.6V403.3H462.9V420.9H463.3V403.3H463.4V403.3H463.6V420.9H463.8V420.9H464V412.1H464.1V429.6H464.3V420.9H464.5V429.6H464.8V420.9H465.2V438.4H465.5V438.4H465.9V446.5H466.2V446.5H466.5V446.5H466.9V446.5H467.2V438.4H467.6V438.4H467.9V438.4H468.3V438.4H468.6V438.4H469V429.6H469.3V438.4H469.6V429.6H470V438.4H470.3V446.5H470.7V446.5H471V446.5H471.4V446.5H471.7V454.6H472.1V446.5H472.4V454.6H472.8V438.4H473.1V454.6H473.4V454.6H473.8V438.4H474.1V446.5H474.5V438.4H474.8V446.5H475.2V438.4H475.5V438.4H475.9V438.4H476.2V454.6H476.5V446.5H476.9V454.6H477.2V454.6H477.6V454.6H477.9V438.4H478.3V438.4H478.6V438.4H479V446.5H479.3V429.6H479.6V438.4H480V438.4H480.3V438.4H480.7V420.9H481V438.4H481.4V412.1H481.7V420.9H482.1V429.6H482.4V438.4H482.7V429.6H483.1V438.4H483.4V438.4H483.8V438.4H484.1V438.4H484.5V438.4H484.8V446.5H485.2V454.6H485.5V462.8H485.9V478.9H486.2V462.8H486.5V462.8H486.9V478.9H487.2V470.9H487.6V470.9H487.9V470.9H488.3V478.9H488.6V478.9H488.8V478.9H489V478.9H489.1V478.9H489.3V494.9H489.5V478.9H489.6V486.9H489.8V494.9H490V478.9H490.2V486.9H490.3V494.9H490.5V478.9H490.7V478.9H490.9V470.9H491V470.9H491.4V462.8H491.7V478.9H492.1V470.9H492.4V470.9H492.7V486.9H493.1V478.9H493.4V486.9H493.8V470.9H494.1V470.9H494.5V478.9H494.8V470.9H495.2V462.8H495.5V462.8H495.8V454.6H496.2V462.8H496.5V470.9H496.9V470.9H497.2V462.8H497.6V462.8H497.9V454.6H498.3V454.6H498.6V454.6H499V470.9H499.3V470.9H499.6V462.8H500V470.9H500.3V478.9H500.7V478.9H501V470.9H501.4V470.9H501.7V462.8H502.1V470.9H502.4V462.8H502.7V462.8H503.1V462.8H503.4V462.8H503.8V454.6H504.1V462.8H504.5V454.6H504.8V454.6H505.2V446.5H505.5V454.6H505.8V446.5H506.2V462.8H506.5V462.8H506.9V470.9H507.2V470.9H507.6V478.9H507.9V478.9H508.3V486.9H508.6V486.9H508.9V494.9H509.3V486.9H509.6V502.9H510V502.9H510.3V502.9H510.7V502.9H511V502.9H511.4V494.9H511.7V486.9H512.1V478.9H512.4V486.9H512.7V486.9H513.1V478.9H513.4V486.9H513.8V494.9H514.1V494.9H514.5V486.9H514.8V502.9H515.2V494.9H515.5V494.9H515.8V494.9H516.2V494.9H516.5V494.9H516.9V494.9H517.2V494.9H517.6V478.9H517.9V486.9H518.3V494.9H518.6V494.9H518.9V486.9H519.3V502.9H519.6V502.9H520V494.9H520.3V494.9H520.7V486.9H521V478.9H521.4V478.9H521.7V478.9H522V470.9H522.4V470.9H522.7V470.9H523.1V478.9H523.4V478.9H523.8V486.9H524.1V486.9H524.5V478.9H524.8V494.9H525.2V478.9H525.5V486.9H525.8V478.9H526.2V478.9H526.5V470.9H526.9V486.9H527.2V478.9H527.6V470.9H527.9V486.9H528.3V478.9H528.6V486.9H528.9V486.9H529.3V494.9H529.6V502.9H530V502.9H530.3V486.9H530.7V494.9H531V486.9H531.4V478.9H531.7V470.9H532V478.9H532.4V478.9H532.7V478.9H533.1V478.9H533.4V470.9H533.8V462.8H534.1V470.9H534.5V446.5H534.8V454.6H535.1V462.8H535.5V462.8H535.8V454.6H536.2V462.8H536.5V470.9H536.9V462.8H537.2V470.9H537.6V470.9H537.9V470.9H538.3V486.9H538.6V478.9H538.9V486.9H539.3V494.9H539.6V486.9H540V486.9H540.3V502.9H540.7V494.9H541V494.9H541.4V494.9H541.7V511.1H541.9V502.9H542V494.9H542.2V502.9H542.4V494.9H542.6V511.1H542.7V502.9H542.9V502.9H543.3V511.1H543.6V511.1H543.9V486.9H544.3V494.9H544.6V486.9H545V494.9H545.3V486.9H545.8V478.9H546.4V470.9H546.9V462.8H547.4V470.9H547.9V454.6H548.4V454.6H548.9V446.5H549.3V446.5H549.6V446.5H550V446.5H550.3V429.6H550.7V446.5H551V429.6H551.4V429.6H551.7V429.6H552V429.6H552.4V438.4H552.7V438.4H553.1V429.6H553.4V438.4H553.8V438.4H554.1V429.6H554.5V429.6H554.8V429.6H555.1V438.4H555.5V438.4H555.8V429.6H556.2V412.1H556.5V429.6H556.9V429.6H557.2V438.4H557.6V438.4H557.9V438.4H558.2V438.4H558.6V454.6H558.9V446.5H559.3V446.5H559.6V454.6H560V446.5H560.3V454.6H560.7V462.8H561V454.6H561.3V470.9H561.7V470.9H562V462.8H562.4V462.8H562.7V470.9H563.1V478.9H563.4V470.9H563.8V470.9H564.1V462.8H564.5V462.8H564.8V454.6H565.1V446.5H565.5V454.6H565.8V454.6H566.2V438.4H566.5V446.5H566.9V454.6H567.2V454.6H567.6V454.6H567.9V446.5H568.2V462.8H568.6V462.8H568.9V462.8H569.3V454.6H569.6V446.5H570V454.6H570.3V446.5H570.7V454.6H571V454.6H571.3V454.6H571.7V438.4H572V446.5H572.4V454.6H572.7V438.4H573.1V446.5H573.4V438.4H573.8V438.4H574.1V438.4H574.4V429.6H574.8V429.6H575.1V429.6H575.5V420.9H575.8V429.6H576.2V438.4H576.5V446.5H576.9V454.6H577.2V446.5H577.6V454.6H577.9V454.6H578.2V462.8H578.6V462.8H578.9V470.9H579.3V462.8H579.6V454.6H580V470.9H580.3V462.8H580.7V470.9H581V462.8H581.3V470.9H581.7V462.8H582V462.8H582.4V454.6H582.7V454.6H583.1V454.6H583.4V470.9H583.8V470.9H584.1V462.8H584.4V470.9H584.8V478.9H585.1V486.9H585.3V478.9H585.5V494.9H585.7V494.9H585.8V486.9H586V502.9H586.2V494.9H586.3V494.9H586.5V502.9H586.7V494.9H586.9V502.9H587V486.9H587.2V486.9H587.4V486.9H587.5V470.9H587.9V478.9H588.2V462.8H588.6V462.8H588.9V478.9H589.3V470.9H589.6V454.6H590V446.5H590.3V470.9H590.7V462.8H591V470.9H591.3V454.6H591.7V470.9H592V462.8H592.4V462.8H592.7V462.8H593.1V462.8H593.4V454.6H593.8V454.6H594.1V446.5H594.4V454.6H594.8V454.6H595.1V454.6H595.5V454.6H595.8V462.8H596.2V454.6H596.5V462.8H596.9V462.8H597.2V470.9H597.5V462.8H597.9V462.8H598.2V462.8H598.6V462.8H598.9V462.8H599.3V478.9H599.6V470.9H600V470.9H600.3V454.6H600.6V454.6H601V454.6H601.3V446.5H601.7V438.4H602V429.6H602.4V429.6H602.7V429.6H603.1V429.6H603.4V438.4H603.8V438.4H604.1V446.5H604.4V438.4H604.8V438.4H605.1V429.6H605.5V429.6H605.8V429.6H606.2V420.9H606.5V429.6H606.9V412.1H607.2V429.6H607.5V420.9H607.9V438.4H608.2V438.4H608.6V438.4H608.9V438.4H609.3V446.5H609.6V429.6H610V446.5H610.3V446.5H610.6V454.6H611V454.6H611.3V446.5H611.7V454.6H612V454.6H612.4V454.6H612.7V454.6H613.1V462.8H613.4V470.9H613.7V462.8H614.1V462.8H614.4V470.9H614.8V470.9H615.1V478.9H615.5V486.9H615.8V478.9H616.2V478.9H616.5V494.9H616.9V494.9H617.2V486.9H617.5V478.9H617.9V486.9H618.2V470.9H618.6V470.9H618.9V478.9H619.3V470.9H619.6V462.8H620V462.8H620.3V470.9H620.6V454.6H621V454.6H621.3V446.5H621.5V446.5H621.7V462.8H621.8V454.6H622V462.8H622.2V446.5H622.4V454.6H622" stroke="#2a80c8" stroke-width="1.3" fill="none"/>
<rect x="62" y="403.3" width="561" height="132.5" fill="none" stroke="#333" stroke-width="1.4"/>
<path d="M454 403.3V535.8" stroke="#333" stroke-width="1.8"/>
<circle cx="70.5" cy="529" r="9.3" fill="none" stroke="#111" stroke-width="1.9"/>
<text x="70.5" y="534.3" font-size="15" fill="#222" text-anchor="middle" >1</text>
<circle cx="116" cy="484" r="9.3" fill="rgba(255,255,255,0.6)" stroke="#111" stroke-width="1.9"/>
<text x="116" y="489.3" font-size="15" fill="#222" text-anchor="middle" >2</text>
<circle cx="259" cy="460" r="9.3" fill="rgba(255,255,255,0.8)" stroke="#111" stroke-width="1.9"/>
<text x="259" y="465.3" font-size="15" fill="#222" text-anchor="middle" >3</text>
<circle cx="320" cy="492" r="9.3" fill="none" stroke="#111" stroke-width="1.9"/>
<text x="320" y="497.3" font-size="15" fill="#222" text-anchor="middle" >4</text>
<circle cx="408" cy="496.5" r="9.3" fill="none" stroke="#111" stroke-width="1.9"/>
<text x="408" y="501.8" font-size="15" fill="#222" text-anchor="middle" >5</text>
<text x="64.5" y="419.5" font-size="16.5" fill="#262626" textLength="15" lengthAdjust="spacingAndGlyphs" >(f)</text>
<text x="60" y="410.1" font-size="15.5" fill="#262626" text-anchor="end" >16</text>
<text x="60" y="445.2" font-size="15.5" fill="#262626" text-anchor="end" >12</text>
<text x="60" y="477.7" font-size="15.5" fill="#262626" text-anchor="end" >8</text>
<text x="60" y="509.7" font-size="15.5" fill="#262626" text-anchor="end" >4</text>
<text x="58.5" y="539.8" font-size="15.5" fill="#262626" text-anchor="end" >0</text>
<text x="62.3" y="551.2" font-size="15.5" fill="#262626" text-anchor="middle" >0</text>
<text x="140.7" y="551.2" font-size="15.5" fill="#262626" text-anchor="middle" >1</text>
<text x="219.1" y="551.2" font-size="15.5" fill="#262626" text-anchor="middle" >2</text>
<text x="297.5" y="551.2" font-size="15.5" fill="#262626" text-anchor="middle" >3</text>
<text x="375.9" y="551.2" font-size="15.5" fill="#262626" text-anchor="middle" >4</text>
<text x="454" y="551.2" font-size="15.5" fill="#262626" text-anchor="middle" >5</text>
<text x="496.2" y="551.2" font-size="15.5" fill="#262626" text-anchor="middle" >10</text>
<text x="538.5" y="551.2" font-size="15.5" fill="#262626" text-anchor="middle" >15</text>
<text x="580.8" y="551.2" font-size="15.5" fill="#262626" text-anchor="middle" >20</text>
<text x="623" y="551.2" font-size="15.5" fill="#262626" text-anchor="middle" >25</text>
<text x="205" y="568.4" font-size="16" fill="#262626" textLength="102.4" lengthAdjust="spacingAndGlyphs" >time [10000 s]</text>
<text font-size="15.5" fill="#262626" text-anchor="middle" transform="translate(20.3 472) rotate(-90)" textLength="126" lengthAdjust="spacingAndGlyphs">number of bound</text>
<text font-size="15.5" fill="#262626" text-anchor="middle" transform="translate(41.3 471.7) rotate(-90)" textLength="68.5" lengthAdjust="spacingAndGlyphs">molecules</text>
<path d="M726.8 403.3v4M726.8 535.8v-4M765.7 403.3v4M765.7 535.8v-4M804.6 403.3v4M804.6 535.8v-4M843.6 403.3v4M843.6 535.8v-4M882.5 403.3v4M882.5 535.8v-4M921.5 403.3v4M921.5 535.8v-4M960.4 403.3v4M960.4 535.8v-4M999.4 403.3v4M999.4 535.8v-4M1038.3 403.3v4M1038.3 535.8v-4M687.8 519.4h4M1077.3 519.4h-4M687.8 503h4M1077.3 503h-4M687.8 487.2h4M1077.3 487.2h-4M687.8 454.8h4M1077.3 454.8h-4M687.8 438.1h4M1077.3 438.1h-4M687.8 420.7h4M1077.3 420.7h-4" stroke="#c8464c" stroke-width="1.2" fill="none"/>
<path d="M687.8 471.4H1077.3" stroke="#d9a070" stroke-width="2.6"/>
<path d="M689.3 488.8H691V496.7H695.9V496.7H695.9V488.8H701.9V488.8H701.9V480.9H709.1V480.9H709.1V473H718.8V473H718.8V480.9H723.6V480.9H723.6V473H727.2V473H727.2V480.9H734.5V480.9H734.5V488.8H736.1V488.8H736.1V480.9H739.3V473H741.7V464.7H744.1V456.4H745.3V448.1H750.1V448.1H750.1V456.4H752.1V456.4H752.1V448.1H753.8V439.8H756.2V431.1H758.1V431.1H758.6V439.8H761V448.1H767V448.1H767V456.4H769V456.4H769V448.1H771.9V448.1H773.1V439.8H775.5V431.1H777.9V422.4H780.3V413.7H785.1V413.7H786.3V422.4H788.7V431.1H789.9V448.1H793.6V456.4H796V464.7H804.4V464.7H805.6V456.4H808V456.4H809.2V464.7H810.5V473H811.7V464.7H814.1V456.4H816.5V448.1H828.5V448.1H829.8V439.8H832.2V439.8H833.4V448.1H835.8V456.4H837V464.7H839.4V464.7H840.6V456.4H841.8V448.1H844.2V439.8H846.6V448.1H847.8V456.4H851.5V456.4H852.7V448.1H855.1V456.4H857.5V464.7H862.3V464.7H863.5V448.1H865.9V448.1H867.1V456.4H878V456.4H879.2V464.7H885V464.7H880V464.7H890.9V464.7H892.1V473H901.7V473H902.9V464.7H906.5V456.4H915V456.4H916.2V448.1H923.4V448.1H923.4V456.4H925.4V456.4H925.4V448.1H928.3V448.1H928.3V456.4H930.2V456.4H930.2V448.1H940.3V448.1H942.7V439.8H943.9V431.1H945.1V439.8H947.6V448.1H947.6V464.7H949.5V464.7H949.5V448.1H962V448.1H963.2V439.8H968.1V439.8H969.3V448.1H971.7V439.8H974.1V448.1H975.3V464.7H976.5V473H978.9V464.7H981.3V473H983.7V473H984.9V480.9H988.6V480.9H989.8V488.8H992.2V480.9H1004.2V480.9H1005.5V488.8H1007.4V488.8H1007.4V480.9H1017.5V480.9H1018.7V488.8H1021.1V496.7H1022.3V504.6H1032V504.6H1034.4V496.7H1035.6V488.8H1039.2V480.9H1041.6V473H1045.3V473H1046.5V480.9H1047.7V488.8H1048.9V496.7H1054.9V496.7H1056.1V488.8H1058.5V488.8H1058.5V496.7H1059.7V496.7H1059.7V488.8H1073V488.8H1074.2V480.9H1076.6V480.9" stroke="#2f80c4" stroke-width="1.4" fill="none"/>
<rect x="687.8" y="403.3" width="389.5" height="132.5" fill="none" stroke="#ec4e58" stroke-width="1.9"/>
<text x="693.5" y="423.4" font-size="16.5" fill="#262626" textLength="19" lengthAdjust="spacingAndGlyphs" >(g)</text>
<text x="686" y="410.9" font-size="15.5" fill="#262626" text-anchor="end" >+8</text>
<text x="686" y="444" font-size="15.5" fill="#262626" text-anchor="end" >+4</text>
<text x="686" y="477.3" font-size="15.5" fill="#262626" text-anchor="end" >0</text>
<text x="686" y="509.5" font-size="15.5" fill="#262626" text-anchor="end" >-4</text>
<text x="686" y="543.4" font-size="15.5" fill="#262626" text-anchor="end" >-8</text>
<text x="689.3" y="551.6" font-size="15.5" fill="#262626" text-anchor="middle" >5</text>
<text x="765.7" y="551.6" font-size="15.5" fill="#262626" text-anchor="middle" >6</text>
<text x="843.6" y="551.6" font-size="15.5" fill="#262626" text-anchor="middle" >7</text>
<text x="921.5" y="551.6" font-size="15.5" fill="#262626" text-anchor="middle" >8</text>
<text x="999.4" y="551.6" font-size="15.5" fill="#262626" text-anchor="middle" >9</text>
<text x="1077.3" y="551.6" font-size="15.5" fill="#262626" text-anchor="middle" >10</text>
<text x="827" y="568.4" font-size="16" fill="#262626" textLength="103" lengthAdjust="spacingAndGlyphs" >time [10000 s]</text>
<circle cx="1086.6" cy="545.3" r="2.1" fill="#111"/>
<text font-size="15.5" fill="#262626" text-anchor="middle" transform="translate(657 470) rotate(-90)" textLength="151" lengthAdjust="spacingAndGlyphs">deviation from mean</text>
<text x="722.4" y="511" font-size="16" font-weight="bold" fill="#1aa2ea" textLength="209" lengthAdjust="spacingAndGlyphs">Single-molecule fluctuations</text>
<text x="986.6" y="457.9" font-size="15" font-weight="bold" fill="#e8141f" textLength="84" lengthAdjust="spacingAndGlyphs">equilibrium</text>
<path d="M820.7 215.4v2M820.7 357.8v-2M825.7 215.4v2M825.7 357.8v-2M829.9 215.4v2M829.9 357.8v-2M833.6 215.4v2M833.6 357.8v-2M836.8 215.4v2M836.8 357.8v-2M839.7 215.4v4M839.7 357.8v-4M858.7 215.4v2M858.7 357.8v-2M869.8 215.4v2M869.8 357.8v-2M877.7 215.4v2M877.7 357.8v-2M883.8 215.4v2M883.8 357.8v-2M888.8 215.4v2M888.8 357.8v-2M893 215.4v2M893 357.8v-2M896.7 215.4v2M896.7 357.8v-2M899.9 215.4v2M899.9 357.8v-2M902.8 215.4v4M902.8 357.8v-4M921.8 215.4v2M921.8 357.8v-2M932.9 215.4v2M932.9 357.8v-2M940.8 215.4v2M940.8 357.8v-2M946.9 215.4v2M946.9 357.8v-2M951.9 215.4v2M951.9 357.8v-2M956.1 215.4v2M956.1 357.8v-2M959.8 215.4v2M959.8 357.8v-2M963 215.4v2M963 357.8v-2M965.9 215.4v4M965.9 357.8v-4M984.9 215.4v2M984.9 357.8v-2M996 215.4v2M996 357.8v-2M1003.9 215.4v2M1003.9 357.8v-2M1010 215.4v2M1010 357.8v-2M1015 215.4v2M1015 357.8v-2M1019.2 215.4v2M1019.2 357.8v-2M1022.9 215.4v2M1022.9 357.8v-2M1026.1 215.4v2M1026.1 357.8v-2M818.3 347.1h2M1029 347.1h-2M818.3 340.8h2M1029 340.8h-2M818.3 336.4h2M1029 336.4h-2M818.3 332.9h2M1029 332.9h-2M818.3 330.1h2M1029 330.1h-2M818.3 327.7h2M1029 327.7h-2M818.3 325.6h2M1029 325.6h-2M818.3 323.8h2M1029 323.8h-2M818.3 322.2h4M1029 322.2h-4M818.3 311.5h2M1029 311.5h-2M818.3 305.2h2M1029 305.2h-2M818.3 300.8h2M1029 300.8h-2M818.3 297.3h2M1029 297.3h-2M818.3 294.5h2M1029 294.5h-2M818.3 292.1h2M1029 292.1h-2M818.3 290h2M1029 290h-2M818.3 288.2h2M1029 288.2h-2M818.3 286.6h4M1029 286.6h-4M818.3 275.9h2M1029 275.9h-2M818.3 269.6h2M1029 269.6h-2M818.3 265.2h2M1029 265.2h-2M818.3 261.7h2M1029 261.7h-2M818.3 258.9h2M1029 258.9h-2M818.3 256.5h2M1029 256.5h-2M818.3 254.4h2M1029 254.4h-2M818.3 252.6h2M1029 252.6h-2M818.3 251h4M1029 251h-4M818.3 240.3h2M1029 240.3h-2M818.3 234h2M1029 234h-2M818.3 229.6h2M1029 229.6h-2M818.3 226.1h2M1029 226.1h-2M818.3 223.3h2M1029 223.3h-2M818.3 220.9h2M1029 220.9h-2M818.3 218.8h2M1029 218.8h-2M818.3 217h2M1029 217h-2" stroke="#222" stroke-width="1" fill="none"/>
<polyline points="819.4,236.4 820.9,236.8 822.4,236.7 823.9,237.1 825.4,237.2 826.9,236.6 828.4,236.6 829.9,237.6 831.4,237 832.9,237.1 834.4,238.1 835.9,237.4 837.4,237.7 838.9,237.2 840.4,237.3 841.9,236.6 843.4,237.1 844.9,237.3 846.4,236.8 847.9,236.9 849.4,236.7 850.9,236 852.4,236.8 853.9,236.7 855.4,236.3 856.9,236 858.4,237.1 859.9,236.6 861.4,236.9 862.9,237.1 864.4,236.8 865.9,236.9 867.4,236.1 868.9,236.4 870.4,235.8 871.9,236.3 873.4,236 874.9,235.2 876.4,235.6 877.9,236 879.4,237.3 880.9,236.9 882.4,237.7 883.9,237 885.4,237.5 886.9,237.2 888.4,237.1 889.9,237.7 891.4,237.7 892.9,238.5 894.4,238.2 895.9,239 897.4,239 898.9,239.5 900.4,239 901.9,238.2 903.4,240.2 904.9,240.8 906.4,241.2 907.9,241.1 909.4,242.2 910.9,241.8 912.4,244 913.9,244.1 915.4,244.3 916.9,244.7 918.4,247.4 919.9,248.6 921.4,246.7 922.9,250.5 924.4,250 925.9,250 927.4,251.6 928.9,254.5 930.4,255.9 931.9,253.6 933.4,257 934.9,255.7 936.4,259.5 937.9,259.3 939.4,262.7 940.9,264.4 942.4,263.7 943.9,266.9 945.4,265.4 946.9,265.8 948.4,269.1 949.9,268.1 951.4,270 952.9,272.2 954.4,274.3 955.9,273.7 957.4,274.6 958.9,279.2 960.4,278.2 961.9,282.1 963.4,283.1 964.9,282.4 966.4,284 967.9,285.5 969.4,287.3 970.9,288.5 972.4,290 973.9,291.9 975.4,294.8 976.9,294.7 978.4,296 979.9,298.8 981.4,298.5 982.9,300.3 984.4,304.8 985.9,305 987.4,307.1 988.9,306.9 990.4,310.5 991.9,313.1 993.4,312.8 994.9,317.2 996.4,319.2 997.9,318.6 999.4,322.4 1000.9,323.3 1002.4,325.7 1003.9,325.9 1005.4,328.8 1006.9,330.4 1008.4,329.1 1009.9,330.7 1011.4,334.7 1012.9,337.4 1014.4,336.4 1015.9,339.1 1017.4,341.5 1018.9,342.3 1020.4,344.3 1021.9,346 1023.4,348.1 1024.9,350.9 1026.4,351.6 1027.9,353.5 1028,355" stroke="#000" stroke-width="4.2" fill="none" stroke-linejoin="round" stroke-linecap="round"/>
<polyline points="925,250.8 927,252.1 929,253.5 931,254.9 933,256.2 935,257.6 937,259.2 939,260.8 941,262.5 943,264.2 945,265.9 947,267.5 949,269.2 951,270.9 953,272.6 955,274.3 957,276 959,277.8 961,279.5 963,281.2 965,282.9 967,284.7 969,286.4 971,288.3 973,290.4 975,292.6 977,294.8 979,296.9 981,299.1 983,301.2 985,303.7 987,306.3 989,309 991,311.6 993,314.2 995,316.9 997,319.5 999,321.5 1001,323.5 1003,325.5 1005,327.6 1007,329.6 1009,331.6 1011,333.6 1013,335.6 1015,338.1 1017,340.6 1019,343.1 1021,345.6 1023,348.1 1025,350.6" stroke="#000" stroke-width="6.5" fill="none" stroke-linecap="round"/>
<polyline points="819.4,236.7 835,237.5 850,236.5 863.4,236.7 874,235.5 883,237.5 892.8,237.5 900,238.5 906,240 914,244 922,248.7 935.6,258 951.6,271.4 970.3,287.5 983.7,302 997,319.5 1013,335.6 1027.7,354" stroke="#e85a5c" stroke-width="1.9" stroke-dasharray="6 4" fill="none"/>
<rect x="818.3" y="215.4" width="210.7" height="142.4" fill="none" stroke="#222" stroke-width="1.3"/>
<text x="1005" y="234.2" font-size="17.5" fill="#262626" textLength="19.5" lengthAdjust="spacingAndGlyphs" >(h)</text>
<text x="806" y="222.3" font-size="15" fill="#262626" text-anchor="end">10</text>
<text x="805.5" y="215.7" font-size="10" fill="#262626">-1</text>
<text x="806" y="257.9" font-size="15" fill="#262626" text-anchor="end">10</text>
<text x="805.5" y="251.3" font-size="10" fill="#262626">-2</text>
<text x="806" y="293.5" font-size="15" fill="#262626" text-anchor="end">10</text>
<text x="805.5" y="286.9" font-size="10" fill="#262626">-3</text>
<text x="806" y="329.1" font-size="15" fill="#262626" text-anchor="end">10</text>
<text x="805.5" y="322.5" font-size="10" fill="#262626">-4</text>
<text x="806" y="364.7" font-size="15" fill="#262626" text-anchor="end">10</text>
<text x="805.5" y="358.1" font-size="10" fill="#262626">-5</text>
<text x="841.2" y="375" font-size="15" fill="#262626" text-anchor="end">10</text>
<text x="840.9" y="368.4" font-size="10" fill="#262626">-6</text>
<text x="904.3" y="375" font-size="15" fill="#262626" text-anchor="end">10</text>
<text x="904" y="368.4" font-size="10" fill="#262626">-5</text>
<text x="967.4" y="375" font-size="15" fill="#262626" text-anchor="end">10</text>
<text x="967.1" y="368.4" font-size="10" fill="#262626">-4</text>
<text x="1030.5" y="375" font-size="15" fill="#262626" text-anchor="end">10</text>
<text x="1030.2" y="368.4" font-size="10" fill="#262626">-3</text>
<text x="870.7" y="389.7" font-size="16" fill="#262626" textLength="106.2" lengthAdjust="spacingAndGlyphs" >frequency [Hz]</text>
<text font-size="15.5" fill="#262626" text-anchor="middle" transform="translate(782 289.5) rotate(-90)" textLength="120" lengthAdjust="spacingAndGlyphs">power spectrum</text>
<text x="838.4" y="283" font-size="16" fill="#222" textLength="81.5" lengthAdjust="spacingAndGlyphs"><tspan fill="#e8242c">Fit</tspan> to power</text>
<text x="838.4" y="303.5" font-size="16" fill="#222" textLength="106" lengthAdjust="spacingAndGlyphs" >spectrum yields</text>
<text x="838.4" y="324.7" font-size="16" fill="#222" textLength="88.6" lengthAdjust="spacingAndGlyphs" >rate constant</text>
<path d="M979.2 322V472" stroke="#74c8f2" stroke-width="2.2"/>
<path d="M974.6 325L979.2 308L984 325Z" fill="#74c8f2"/></svg></body></html>
